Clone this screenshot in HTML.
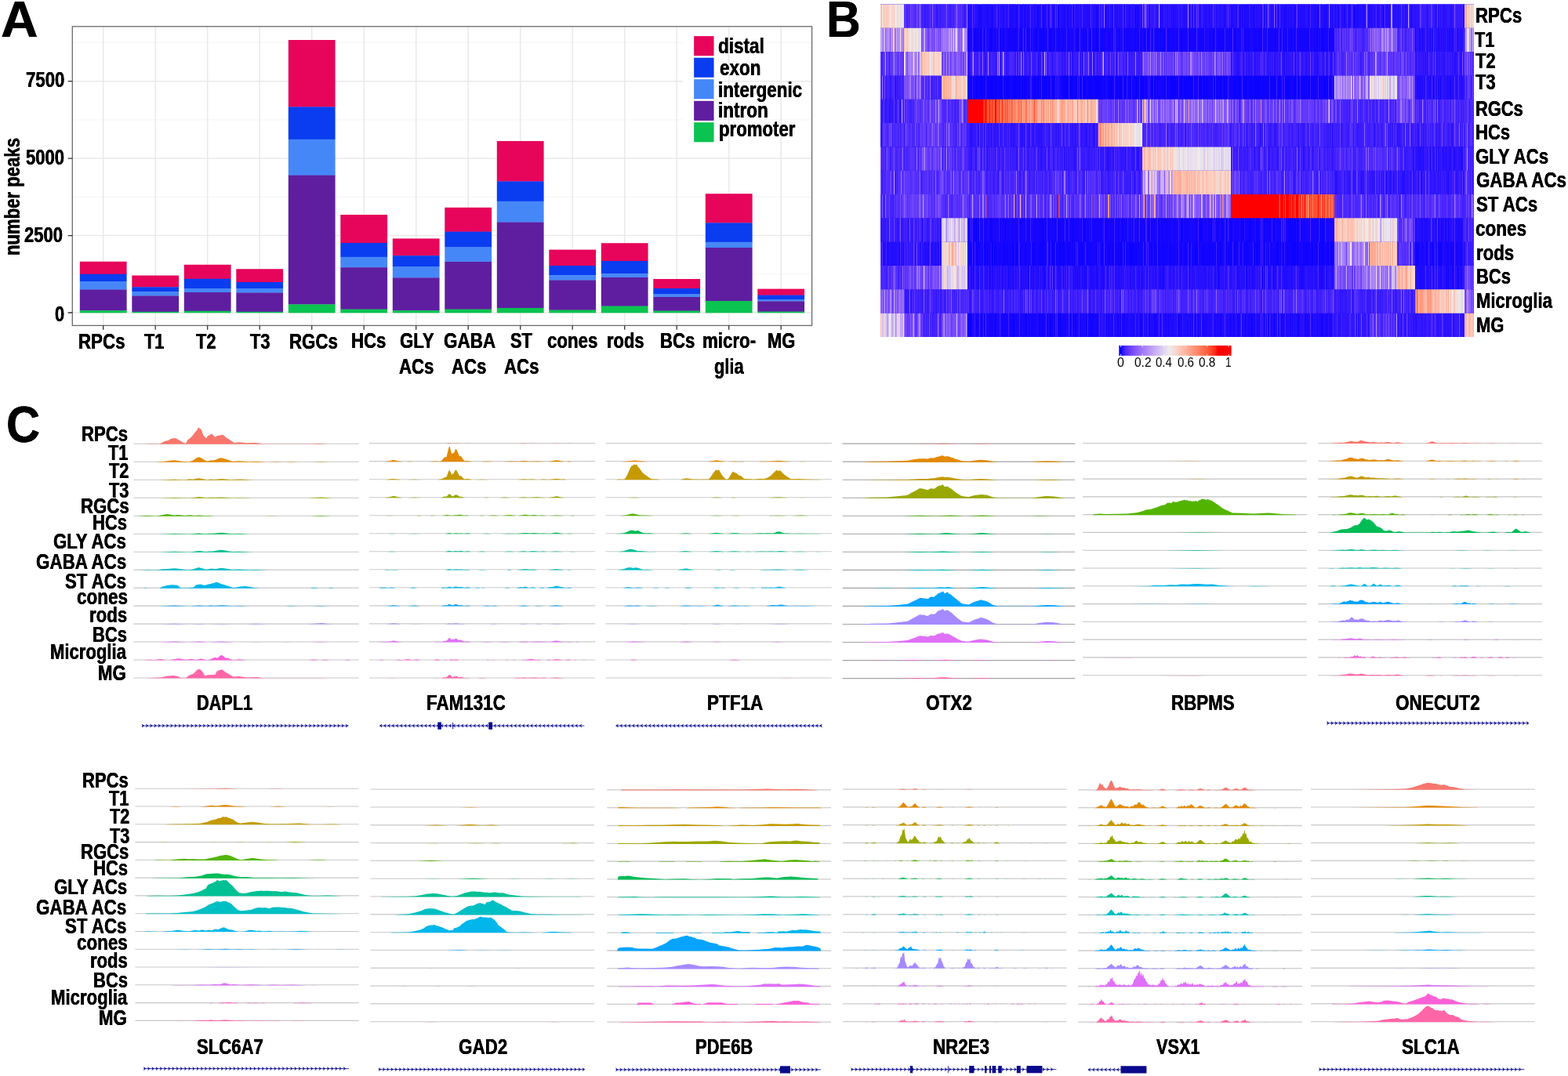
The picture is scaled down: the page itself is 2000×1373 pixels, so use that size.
<!DOCTYPE html>
<html lang="en"><head><meta charset="utf-8"><title>Figure</title>
<style>html,body{margin:0;padding:0;background:#fff}body{width:2000px;height:1373px;overflow:hidden;position:relative;font-family:'Liberation Sans',Arial,Helvetica,sans-serif}svg{display:block;position:absolute;left:0;top:0}.t{position:absolute;white-space:nowrap;line-height:1;font-weight:bold;color:#000;text-shadow:.25px 0 #000,-.25px 0 #000;transform-origin:0 50%}.n{font-weight:normal;text-shadow:none}.s{text-shadow:none}</style></head><body>
<svg width="2000" height="1373" viewBox="0 0 2000 1373">
<rect width="2000" height="1373" fill="#fff"/>
<path d="M92.3 349.77H1035.6M92.3 251.33H1035.6M92.3 152.88H1035.6M92.3 54.43H1035.6" stroke="#f4f4f4" stroke-width="1" fill="none"/>
<path d="M92.3 399.00H1035.6M92.3 300.55H1035.6M92.3 202.10H1035.6M92.3 103.65H1035.6M131.70 33.8V415.4M198.20 33.8V415.4M264.70 33.8V415.4M331.20 33.8V415.4M397.70 33.8V415.4M464.20 33.8V415.4M530.70 33.8V415.4M597.20 33.8V415.4M663.70 33.8V415.4M730.20 33.8V415.4M796.70 33.8V415.4M863.20 33.8V415.4M929.70 33.8V415.4M996.20 33.8V415.4" stroke="#e9e9e9" stroke-width="1.5" fill="none"/>
<rect x="101.80" y="333.75" width="59.8" height="16.30" fill="#E6055A"/>
<rect x="101.80" y="349.75" width="59.8" height="9.55" fill="#0A3CF0"/>
<rect x="101.80" y="359.00" width="59.8" height="10.80" fill="#4687F8"/>
<rect x="101.80" y="369.50" width="59.8" height="27.05" fill="#5F1EA0"/>
<rect x="101.80" y="396.25" width="59.8" height="3.05" fill="#0AC350"/>
<rect x="168.30" y="351.50" width="59.8" height="15.05" fill="#E6055A"/>
<rect x="168.30" y="366.25" width="59.8" height="6.30" fill="#0A3CF0"/>
<rect x="168.30" y="372.25" width="59.8" height="5.55" fill="#4687F8"/>
<rect x="168.30" y="377.50" width="59.8" height="20.55" fill="#5F1EA0"/>
<rect x="168.30" y="397.75" width="59.8" height="1.55" fill="#0AC350"/>
<rect x="234.80" y="337.75" width="59.8" height="18.30" fill="#E6055A"/>
<rect x="234.80" y="355.75" width="59.8" height="12.55" fill="#0A3CF0"/>
<rect x="234.80" y="368.00" width="59.8" height="5.30" fill="#4687F8"/>
<rect x="234.80" y="373.00" width="59.8" height="24.05" fill="#5F1EA0"/>
<rect x="234.80" y="396.75" width="59.8" height="2.55" fill="#0AC350"/>
<rect x="301.30" y="343.25" width="59.8" height="17.05" fill="#E6055A"/>
<rect x="301.30" y="360.00" width="59.8" height="8.55" fill="#0A3CF0"/>
<rect x="301.30" y="368.25" width="59.8" height="5.55" fill="#4687F8"/>
<rect x="301.30" y="373.50" width="59.8" height="24.55" fill="#5F1EA0"/>
<rect x="301.30" y="397.75" width="59.8" height="1.55" fill="#0AC350"/>
<rect x="367.80" y="51.00" width="59.8" height="85.70" fill="#E6055A"/>
<rect x="367.80" y="136.40" width="59.8" height="41.70" fill="#0A3CF0"/>
<rect x="367.80" y="177.80" width="59.8" height="46.10" fill="#4687F8"/>
<rect x="367.80" y="223.60" width="59.8" height="165.10" fill="#5F1EA0"/>
<rect x="367.80" y="388.40" width="59.8" height="10.90" fill="#0AC350"/>
<rect x="434.30" y="274.00" width="59.8" height="36.30" fill="#E6055A"/>
<rect x="434.30" y="310.00" width="59.8" height="18.10" fill="#0A3CF0"/>
<rect x="434.30" y="327.80" width="59.8" height="13.70" fill="#4687F8"/>
<rect x="434.30" y="341.20" width="59.8" height="53.70" fill="#5F1EA0"/>
<rect x="434.30" y="394.60" width="59.8" height="4.70" fill="#0AC350"/>
<rect x="500.80" y="304.40" width="59.8" height="22.10" fill="#E6055A"/>
<rect x="500.80" y="326.20" width="59.8" height="14.10" fill="#0A3CF0"/>
<rect x="500.80" y="340.00" width="59.8" height="14.70" fill="#4687F8"/>
<rect x="500.80" y="354.40" width="59.8" height="42.10" fill="#5F1EA0"/>
<rect x="500.80" y="396.20" width="59.8" height="3.10" fill="#0AC350"/>
<rect x="567.30" y="264.80" width="59.8" height="31.10" fill="#E6055A"/>
<rect x="567.30" y="295.60" width="59.8" height="20.10" fill="#0A3CF0"/>
<rect x="567.30" y="315.40" width="59.8" height="18.90" fill="#4687F8"/>
<rect x="567.30" y="334.00" width="59.8" height="60.90" fill="#5F1EA0"/>
<rect x="567.30" y="394.60" width="59.8" height="4.70" fill="#0AC350"/>
<rect x="633.80" y="180.00" width="59.8" height="51.70" fill="#E6055A"/>
<rect x="633.80" y="231.40" width="59.8" height="25.70" fill="#0A3CF0"/>
<rect x="633.80" y="256.80" width="59.8" height="27.10" fill="#4687F8"/>
<rect x="633.80" y="283.60" width="59.8" height="109.70" fill="#5F1EA0"/>
<rect x="633.80" y="393.00" width="59.8" height="6.30" fill="#0AC350"/>
<rect x="700.30" y="318.60" width="59.8" height="20.70" fill="#E6055A"/>
<rect x="700.30" y="339.00" width="59.8" height="12.50" fill="#0A3CF0"/>
<rect x="700.30" y="351.20" width="59.8" height="6.70" fill="#4687F8"/>
<rect x="700.30" y="357.60" width="59.8" height="38.30" fill="#5F1EA0"/>
<rect x="700.30" y="395.60" width="59.8" height="3.70" fill="#0AC350"/>
<rect x="766.80" y="310.20" width="59.8" height="23.10" fill="#E6055A"/>
<rect x="766.80" y="333.00" width="59.8" height="16.50" fill="#0A3CF0"/>
<rect x="766.80" y="349.20" width="59.8" height="5.10" fill="#4687F8"/>
<rect x="766.80" y="354.00" width="59.8" height="36.90" fill="#5F1EA0"/>
<rect x="766.80" y="390.60" width="59.8" height="8.70" fill="#0AC350"/>
<rect x="833.30" y="356.00" width="59.8" height="12.30" fill="#E6055A"/>
<rect x="833.30" y="368.00" width="59.8" height="7.70" fill="#0A3CF0"/>
<rect x="833.30" y="375.40" width="59.8" height="3.90" fill="#4687F8"/>
<rect x="833.30" y="379.00" width="59.8" height="17.90" fill="#5F1EA0"/>
<rect x="833.30" y="396.60" width="59.8" height="2.70" fill="#0AC350"/>
<rect x="899.80" y="247.20" width="59.8" height="37.50" fill="#E6055A"/>
<rect x="899.80" y="284.40" width="59.8" height="24.70" fill="#0A3CF0"/>
<rect x="899.80" y="308.80" width="59.8" height="7.50" fill="#4687F8"/>
<rect x="899.80" y="316.00" width="59.8" height="68.30" fill="#5F1EA0"/>
<rect x="899.80" y="384.00" width="59.8" height="15.30" fill="#0AC350"/>
<rect x="966.30" y="368.60" width="59.8" height="8.30" fill="#E6055A"/>
<rect x="966.30" y="376.60" width="59.8" height="5.70" fill="#0A3CF0"/>
<rect x="966.30" y="382.00" width="59.8" height="2.70" fill="#4687F8"/>
<rect x="966.30" y="384.40" width="59.8" height="13.50" fill="#5F1EA0"/>
<rect x="966.30" y="397.60" width="59.8" height="1.70" fill="#0AC350"/>
<rect x="871.3" y="41" width="45" height="145.5" fill="#fff"/>
<rect x="885.15" y="46.1" width="25.4" height="25.1" fill="#E6055A"/>
<rect x="885.15" y="73.7" width="25.4" height="25.1" fill="#0A3CF0"/>
<rect x="885.15" y="101.2" width="25.4" height="25.1" fill="#4687F8"/>
<rect x="885.15" y="128.8" width="25.4" height="25.1" fill="#5F1EA0"/>
<rect x="885.15" y="156.2" width="25.4" height="25.1" fill="#0AC350"/>
<rect x="92.3" y="33.8" width="943.3" height="381.6" fill="none" stroke="#6a6a6a" stroke-width="1.3"/>
<path d="M86.7 399.00H92.3M86.7 300.55H92.3M86.7 202.10H92.3M86.7 103.65H92.3M131.70 415.4v5.4M198.20 415.4v5.4M264.70 415.4v5.4M331.20 415.4v5.4M397.70 415.4v5.4M464.20 415.4v5.4M530.70 415.4v5.4M597.20 415.4v5.4M663.70 415.4v5.4M730.20 415.4v5.4M796.70 415.4v5.4M863.20 415.4v5.4M929.70 415.4v5.4M996.20 415.4v5.4" stroke="#333" stroke-width="1.3" fill="none"/>
<defs><filter id="hb" filterUnits="userSpaceOnUse" x="1115" y="0" width="775" height="440" color-interpolation-filters="sRGB"><feGaussianBlur stdDeviation="0.7"/></filter></defs>
<g filter="url(#hb)">
<rect x="1123" y="5.4" width="757" height="424.6" fill="#1606ff"/>
<g stroke-width="30.329" fill="none">
<path stroke="#0301ff" d="M1277 111.55h1m100 0h1m242 0h1m41 0h1"/>
<path stroke="#0b03ff" d="M1242 50.89h1m1 0h1m5 0h1m1 0h1m10 0h2m10 0h1m3 0h1m5 0h1m1 0h1m5 0h1m1 0h1m4 0h1m1 0h1m8 0h1m3 0h1m5 0h2m4 0h1m2 0h1m1 0h1m6 0h1m1 0h1m9 0h1m5 0h1m16 0h1m6 0h1m8 0h1m7 0h2m3 0h1m1 0h1m13 0h1m27 0h1m7 0h1m3 0h1m3 0h2m12 0h1m1 0h1m3 0h1m1 0h1m4 0h1m15 0h2m9 0h1m11 0h1m1 0h1m3 0h1m1 0h1m9 0h1m7 0h1m3 0h1m3 0h1m1 0h1m4 0h1m2 0h1m1 0h1m12 0h1m4 0h1m6 0h1m6 0h1m18 0h1m16 0h1m3 0h1m3 0h1m11 0h1m3 0h1m12 0h1m5 0h2m7 0h1M1235 111.55h1m2 0h2m1 0h2m1 0h3m1 0h1m1 0h4m2 0h1m2 0h1m1 0h7m1 0h3m1 0h1m1 0h2m1 0h1m2 0h1m1 0h5m3 0h7m1 0h3m1 0h2m1 0h3m2 0h1m6 0h4m1 0h2m4 0h1m1 0h4m2 0h3m1 0h1m1 0h2m2 0h1m1 0h1m4 0h1m1 0h7m2 0h4m1 0h1m1 0h2m3 0h1m1 0h1m1 0h4m1 0h1m1 0h5m1 0h1m1 0h8m1 0h1m2 0h1m4 0h8m2 0h3m1 0h4m3 0h3m3 0h1m1 0h1m1 0h1m1 0h1m1 0h3m1 0h1m1 0h5m2 0h1m1 0h1m4 0h3m1 0h2m2 0h1m8 0h2m1 0h3m1 0h8m1 0h2m1 0h4m2 0h4m1 0h6m2 0h2m2 0h1m1 0h4m2 0h2m1 0h3m1 0h1m2 0h2m1 0h2m1 0h3m1 0h4m1 0h3m1 0h2m3 0h1m1 0h1m1 0h4m1 0h5m3 0h5m1 0h1m1 0h4m1 0h10m1 0h2m1 0h1m1 0h2m1 0h1m1 0h1m2 0h4m3 0h4m5 0h7m2 0h1m1 0h3m2 0h3m1 0h1m1 0h1m3 0h2m1 0h3m1 0h2m1 0h1m1 0h1m2 0h1m1 0h2m1 0h1m2 0h3m1 0h2m1 0h1m1 0h1m3 0h1M1241 293.52h2m1 0h2m2 0h1m13 0h1m1 0h1m17 0h1m29 0h1m15 0h1m1 0h1m11 0h1m6 0h1m1 0h1m7 0h1m8 0h1m10 0h1m2 0h3m8 0h1m11 0h1m5 0h1m8 0h1m5 0h1m4 0h1m12 0h1m5 0h1m3 0h1m10 0h1m2 0h1m8 0h1m3 0h1m6 0h1m8 0h1m9 0h2m5 0h1m10 0h1m4 0h3m1 0h1m10 0h1m2 0h1m10 0h1m1 0h1m2 0h1m4 0h2m12 0h1m1 0h2m6 0h3m6 0h1m1 0h1m7 0h1m6 0h1m5 0h1m17 0h1m1 0h2m1 0h1m2 0h2m1 0h2m3 0h1m21 0h1m2 0h1m2 0h1m1 0h1M1234 323.85h1m2 0h1m3 0h2m3 0h1m8 0h2m2 0h1m2 0h1m2 0h2m1 0h2m1 0h1m8 0h2m2 0h1m3 0h1m2 0h2m2 0h3m3 0h1m6 0h1m7 0h1m1 0h2m6 0h2m1 0h3m1 0h1m4 0h2m1 0h3m3 0h2m2 0h3m1 0h3m3 0h1m1 0h2m3 0h1m2 0h1m4 0h1m1 0h2m1 0h1m5 0h1m2 0h1m10 0h1m4 0h1m2 0h1m3 0h1m1 0h1m3 0h2m2 0h1m2 0h1m1 0h3m3 0h1m2 0h1m2 0h6m1 0h1m1 0h1m1 0h1m3 0h1m3 0h1m8 0h2m2 0h1m1 0h1m2 0h2m2 0h1m1 0h2m1 0h1m1 0h1m3 0h1m5 0h1m7 0h1m4 0h2m1 0h1m2 0h2m5 0h4m5 0h1m1 0h1m1 0h1m2 0h1m1 0h2m2 0h1m3 0h1m2 0h1m2 0h2m9 0h1m1 0h1m4 0h3m9 0h2m1 0h1m1 0h1m7 0h2m1 0h3m7 0h1m2 0h1m5 0h1m6 0h3m2 0h1m3 0h1m2 0h1m1 0h1m1 0h1m2 0h6m1 0h2m6 0h1m1 0h1m1 0h2m1 0h1m3 0h2m4 0h1m3 0h1m1 0h3m5 0h2m3 0h2m107 0h1m19 0h1m8 0h1m1 0h1M1235 414.84h4m16 0h1m13 0h2m3 0h1m4 0h1m1 0h1m10 0h2m14 0h2m15 0h2m3 0h1m5 0h1m2 0h2m8 0h1m1 0h2m13 0h1m1 0h1m2 0h2m4 0h1m10 0h1m2 0h1m1 0h1m71 0h1m122 0h1m29 0h1m6 0h1"/>
<path stroke="#1f0cff" d="M1234 20.56h1m1 0h4m4 0h1m2 0h1m1 0h1m1 0h3m1 0h1m1 0h5m1 0h2m1 0h1m6 0h1m2 0h1m2 0h2m2 0h1m3 0h7m1 0h1m1 0h2m2 0h1m1 0h2m1 0h1m1 0h1m1 0h1m7 0h3m1 0h1m2 0h2m5 0h3m1 0h3m5 0h1m2 0h1m4 0h1m1 0h4m4 0h2m1 0h1m2 0h1m3 0h1m1 0h2m1 0h1m1 0h1m2 0h3m1 0h4m2 0h1m1 0h1m1 0h1m2 0h1m6 0h1m3 0h1m2 0h1m2 0h1m1 0h2m2 0h1m1 0h2m1 0h1m1 0h1m1 0h1m1 0h2m9 0h1m2 0h1m1 0h1m2 0h1m12 0h2m14 0h2m3 0h1m2 0h1m4 0h1m1 0h2m1 0h1m5 0h1m4 0h1m5 0h2m2 0h1m9 0h2m5 0h2m3 0h1m2 0h1m5 0h1m4 0h1m4 0h3m6 0h1m2 0h1m2 0h2m4 0h1m1 0h2m2 0h5m2 0h2m2 0h2m1 0h1m4 0h1m4 0h2m1 0h2m1 0h1m1 0h2m1 0h2m2 0h1m2 0h2m1 0h2m1 0h1m2 0h3m1 0h2m1 0h2m2 0h2m3 0h2m1 0h3m1 0h3m3 0h3m1 0h1m1 0h1m1 0h3m2 0h1m2 0h2m4 0h3m1 0h1m4 0h1m2 0h2m2 0h1m5 0h1m1 0h2m4 0h2m4 0h1m4 0h3m1 0h1m2 0h3m5 0h2m1 0h1m3 0h1m2 0h2m1 0h1m3 0h1m3 0h1m1 0h1m2 0h1m3 0h1m1 0h1m1 0h1m2 0h1m8 0h1m6 0h2m33 0h1m16 0h1m15 0h1M1238 50.89h1m2 0h1m7 0h1m9 0h2m6 0h1m2 0h2m1 0h1m4 0h1m3 0h1m1 0h1m13 0h1m17 0h2m5 0h2m17 0h1m9 0h1m5 0h1m6 0h1m5 0h1m4 0h1m3 0h1m10 0h1m12 0h1m6 0h1m6 0h1m2 0h1m2 0h1m4 0h2m4 0h1m9 0h1m11 0h1m10 0h1m3 0h1m5 0h1m9 0h1m39 0h1m1 0h1m7 0h1m1 0h2m3 0h1m18 0h1m1 0h1m4 0h1m6 0h1m8 0h1m6 0h1m1 0h1m16 0h1m16 0h1m18 0h1m24 0h1m6 0h1m2 0h1m129 0h2m1 0h1m2 0h1m5 0h2m6 0h2m2 0h1m2 0h1m1 0h1m2 0h1m1 0h2m1 0h3m4 0h2m5 0h1M1313 81.22h1m10 0h1m253 0h1m22 0h1m23 0h1m11 0h2m13 0h1m8 0h1m18 0h1m6 0h1m9 0h1m117 0h1m13 0h1m33 0h1M1302 111.55h1m108 0h1m147 0h1m77 0h1m167 0h1m4 0h3m1 0h1m2 0h1m3 0h1m1 0h3m1 0h1m1 0h1m1 0h1m2 0h2m7 0h1m1 0h2m1 0h2m2 0h1m3 0h1m1 0h1m2 0h1m2 0h1M1276 172.21h1m35 0h1m82 0h1m115 0h1m187 0h1m53 0h1m98 0h1M1413 202.54h1m38 0h1m120 0h1m55 0h1m173 0h1m5 0h1m1 0h1m3 0h1m5 0h1m2 0h1m2 0h1m1 0h1m2 0h1m1 0h1m6 0h1m3 0h1m3 0h1m4 0h2m7 0h3M1704 232.86h1m54 0h1m8 0h1m20 0h1m1 0h1m7 0h1m46 0h1m19 0h1M1252 293.52h1m7 0h2m6 0h1m2 0h1m5 0h1m10 0h1m9 0h1m17 0h1m23 0h1m2 0h1m33 0h1m7 0h1m3 0h2m15 0h2m17 0h1m3 0h1m10 0h1m4 0h1m3 0h1m2 0h1m21 0h1m5 0h1m13 0h1m1 0h1m4 0h1m3 0h1m3 0h1m9 0h1m1 0h1m2 0h1m10 0h1m3 0h1m6 0h1m9 0h1m3 0h1m2 0h1m3 0h1m5 0h1m7 0h1m18 0h2m7 0h1m17 0h1m8 0h1m1 0h1m14 0h1m3 0h1m7 0h1m2 0h1m14 0h1m8 0h1m2 0h1m1 0h1m2 0h1m105 0h1m3 0h1m1 0h3m1 0h6m1 0h1m10 0h1m4 0h3m6 0h1m1 0h1m3 0h1m1 0h1m3 0h5M1126 323.85h3m2 0h3m2 0h1m1 0h2m1 0h1m1 0h1m2 0h1m2 0h1m1 0h2m20 0h1m4 0h1m1 0h2m1 0h2m3 0h2m2 0h2m2 0h2m1 0h2m34 0h1m15 0h1m11 0h2m5 0h1m1 0h1m21 0h1m65 0h1m8 0h1m91 0h1m8 0h1m37 0h1m51 0h1m55 0h1m58 0h1m19 0h1m115 0h2m2 0h1m5 0h1m1 0h1m1 0h1m2 0h1m3 0h1m6 0h4m1 0h1m3 0h2m4 0h1m1 0h1m3 0h2m2 0h1M1234 354.18h1m3 0h2m1 0h2m3 0h3m1 0h1m1 0h1m5 0h2m3 0h1m1 0h2m5 0h1m1 0h1m3 0h2m2 0h1m4 0h1m1 0h1m1 0h2m2 0h1m6 0h2m1 0h1m1 0h2m5 0h2m1 0h2m2 0h1m1 0h1m6 0h2m4 0h1m1 0h1m5 0h1m4 0h3m1 0h1m2 0h1m2 0h1m1 0h1m11 0h2m7 0h3m5 0h4m1 0h1m2 0h1m5 0h3m5 0h1m3 0h1m5 0h2m2 0h2m2 0h1m7 0h1m7 0h1m3 0h1m1 0h2m2 0h2m4 0h1m10 0h2m3 0h3m1 0h1m1 0h1m1 0h1m1 0h1m4 0h1m10 0h1m8 0h1m2 0h2m2 0h1m7 0h1m7 0h2m3 0h1m3 0h1m2 0h1m6 0h1m7 0h1m1 0h1m3 0h2m6 0h4m3 0h1m1 0h1m6 0h2m1 0h4m9 0h1m3 0h1m3 0h3m3 0h1m1 0h3m4 0h1m4 0h3m3 0h1m2 0h2m3 0h1m5 0h1m2 0h1m1 0h2m5 0h1m3 0h1m3 0h1m1 0h1m2 0h3m1 0h1m2 0h1m1 0h2m112 0h1m1 0h4m1 0h5m2 0h1m1 0h1m5 0h2m2 0h1m2 0h1m1 0h3m3 0h1m1 0h1m1 0h1m1 0h1m1 0h1m5 0h1m1 0h1m4 0h2M1161 384.51h1m266 0h1M1234 414.84h1m5 0h3m5 0h1m4 0h1m2 0h1m3 0h1m6 0h1m3 0h1m1 0h1m2 0h1m3 0h1m14 0h1m2 0h1m5 0h1m5 0h1m3 0h1m7 0h1m1 0h1m8 0h1m3 0h1m5 0h1m3 0h1m12 0h1m1 0h1m1 0h1m9 0h1m3 0h1m1 0h1m1 0h1m1 0h1m21 0h1m3 0h1m1 0h2m1 0h3m1 0h1m1 0h4m2 0h2m2 0h1m3 0h2m1 0h3m2 0h2m1 0h2m1 0h1m3 0h1m3 0h1m1 0h1m1 0h2m4 0h5m3 0h3m2 0h2m1 0h3m1 0h3m1 0h5m2 0h1m6 0h1m1 0h1m1 0h6m2 0h1m3 0h1m1 0h1m5 0h3m1 0h1m2 0h2m1 0h4m2 0h1m3 0h1m1 0h2m1 0h2m4 0h1m2 0h3m4 0h3m2 0h1m1 0h1m3 0h1m2 0h1m2 0h1m1 0h3m2 0h1m4 0h1m2 0h2m1 0h3m3 0h3m7 0h1m2 0h1m1 0h3m4 0h1m1 0h1m1 0h2m1 0h4m2 0h4m3 0h2m4 0h1m6 0h1m1 0h1m1 0h1m1 0h2m2 0h2m2 0h5m3 0h1m2 0h1m1 0h1m1 0h1m1 0h3m1 0h1m30 0h1m54 0h1m18 0h1m47 0h1m8 0h1"/>
<path stroke="#2911ff" d="M1195 20.56h1m34 0h1m4 0h1m5 0h2m2 0h2m7 0h1m1 0h1m5 0h1m4 0h4m1 0h1m4 0h2m2 0h1m2 0h2m8 0h1m5 0h1m4 0h1m3 0h1m2 0h2m1 0h1m5 0h1m5 0h1m1 0h1m12 0h1m2 0h1m5 0h1m1 0h1m5 0h2m12 0h1m4 0h1m2 0h1m3 0h1m4 0h1m4 0h1m1 0h1m6 0h1m2 0h1m1 0h1m2 0h1m1 0h1m2 0h1m3 0h1m1 0h1m4 0h1m7 0h4m1 0h2m2 0h1m7 0h3m3 0h1m15 0h1m1 0h1m2 0h1m2 0h1m4 0h1m2 0h1m1 0h1m1 0h1m2 0h1m1 0h3m5 0h2m1 0h4m6 0h1m1 0h2m4 0h1m4 0h3m2 0h3m1 0h2m7 0h2m1 0h1m1 0h1m1 0h2m11 0h1m1 0h2m4 0h1m2 0h1m2 0h1m10 0h1m5 0h4m1 0h1m13 0h1m3 0h1m2 0h1m5 0h1m1 0h1m4 0h1m2 0h1m2 0h2m7 0h1m3 0h1m4 0h2m5 0h1m1 0h1m3 0h1m2 0h1m5 0h1m4 0h1m2 0h3m1 0h1m3 0h1m3 0h1m1 0h2m1 0h1m2 0h2m1 0h1m2 0h1m11 0h1m1 0h2m3 0h1m2 0h2m2 0h1m1 0h2m6 0h1m2 0h1m3 0h1m2 0h1m1 0h2m1 0h1m5 0h1m2 0h1m1 0h1m1 0h1m2 0h1m3 0h3m5 0h2m1 0h2m1 0h1m1 0h1m10 0h2m8 0h3m4 0h1m2 0h3m1 0h1m4 0h1m16 0h1M1304 50.89h1m64 0h2m422 0h1m12 0h1m1 0h1m2 0h3m5 0h1m1 0h1m1 0h1m5 0h1m1 0h3m2 0h2m1 0h2m1 0h1m2 0h1m1 0h1m2 0h1m5 0h1m3 0h1m1 0h3m2 0h1M1235 81.22h3m8 0h1m10 0h1m8 0h1m9 0h1m7 0h1m9 0h1m2 0h1m27 0h1m1 0h1m14 0h1m11 0h1m3 0h1m8 0h2m8 0h1m2 0h1m2 0h1m7 0h1m2 0h2m3 0h1m8 0h1m14 0h1m146 0h1m5 0h1m2 0h2m4 0h2m3 0h1m1 0h2m2 0h1m2 0h1m3 0h1m9 0h1m3 0h1m2 0h1m6 0h1m1 0h1m2 0h1m3 0h1m3 0h2m1 0h1m4 0h1m2 0h1m4 0h1m2 0h1m5 0h2m2 0h2m2 0h1m2 0h4m1 0h1m10 0h2m4 0h2m1 0h1m103 0h2m6 0h1m3 0h2m1 0h2m3 0h1m6 0h2m1 0h1m3 0h1m1 0h2m3 0h1m5 0h1m2 0h3m6 0h1M1141 111.55h2m663 0h2m1 0h1m3 0h1m1 0h2m3 0h1m1 0h1m9 0h1m3 0h1m1 0h1m2 0h2m4 0h1m3 0h1m1 0h2m2 0h1m4 0h2m1 0h2M1128 141.88h1m1 0h1m3 0h2m1 0h1M1124 172.21h1m112 0h4m6 0h2m6 0h1m2 0h1m2 0h1m2 0h1m2 0h1m1 0h1m2 0h1m5 0h1m4 0h1m5 0h2m1 0h2m7 0h4m1 0h1m6 0h1m3 0h2m2 0h1m2 0h2m1 0h3m13 0h1m3 0h1m2 0h1m6 0h1m10 0h1m2 0h2m6 0h1m4 0h3m3 0h1m178 0h1m20 0h1m17 0h1m17 0h1m17 0h1m11 0h1m17 0h1m87 0h1m19 0h1m1 0h1m15 0h1m7 0h1m6 0h1m11 0h1m8 0h1m11 0h1m16 0h1m1 0h1M1238 202.54h1m19 0h2m9 0h1m4 0h1m21 0h1m13 0h1m1 0h1m11 0h1m2 0h2m4 0h1m3 0h1m6 0h1m12 0h1m12 0h2m17 0h1m17 0h1m3 0h2m2 0h1m3 0h2m1 0h1m8 0h1m1 0h1m1 0h2m1 0h1m4 0h1m1 0h1m4 0h2m147 0h1m5 0h1m13 0h1m3 0h1m32 0h1m5 0h2m14 0h1m126 0h4m1 0h1m1 0h3m8 0h1m11 0h1m1 0h1m1 0h2m2 0h2m2 0h2m1 0h1m6 0h1m2 0h2M1142 232.86h1m239 0h1m22 0h1m41 0h1m242 0h1m12 0h1m2 0h1m14 0h1m5 0h1m8 0h2m1 0h1m10 0h1m1 0h1m8 0h1m5 0h1m4 0h3m2 0h2m4 0h1m4 0h1m1 0h1m4 0h1m6 0h2m4 0h2m2 0h1m11 0h1m4 0h2m3 0h1m2 0h1m4 0h1m1 0h1m2 0h2m1 0h1m6 0h1m1 0h1M1126 293.52h1m2 0h1m14 0h1m5 0h1m7 0h1m5 0h1m11 0h2m1 0h1m2 0h1m260 0h1m143 0h1m219 0h3m1 0h1m3 0h1m6 0h1m1 0h1m3 0h3m1 0h1m3 0h2m7 0h2m2 0h1m1 0h1m1 0h1m4 0h1m8 0h1M1129 323.85h1m4 0h2m1 0h1m2 0h1m1 0h1m1 0h1m14 0h1m1 0h1m5 0h1m2 0h1m3 0h1m1 0h1m2 0h1m2 0h1m7 0h1m3 0h2m71 0h1m536 0h1m12 0h1M1235 354.18h1m4 0h1m3 0h2m7 0h1m2 0h2m3 0h1m5 0h3m1 0h1m3 0h1m1 0h1m3 0h1m2 0h2m2 0h1m1 0h1m2 0h1m2 0h1m1 0h2m1 0h1m2 0h1m1 0h1m2 0h2m5 0h1m2 0h2m1 0h1m3 0h4m3 0h2m2 0h1m2 0h2m3 0h1m2 0h1m3 0h1m2 0h1m2 0h1m3 0h1m3 0h1m2 0h2m1 0h1m2 0h1m1 0h2m2 0h1m6 0h1m5 0h1m1 0h2m2 0h2m1 0h1m4 0h2m1 0h1m1 0h2m5 0h1m3 0h2m2 0h2m1 0h3m2 0h1m5 0h4m1 0h1m3 0h1m3 0h1m2 0h1m1 0h1m4 0h3m1 0h3m9 0h1m3 0h1m4 0h3m2 0h4m1 0h1m1 0h1m2 0h2m1 0h5m1 0h1m3 0h1m2 0h3m2 0h1m2 0h7m2 0h1m3 0h2m2 0h1m4 0h1m4 0h5m11 0h1m2 0h1m5 0h3m3 0h1m4 0h1m7 0h2m1 0h2m1 0h2m4 0h1m2 0h1m4 0h2m9 0h1m1 0h1m2 0h1m3 0h1m1 0h1m1 0h2m2 0h2m4 0h1m1 0h1m1 0h1m5 0h2m1 0h2m1 0h3m1 0h1m1 0h1m1 0h1m9 0h1m4 0h3m1 0h2m2 0h1m104 0h1m10 0h1m2 0h1m1 0h4m3 0h1m2 0h1m2 0h1m3 0h1m1 0h1m1 0h1m5 0h1m1 0h1m2 0h1m2 0h1m3 0h2m2 0h1M1155 384.51h1m6 0h1m102 0h1m36 0h1m19 0h1m8 0h1m10 0h1m1 0h1m29 0h1m14 0h1m14 0h1m3 0h1m43 0h1m226 0h1m29 0h1m5 0h1m1 0h1m6 0h1m18 0h1m16 0h1m19 0h1M1401 414.84h1m1 0h1m37 0h1m9 0h2m7 0h1m2 0h1m33 0h1m1 0h1m16 0h1m2 0h1m24 0h1m1 0h1m12 0h1m1 0h1m5 0h1m18 0h1m33 0h1m2 0h1m20 0h1m5 0h1m1 0h1m7 0h4m11 0h1m2 0h1m10 0h1m4 0h1m8 0h1m3 0h3m3 0h1m1 0h1m2 0h2m7 0h1m2 0h1m6 0h1m1 0h1m6 0h1m36 0h1m7 0h2m4 0h1m1 0h1m2 0h2m1 0h1m7 0h1m3 0h1m5 0h1m9 0h2m3 0h1m3 0h3m1 0h2m1 0h2m2 0h1m11 0h1m1 0h1"/>
<path stroke="#3217ff" d="M1176 20.56h1m2 0h2m13 0h1m79 0h2m6 0h1m34 0h1m23 0h1m22 0h1m5 0h2m4 0h1m16 0h1m7 0h1m1 0h1m22 0h1m3 0h1m12 0h1m2 0h1m11 0h1m9 0h4m2 0h1m1 0h1m2 0h1m4 0h2m1 0h1m2 0h1m1 0h1m11 0h1m1 0h2m10 0h1m6 0h1m1 0h1m18 0h1m1 0h3m3 0h1m3 0h1m6 0h1m1 0h3m23 0h2m6 0h1m63 0h1m20 0h1m18 0h1m17 0h1m1 0h1m3 0h1m22 0h1m1 0h1m7 0h1m14 0h1m3 0h1m3 0h1m2 0h1m1 0h1m7 0h1m4 0h1m2 0h1m1 0h1m1 0h1m3 0h1m1 0h1m1 0h2m4 0h1m2 0h1m1 0h1m5 0h2m2 0h1m3 0h1m1 0h3m2 0h1m1 0h2m4 0h1m2 0h1m1 0h1M1710 50.89h1m96 0h1m1 0h1m6 0h1m5 0h1m7 0h1m13 0h1m9 0h1m6 0h1M1234 81.22h1m4 0h1m4 0h1m5 0h2m2 0h3m6 0h1m5 0h1m13 0h1m2 0h1m8 0h1m2 0h1m1 0h2m5 0h3m1 0h1m6 0h3m5 0h1m8 0h1m1 0h1m17 0h1m1 0h1m3 0h1m2 0h2m3 0h1m1 0h1m1 0h2m6 0h1m8 0h1m1 0h1m9 0h1m10 0h2m2 0h1m6 0h1m7 0h1m3 0h1m6 0h1m8 0h2m2 0h1m114 0h1m1 0h3m1 0h1m3 0h1m7 0h1m4 0h2m1 0h1m2 0h1m3 0h4m1 0h1m1 0h1m3 0h2m1 0h2m2 0h2m2 0h1m4 0h1m3 0h1m6 0h1m1 0h4m1 0h1m5 0h1m8 0h1m2 0h2m3 0h1m10 0h1m4 0h1m2 0h1m4 0h1m38 0h1m73 0h3m7 0h1m3 0h1m12 0h2m2 0h1m8 0h2m2 0h2m3 0h2m2 0h1m3 0h2M1130 111.55h1m4 0h2m7 0h1m49 0h1m624 0h1m19 0h2m3 0h1m14 0h1m7 0h1M1125 141.88h2m5 0h1m6 0h1m1 0h3m3 0h1m1 0h1m568 0h1m2 0h1m29 0h1m3 0h1m24 0h1m32 0h1m3 0h1M1123 172.21h1m95 0h1m21 0h4m5 0h2m1 0h1m6 0h1m2 0h1m1 0h1m2 0h1m1 0h2m1 0h1m8 0h1m3 0h1m4 0h1m2 0h2m9 0h1m1 0h1m2 0h2m4 0h1m5 0h2m2 0h1m4 0h1m4 0h4m5 0h2m2 0h1m5 0h2m5 0h1m2 0h3m2 0h1m3 0h1m3 0h1m1 0h4m5 0h1m3 0h2m1 0h1m1 0h1m62 0h1m17 0h1m9 0h1m3 0h1m9 0h1m3 0h1m36 0h1m34 0h1m1 0h1m2 0h1m12 0h1m2 0h1m5 0h2m2 0h1m7 0h1m1 0h2m3 0h1m1 0h1m20 0h1m12 0h3m20 0h1m8 0h2m1 0h1m7 0h1m3 0h1m1 0h2m7 0h1m5 0h1m4 0h3m24 0h1m10 0h1m1 0h1m1 0h2m2 0h1m6 0h1m1 0h2m3 0h2m2 0h1m10 0h1m3 0h2m1 0h1m5 0h1m12 0h2m8 0h1m9 0h1m10 0h1M1174 202.54h1m61 0h1m2 0h1m3 0h2m6 0h2m3 0h1m4 0h1m5 0h1m4 0h1m6 0h1m9 0h1m1 0h1m5 0h1m2 0h1m2 0h1m2 0h1m11 0h2m3 0h1m5 0h2m1 0h1m5 0h1m4 0h1m5 0h1m2 0h1m1 0h1m3 0h1m1 0h1m1 0h2m2 0h1m1 0h2m2 0h1m7 0h1m2 0h1m3 0h2m2 0h1m4 0h1m1 0h1m1 0h2m1 0h4m7 0h1m1 0h1m7 0h1m3 0h3m9 0h1m3 0h1m1 0h2m1 0h1m6 0h1m113 0h1m7 0h1m2 0h1m1 0h1m2 0h1m4 0h1m8 0h1m5 0h1m6 0h1m3 0h2m2 0h1m11 0h1m1 0h1m1 0h1m2 0h1m11 0h1m4 0h1m1 0h1m8 0h2m3 0h3m4 0h1m2 0h1m6 0h1m1 0h1m2 0h1m3 0h2m16 0h1m16 0h1m53 0h1m2 0h2m1 0h1m6 0h2m13 0h4m5 0h1m2 0h1m2 0h1m4 0h1m5 0h1m8 0h1m1 0h1m2 0h1m1 0h2m2 0h1m4 0h1M1238 232.86h1m3 0h1m5 0h1m18 0h1m4 0h1m5 0h2m20 0h1m4 0h1m7 0h1m5 0h1m9 0h1m4 0h1m3 0h1m23 0h1m50 0h2m13 0h1m8 0h1m4 0h1m1 0h1m1 0h1m6 0h2m131 0h1m8 0h1m12 0h1m17 0h1m9 0h1m13 0h3m3 0h1m2 0h1m19 0h1m4 0h1m9 0h1m7 0h1m2 0h1m2 0h1m5 0h2m2 0h3m4 0h2m1 0h2m2 0h1m2 0h1m2 0h1m8 0h3m1 0h1m1 0h1m2 0h1m6 0h3m3 0h1m1 0h1m8 0h2m2 0h1m1 0h2m4 0h3m2 0h1m6 0h3m8 0h3m1 0h3m3 0h4m4 0h1m1 0h1m4 0h1m4 0h1m5 0h1m4 0h1m1 0h1m4 0h2m2 0h1m10 0h1M1128 263.19h1m82 0h1m137 0h1m407 0h1m1 0h1M1124 293.52h1m3 0h1m3 0h2m4 0h2m5 0h2m2 0h1m2 0h1m8 0h2m4 0h1m3 0h1m11 0h3m3 0h1m5 0h2m2 0h1m642 0h1m9 0h1m21 0h1M1124 323.85h1m20 0h1m4 0h1m3 0h1m1 0h1m6 0h2m3 0h1m2 0h1m5 0h1m7 0h1m1 0h1m3 0h1m677 0h1m2 0h1m2 0h1m1 0h1M1146 354.18h1m89 0h2m13 0h1m3 0h1m8 0h1m5 0h1m2 0h1m2 0h1m3 0h1m2 0h1m10 0h1m2 0h1m49 0h1m9 0h1m7 0h1m13 0h1m6 0h1m2 0h1m12 0h1m15 0h2m15 0h1m1 0h1m1 0h2m8 0h1m4 0h1m4 0h1m8 0h1m3 0h1m2 0h3m23 0h1m17 0h1m4 0h2m1 0h1m11 0h2m3 0h1m4 0h1m2 0h1m8 0h2m1 0h1m2 0h1m3 0h1m1 0h2m10 0h1m5 0h1m3 0h1m6 0h1m8 0h1m16 0h1m1 0h1m4 0h1m14 0h1m4 0h1m10 0h1m8 0h1m4 0h1m15 0h1m143 0h1m25 0h2M1157 384.51h1m13 0h1m4 0h1m6 0h1m9 0h2m2 0h1m1 0h2m3 0h1m3 0h1m11 0h1m15 0h3m12 0h3m3 0h1m3 0h2m3 0h2m5 0h1m4 0h1m2 0h1m1 0h1m1 0h1m2 0h1m10 0h1m1 0h1m2 0h1m9 0h1m1 0h1m1 0h1m18 0h1m11 0h2m1 0h1m4 0h1m1 0h1m2 0h1m5 0h1m9 0h1m11 0h2m2 0h2m4 0h1m19 0h1m1 0h1m6 0h1m9 0h1m2 0h1m4 0h1m3 0h1m4 0h1m8 0h1m2 0h1m17 0h1m43 0h1m4 0h1m24 0h1m12 0h2m15 0h1m17 0h2m25 0h1m37 0h1m7 0h1m21 0h1m7 0h3m5 0h1m1 0h2m3 0h1m6 0h1m1 0h1m9 0h3m3 0h2m5 0h1m3 0h1m11 0h1m1 0h1m8 0h1m7 0h1m6 0h2M1181 414.84h1m225 0h1m100 0h1m67 0h1m5 0h1m18 0h1m56 0h1m45 0h1m1 0h1m5 0h1m3 0h2m5 0h4m2 0h1m3 0h2m5 0h3m1 0h2m36 0h1m10 0h1m2 0h1m3 0h1m3 0h1m2 0h6m1 0h2m2 0h2m1 0h1m5 0h2m2 0h1m3 0h3m3 0h1m3 0h1m2 0h1m7 0h2m1 0h2m5 0h1"/>
<path stroke="#3b1cfe" d="M1168 20.56h1m13 0h2m1 0h1m1 0h1m4 0h1m5 0h3m1 0h1m8 0h2m3 0h1m15 0h1m10 0h1m171 0h1m51 0h1m5 0h1m29 0h1m28 0h2m30 0h1m136 0h1m89 0h1m23 0h1m7 0h1m4 0h1m9 0h1m9 0h1m8 0h1m1 0h2m1 0h1m1 0h1M1346 50.89h1m13 0h1m92 0h1m82 0h1m105 0h1m27 0h1m23 0h1m9 0h1m15 0h1m8 0h1m8 0h1m49 0h1m36 0h1M1134 81.22h1m107 0h1m16 0h1m1 0h2m5 0h1m1 0h2m3 0h1m2 0h1m6 0h1m17 0h2m1 0h1m7 0h1m1 0h2m11 0h3m1 0h1m2 0h1m3 0h2m1 0h1m1 0h1m3 0h1m1 0h2m3 0h1m2 0h1m2 0h1m7 0h1m1 0h1m2 0h1m2 0h2m5 0h1m3 0h1m6 0h1m3 0h1m2 0h2m10 0h1m4 0h1m4 0h1m11 0h1m1 0h4m1 0h3m2 0h3m3 0h1m126 0h1m4 0h1m3 0h1m10 0h1m9 0h1m8 0h1m6 0h1m1 0h1m8 0h1m13 0h2m5 0h1m1 0h2m11 0h1m6 0h1m2 0h2m2 0h1m12 0h1m1 0h1m31 0h1m9 0h1m60 0h2m3 0h1m1 0h1m1 0h1m7 0h1m1 0h2m6 0h1m3 0h1m4 0h2m2 0h2m2 0h1m9 0h1M1124 111.55h1m2 0h1m4 0h1m1 0h1m4 0h1m3 0h1m1 0h1m1 0h2m1 0h1m34 0h1m3 0h1m2 0h1m4 0h2m1 0h1m39 0h1m16 0h1m21 0h1m34 0h2m12 0h1m11 0h1m5 0h1m3 0h1m23 0h1m1 0h1m55 0h1m4 0h1m5 0h1m9 0h1m10 0h1m1 0h1m4 0h1m15 0h1m15 0h1m18 0h1m5 0h1m18 0h1m2 0h1m33 0h1m43 0h1m6 0h1m2 0h1m15 0h1m3 0h1m12 0h1m28 0h1m132 0h1m36 0h1M1123 141.88h2m4 0h1m8 0h1m9 0h1m2 0h1m9 0h1m3 0h1m8 0h1m43 0h1m2 0h1m412 0h1m70 0h1m4 0h1m9 0h1m14 0h1m7 0h1m17 0h1m1 0h1m5 0h1m3 0h1m3 0h1m27 0h1m4 0h2m14 0h1m5 0h1m2 0h2m5 0h2m6 0h1m6 0h1m2 0h1m3 0h1m1 0h1M1126 172.21h1m8 0h1m12 0h1m52 0h1m1 0h1m29 0h4m15 0h1m3 0h1m2 0h1m2 0h1m17 0h2m3 0h1m2 0h1m7 0h3m10 0h1m5 0h1m3 0h1m10 0h1m1 0h1m1 0h2m5 0h1m6 0h1m2 0h3m5 0h3m2 0h1m4 0h1m5 0h1m11 0h2m3 0h1m6 0h1m59 0h1m5 0h1m4 0h1m24 0h1m1 0h1m11 0h1m2 0h1m2 0h1m10 0h1m2 0h1m10 0h1m9 0h2m5 0h1m2 0h1m9 0h1m2 0h1m3 0h1m9 0h1m5 0h1m1 0h2m8 0h1m6 0h2m5 0h1m8 0h2m7 0h1m9 0h1m1 0h1m1 0h1m2 0h2m3 0h2m3 0h1m2 0h3m1 0h2m6 0h1m2 0h1m6 0h1m1 0h2m4 0h1m2 0h1m1 0h1m3 0h1m5 0h2m1 0h1m1 0h2m1 0h1m2 0h1m2 0h1m6 0h6m5 0h4m1 0h1m1 0h2m10 0h1m11 0h1m2 0h1m9 0h1m7 0h2m3 0h2m4 0h1m5 0h1m2 0h2m1 0h1m4 0h2m7 0h3m6 0h1m2 0h3m2 0h1m2 0h1m5 0h1m3 0h1m9 0h1M1124 202.54h1m1 0h1m8 0h2m6 0h1m8 0h1m82 0h1m1 0h1m3 0h1m3 0h2m1 0h1m1 0h1m11 0h1m1 0h2m11 0h2m1 0h1m2 0h1m1 0h2m1 0h1m3 0h4m5 0h2m4 0h1m3 0h1m2 0h3m3 0h1m4 0h2m4 0h1m4 0h1m11 0h1m4 0h1m1 0h1m3 0h1m4 0h2m1 0h1m7 0h1m3 0h1m1 0h2m2 0h2m5 0h4m13 0h2m6 0h2m6 0h2m5 0h1m1 0h1m4 0h1m1 0h1m12 0h1m119 0h1m1 0h2m4 0h1m4 0h4m5 0h2m3 0h1m1 0h1m3 0h1m1 0h1m2 0h1m12 0h1m1 0h2m2 0h1m4 0h1m2 0h1m1 0h1m1 0h3m3 0h2m2 0h1m7 0h1m2 0h2m4 0h1m11 0h1m6 0h1m3 0h1m3 0h2m3 0h1m3 0h1m20 0h1m1 0h1m6 0h1m34 0h1m4 0h1m2 0h1m3 0h1m2 0h2m5 0h1m1 0h2m1 0h1m1 0h1m19 0h1m25 0h1m5 0h1m19 0h1m3 0h1m1 0h1M1125 232.86h1m11 0h1m7 0h1m28 0h1m16 0h1m65 0h3m2 0h2m4 0h1m4 0h2m7 0h1m6 0h1m1 0h1m1 0h1m1 0h1m1 0h1m3 0h2m9 0h1m3 0h1m1 0h1m13 0h1m6 0h1m12 0h1m2 0h1m4 0h1m2 0h2m4 0h1m1 0h3m6 0h1m2 0h1m14 0h1m5 0h1m1 0h2m1 0h1m6 0h1m2 0h1m1 0h1m1 0h3m3 0h1m1 0h1m2 0h3m1 0h4m6 0h1m3 0h1m126 0h1m1 0h1m15 0h1m7 0h1m6 0h1m1 0h2m2 0h1m2 0h1m12 0h2m3 0h2m1 0h1m6 0h1m10 0h1m1 0h1m2 0h2m1 0h1m4 0h1m7 0h1m17 0h1m9 0h2m6 0h1m4 0h1m10 0h2m6 0h1m2 0h3m8 0h1m2 0h1m3 0h1m7 0h1m5 0h1m2 0h1m5 0h1m10 0h1m1 0h1m1 0h1m13 0h1m8 0h1m7 0h2m3 0h1m1 0h2m1 0h1m10 0h1m1 0h1m5 0h1m1 0h1m12 0h1M1126 263.19h1m9 0h1m1 0h1m97 0h1m96 0h1m3 0h1m17 0h1m25 0h1m35 0h1m297 0h1m5 0h1m42 0h1m7 0h1m11 0h2m6 0h1m19 0h1M1123 293.52h1m1 0h1m1 0h1m3 0h1m4 0h1m4 0h3m7 0h1m2 0h2m1 0h1m1 0h1m3 0h1m4 0h2m4 0h2m14 0h1m2 0h1m3 0h1m2 0h1m73 0h1m24 0h1m8 0h1m54 0h1m16 0h1m11 0h1m45 0h1m28 0h1m142 0h1m11 0h1m12 0h1m151 0h1m83 0h1M1155 323.85h1m2 0h1m3 0h1m9 0h1m81 0h1m45 0h1m39 0h1m59 0h1m31 0h1m70 0h1m15 0h1m8 0h1m56 0h1m28 0h1m4 0h1m14 0h1m3 0h1m160 0h1m2 0h1m65 0h1m5 0h1M1130 354.18h2m128 0h1m64 0h1m38 0h1m69 0h1m59 0h1m73 0h1m36 0h1m46 0h1m47 0h1M1154 384.51h1m1 0h1m1 0h2m4 0h1m2 0h1m6 0h2m4 0h1m1 0h1m1 0h1m5 0h2m3 0h1m9 0h2m8 0h1m1 0h2m3 0h1m2 0h1m2 0h1m15 0h1m1 0h2m2 0h1m8 0h1m4 0h1m5 0h3m1 0h1m1 0h1m2 0h1m2 0h1m1 0h1m4 0h1m1 0h3m1 0h1m7 0h1m2 0h1m4 0h1m5 0h1m3 0h1m4 0h2m1 0h2m3 0h2m2 0h1m8 0h1m3 0h1m9 0h1m2 0h2m3 0h1m1 0h1m4 0h1m7 0h1m8 0h1m4 0h2m2 0h2m1 0h1m1 0h1m7 0h1m3 0h1m4 0h2m14 0h1m2 0h1m4 0h1m5 0h2m6 0h1m7 0h1m5 0h2m18 0h2m1 0h1m2 0h1m4 0h1m11 0h1m13 0h1m3 0h1m4 0h1m1 0h1m1 0h1m15 0h1m2 0h1m5 0h1m4 0h2m4 0h2m5 0h1m1 0h1m3 0h1m6 0h1m3 0h1m4 0h1m5 0h1m1 0h1m1 0h1m3 0h1m4 0h1m13 0h1m2 0h1m3 0h1m6 0h1m5 0h3m1 0h1m15 0h1m9 0h2m1 0h1m4 0h1m1 0h1m1 0h3m1 0h1m5 0h1m8 0h1m3 0h1m6 0h3m1 0h1m3 0h1m3 0h1m7 0h2m5 0h1m1 0h1m1 0h2m8 0h1m1 0h1m1 0h1m6 0h1m2 0h1m4 0h1m7 0h1M1178 414.84h1m5 0h1m1 0h1m2 0h1m9 0h1m43 0h1m10 0h1m175 0h1m271 0h1m7 0h2m2 0h1m5 0h1m14 0h1m2 0h1m23 0h1m21 0h3m1 0h1m12 0h1m14 0h1m5 0h1m1 0h2m3 0h1m2 0h1m22 0h1m2 0h1m3 0h1m1 0h1"/>
<path stroke="#4322fe" d="M1157 20.56h1m16 0h1m2 0h2m2 0h1m2 0h1m3 0h1m1 0h1m5 0h2m5 0h3m2 0h3m2 0h2m6 0h1m5 0h3m242 0h1m340 0h1m3 0h1m4 0h1m31 0h1m1 0h1m8 0h1M1253 50.89h1m3 0h1m41 0h1m5 0h1m8 0h1m21 0h1m40 0h1m9 0h1m4 0h1m69 0h1m4 0h1m35 0h1m11 0h1m34 0h1m11 0h1m20 0h1m1 0h1m30 0h1m14 0h1m3 0h1m17 0h1m53 0h1m20 0h1m3 0h1m4 0h1m1 0h2m5 0h1m35 0h3m7 0h1m11 0h1M1124 81.22h1m1 0h1m111 0h1m4 0h1m1 0h1m1 0h1m4 0h1m5 0h1m5 0h1m2 0h1m13 0h2m4 0h2m1 0h3m19 0h1m8 0h3m15 0h1m4 0h1m1 0h2m2 0h1m2 0h1m32 0h1m11 0h1m2 0h1m7 0h3m6 0h2m1 0h1m5 0h2m4 0h3m11 0h1m6 0h1m30 0h1m21 0h1m76 0h1m3 0h1m35 0h1m8 0h1m23 0h1m16 0h1m9 0h1m18 0h1m4 0h1m2 0h3m4 0h1m4 0h1m14 0h1m5 0h1m25 0h1m6 0h1m8 0h1m44 0h1m13 0h1M1126 111.55h1m2 0h1m7 0h1m8 0h1m4 0h2m27 0h2m5 0h2m1 0h1m157 0h1m14 0h1m16 0h1m40 0h1m144 0h1m52 0h1m61 0h1m12 0h1m173 0h1m7 0h2m1 0h1M1131 141.88h1m1 0h1m2 0h1m7 0h1m1 0h1m5 0h1m1 0h1m2 0h1m1 0h2m1 0h1m7 0h1m34 0h1m4 0h1m3 0h1m2 0h1m1 0h1m10 0h1m349 0h1m55 0h1m71 0h1m4 0h5m9 0h1m2 0h1m1 0h1m1 0h1m1 0h2m3 0h2m1 0h1m1 0h3m1 0h1m1 0h2m2 0h2m2 0h1m3 0h1m2 0h2m10 0h1m38 0h1m1 0h1m13 0h1m3 0h1m6 0h1m1 0h1m1 0h1m9 0h1m3 0h1m5 0h1m3 0h3m3 0h1M1128 172.21h1m2 0h1m5 0h1m2 0h1m5 0h1m6 0h2m9 0h1m1 0h1m4 0h1m9 0h1m10 0h1m13 0h1m9 0h1m8 0h1m19 0h2m28 0h1m1 0h1m6 0h1m2 0h1m12 0h1m19 0h1m21 0h1m1 0h1m28 0h1m17 0h1m72 0h1m3 0h1m3 0h2m6 0h3m1 0h1m1 0h1m7 0h1m1 0h1m3 0h1m4 0h2m11 0h1m4 0h1m3 0h1m4 0h1m2 0h2m2 0h1m2 0h1m4 0h3m2 0h2m28 0h2m2 0h1m2 0h1m1 0h1m6 0h2m3 0h2m4 0h1m5 0h1m1 0h1m4 0h3m5 0h1m5 0h1m1 0h1m1 0h1m1 0h2m2 0h1m6 0h1m4 0h1m16 0h1m1 0h1m2 0h2m3 0h1m1 0h2m1 0h1m4 0h1m5 0h1m1 0h1m1 0h1m1 0h1m8 0h1m4 0h1m6 0h1m10 0h1m1 0h3m10 0h1m1 0h1m1 0h4m2 0h1m6 0h1m2 0h1m4 0h1m1 0h1m5 0h1m7 0h1m3 0h1m3 0h2m1 0h1m7 0h1m6 0h2m14 0h2m15 0h1m2 0h2m20 0h1M1129 202.54h1m2 0h1m8 0h1m3 0h1m2 0h1m4 0h1m2 0h1m1 0h1m43 0h1m2 0h1m2 0h2m5 0h1m1 0h2m2 0h1m3 0h1m5 0h1m2 0h1m5 0h1m13 0h2m4 0h1m5 0h1m1 0h1m4 0h1m1 0h1m6 0h1m1 0h1m13 0h1m5 0h1m4 0h1m7 0h1m16 0h1m4 0h1m1 0h1m4 0h1m3 0h2m9 0h1m11 0h1m4 0h1m5 0h1m5 0h1m36 0h1m14 0h1m10 0h1m1 0h1m115 0h1m8 0h1m3 0h2m6 0h2m8 0h1m1 0h1m6 0h1m2 0h2m6 0h1m1 0h1m1 0h1m3 0h1m15 0h2m3 0h1m3 0h1m4 0h1m5 0h2m8 0h1m8 0h1m1 0h2m5 0h1m6 0h1m1 0h1m9 0h1m9 0h1m1 0h2m1 0h1m3 0h1m4 0h1m3 0h1m4 0h1m6 0h1m20 0h1m3 0h1m1 0h1m4 0h1m11 0h1m1 0h1m38 0h1m35 0h1M1124 232.86h1m1 0h1m1 0h1m3 0h1m17 0h1m17 0h1m6 0h2m8 0h1m10 0h1m11 0h1m15 0h1m12 0h1m7 0h1m3 0h1m10 0h1m5 0h1m2 0h1m1 0h1m8 0h1m5 0h1m17 0h1m6 0h1m2 0h1m6 0h2m1 0h4m5 0h1m1 0h1m4 0h2m2 0h1m9 0h1m12 0h1m8 0h1m4 0h1m3 0h1m2 0h1m2 0h1m10 0h1m7 0h3m2 0h1m1 0h2m11 0h1m19 0h2m121 0h1m3 0h1m13 0h3m2 0h1m1 0h1m7 0h1m2 0h1m3 0h1m3 0h1m7 0h1m4 0h1m12 0h1m20 0h1m2 0h1m3 0h1m4 0h3m1 0h1m2 0h1m2 0h3m3 0h1m4 0h1m2 0h1m6 0h1m3 0h2m3 0h1m26 0h1m31 0h1m34 0h1m32 0h1m5 0h1m3 0h1m7 0h1m11 0h1m5 0h1M1127 263.19h1m3 0h1m7 0h1m2 0h1m2 0h1m1 0h1m44 0h1m12 0h1m7 0h2m45 0h1m3 0h1m3 0h1m18 0h1m7 0h1m2 0h1m11 0h1m9 0h1m2 0h1m8 0h1m9 0h1m11 0h1m4 0h1m8 0h2m20 0h1m30 0h1m18 0h1m265 0h1m1 0h4m13 0h1m3 0h1m2 0h1m7 0h2m2 0h1m2 0h1m1 0h1m1 0h1m6 0h1m7 0h1m15 0h1m3 0h1m4 0h1m1 0h1m2 0h1m2 0h1m2 0h1m6 0h1m5 0h3m6 0h1m7 0h1m7 0h1m2 0h1m3 0h2m1 0h1m13 0h4m1 0h1m1 0h1M1130 293.52h1m6 0h1m9 0h1m5 0h1m2 0h1m15 0h1m8 0h1m6 0h1m2 0h2m1 0h1m3 0h1m39 0h1m1 0h1m13 0h1m59 0h1m20 0h1m72 0h1m12 0h1m24 0h1m14 0h2m13 0h1m26 0h1m24 0h1m18 0h1m1 0h1m12 0h1m3 0h1m41 0h1m25 0h1m4 0h1m18 0h1m23 0h1m186 0h2m1 0h1m5 0h1M1130 323.85h1m22 0h1m3 0h1m2 0h1m5 0h1m8 0h1m64 0h1m2 0h1m55 0h1m15 0h1m19 0h2m9 0h1m25 0h1m1 0h1m9 0h1m17 0h1m18 0h1m13 0h1m22 0h1m3 0h1m1 0h1m11 0h1m38 0h1m35 0h1m10 0h1m9 0h1m7 0h1m17 0h1m9 0h1m1 0h1m70 0h1m101 0h1m5 0h1m13 0h1m18 0h1m7 0h1m2 0h1m32 0h1m3 0h1m2 0h1m2 0h1m1 0h1M1125 354.18h1m1 0h1m1 0h1m5 0h1m7 0h1m5 0h1M1165 384.51h1m2 0h3m1 0h2m3 0h1m1 0h1m1 0h1m7 0h1m2 0h1m3 0h1m4 0h1m7 0h1m13 0h1m7 0h1m7 0h1m2 0h1m2 0h1m2 0h1m5 0h2m2 0h1m4 0h1m5 0h1m16 0h2m8 0h2m2 0h1m11 0h1m10 0h3m6 0h1m6 0h2m4 0h1m7 0h2m5 0h1m5 0h2m2 0h1m1 0h1m2 0h1m5 0h3m4 0h1m7 0h1m4 0h1m4 0h1m3 0h3m1 0h1m8 0h1m2 0h1m4 0h1m1 0h1m3 0h1m7 0h2m3 0h1m2 0h1m3 0h1m2 0h1m2 0h1m2 0h1m5 0h1m9 0h1m1 0h1m3 0h4m1 0h1m12 0h1m1 0h6m6 0h1m2 0h1m1 0h1m1 0h1m6 0h1m6 0h1m3 0h1m1 0h1m1 0h1m3 0h1m1 0h1m1 0h1m3 0h1m6 0h2m2 0h1m6 0h1m1 0h1m12 0h1m2 0h1m1 0h1m4 0h1m2 0h1m4 0h1m2 0h1m2 0h1m1 0h1m3 0h1m2 0h1m1 0h1m9 0h3m1 0h1m1 0h2m7 0h1m1 0h1m6 0h1m7 0h2m1 0h1m5 0h1m1 0h2m1 0h2m2 0h1m2 0h1m6 0h1m5 0h1m8 0h1m5 0h1m6 0h1m3 0h1m7 0h1m1 0h1m12 0h1m4 0h1m1 0h1m8 0h1m1 0h1m5 0h1m3 0h2m5 0h1m5 0h1m1 0h1m1 0h1m2 0h1M1179 414.84h1m3 0h1m4 0h1m1 0h4m1 0h1m90 0h1m13 0h1m33 0h1m11 0h1m1 0h1m14 0h1m3 0h1m8 0h1m10 0h1m17 0h1m3 0h1m38 0h1m15 0h1m61 0h1m83 0h1m3 0h1m24 0h1m81 0h1m41 0h1m2 0h1m3 0h1m2 0h1m6 0h1m9 0h1m4 0h1m24 0h1m19 0h1m10 0h1"/>
<path stroke="#4c28fe" d="M1156 20.56h1m2 0h1m10 0h1m1 0h1m18 0h1m1 0h1m7 0h1m13 0h1m1 0h1m1 0h1m4 0h2m5 0h1m54 0h1m12 0h1m14 0h1m13 0h1m6 0h1m3 0h2m26 0h1m12 0h1m21 0h1m32 0h1m142 0h2m31 0h1m2 0h1m4 0h1m33 0h1m17 0h1m37 0h1m8 0h1m36 0h1m4 0h1m51 0h1M1240 50.89h1m33 0h1m33 0h1m93 0h1m17 0h1m1 0h1m9 0h1m38 0h1m15 0h1m38 0h1m45 0h1m37 0h1m92 0h1m2 0h1m1 0h1m2 0h1m5 0h2m4 0h1m1 0h1m4 0h1m3 0h1m1 0h1m6 0h2m50 0h2m3 0h1m1 0h1m52 0h1m1 0h1m8 0h1M1125 81.22h1m4 0h2m1 0h1m7 0h1m10 0h1m95 0h1m28 0h1m15 0h1m16 0h1m27 0h1m21 0h1m23 0h1m2 0h1m17 0h1m6 0h1m16 0h2m152 0h1m110 0h2m10 0h1m7 0h2m4 0h1m6 0h1m5 0h1m3 0h1m1 0h1m2 0h1m17 0h1m11 0h1m1 0h1m17 0h1m2 0h1m2 0h2m2 0h1m72 0h1m3 0h1M1131 111.55h1m1 0h1m4 0h1m36 0h2m1 0h1m4 0h2m6 0h1m7 0h1m630 0h1m40 0h1m1 0h1m1 0h1M1155 141.88h1m7 0h2m7 0h1m6 0h1m4 0h1m16 0h4m1 0h1m2 0h1m3 0h1m1 0h1m6 0h1m2 0h1m5 0h1m1 0h1m191 0h1m8 0h1m14 0h1m131 0h1m35 0h1m7 0h1m3 0h1m9 0h1m10 0h1m16 0h1m8 0h1m4 0h1m19 0h2m4 0h1m4 0h1m10 0h1m1 0h2m1 0h1m4 0h1m4 0h1m1 0h1m24 0h1m6 0h1m1 0h2m32 0h1m3 0h1m3 0h1m4 0h1m1 0h1m3 0h1m1 0h1m1 0h1m5 0h1m8 0h1m6 0h2m3 0h1m3 0h1m2 0h1m1 0h2m2 0h1m5 0h1M1132 172.21h2m4 0h1m2 0h2m1 0h2m3 0h1m2 0h1m6 0h2m2 0h1m5 0h1m2 0h2m16 0h1m4 0h1m15 0h1m3 0h1m1 0h2m7 0h2m1 0h1m36 0h1m66 0h1m63 0h1m59 0h2m7 0h1m7 0h1m1 0h3m4 0h1m1 0h1m2 0h1m1 0h2m6 0h1m3 0h1m1 0h1m3 0h1m4 0h1m2 0h1m3 0h1m3 0h2m4 0h1m2 0h2m3 0h1m2 0h1m3 0h1m8 0h3m7 0h2m5 0h2m2 0h1m2 0h1m15 0h1m7 0h1m13 0h1m15 0h3m4 0h1m1 0h1m3 0h1m6 0h1m4 0h1m15 0h1m4 0h1m7 0h1m11 0h1m15 0h1m12 0h1m1 0h1m18 0h1m6 0h1m9 0h1m14 0h1m12 0h1m29 0h1m2 0h1m1 0h1m11 0h1m2 0h2m4 0h1m6 0h1m3 0h1m8 0h1m4 0h1m2 0h2M1128 202.54h1m1 0h1m3 0h1m9 0h1m2 0h1m1 0h1m4 0h1m2 0h1m2 0h1m2 0h1m1 0h1m1 0h2m1 0h3m16 0h1m11 0h1m20 0h1m1 0h1m7 0h2m29 0h1m6 0h1m5 0h1m10 0h1m2 0h1m22 0h1m7 0h1m18 0h1m1 0h1m2 0h1m1 0h1m8 0h1m40 0h1m25 0h1m151 0h1m18 0h1m3 0h1m21 0h1m21 0h1m5 0h1m35 0h1m11 0h1m7 0h2m2 0h1m2 0h2m1 0h1m3 0h1m3 0h1m8 0h1m1 0h1m1 0h1m2 0h3m3 0h1m2 0h1m1 0h2m4 0h1m1 0h1m2 0h1m1 0h4m2 0h1m1 0h1m2 0h1m30 0h1m63 0h2m3 0h1m1 0h1m3 0h1M1129 232.86h1m4 0h1m3 0h2m3 0h2m2 0h2m3 0h1m8 0h1m1 0h1m6 0h1m8 0h1m2 0h1m1 0h1m2 0h2m5 0h2m8 0h1m5 0h1m6 0h1m5 0h1m4 0h2m4 0h1m1 0h1m3 0h2m2 0h1m1 0h1m3 0h1m13 0h2m4 0h1m5 0h1m7 0h2m4 0h1m7 0h2m6 0h2m2 0h1m4 0h1m1 0h1m10 0h1m1 0h1m5 0h1m5 0h1m4 0h1m1 0h1m1 0h1m13 0h2m3 0h1m6 0h1m8 0h1m10 0h1m1 0h2m7 0h1m11 0h1m6 0h1m5 0h1m11 0h1m10 0h1m114 0h1m10 0h4m1 0h1m2 0h1m3 0h1m4 0h1m1 0h1m5 0h1m2 0h2m8 0h1m1 0h3m7 0h1m11 0h1m2 0h1m13 0h1m1 0h1m5 0h1m26 0h1m1 0h1m2 0h1m21 0h1m16 0h1m16 0h1m49 0h1m60 0h1m3 0h1m1 0h1m1 0h1M1123 263.19h2m8 0h1m1 0h1m1 0h1m2 0h1m16 0h1m1 0h1m43 0h1m2 0h3m12 0h1m2 0h1m1 0h1m7 0h1m2 0h1m5 0h1m2 0h1m14 0h2m13 0h1m2 0h1m4 0h1m3 0h1m14 0h2m1 0h1m4 0h1m15 0h2m16 0h1m18 0h1m1 0h2m4 0h1m1 0h1m13 0h1m8 0h1m1 0h1m7 0h1m4 0h1m10 0h1m2 0h1m4 0h2m18 0h1m27 0h1m1 0h1m223 0h1m7 0h1m3 0h2m1 0h1m1 0h2m4 0h1m1 0h2m2 0h1m2 0h1m5 0h1m4 0h1m3 0h3m10 0h1m2 0h1m1 0h2m3 0h1m18 0h1m3 0h1m5 0h2m8 0h1m8 0h1m9 0h2m3 0h2m1 0h2m1 0h1m4 0h1m2 0h1m1 0h1m3 0h1m9 0h1m5 0h2M1135 293.52h1m30 0h1m13 0h1m68 0h1m98 0h1m9 0h1m94 0h1m183 0h1m33 0h1m18 0h1m93 0h1m17 0h1m23 0h1m28 0h1m19 0h3m1 0h1M1198 323.85h1m209 0h1m373 0h1m8 0h2m5 0h1m56 0h1M1124 354.18h1m3 0h1m5 0h1m6 0h1m3 0h1m4 0h1m1 0h1m4 0h1m8 0h1m76 0h1m110 0h1m5 0h1m6 0h1m19 0h1m29 0h1m30 0h1m12 0h1m25 0h1m11 0h1m3 0h1m3 0h1m39 0h1m40 0h1m33 0h1m11 0h1m46 0h1m8 0h1m127 0h1m36 0h1M1163 384.51h1m21 0h1m1 0h2m13 0h2m7 0h1m2 0h1m1 0h1m9 0h2m2 0h1m2 0h2m8 0h1m24 0h1m6 0h1m1 0h1m20 0h1m8 0h1m1 0h1m9 0h2m12 0h1m7 0h1m1 0h1m12 0h1m1 0h1m14 0h1m3 0h1m1 0h1m5 0h2m5 0h1m20 0h1m3 0h1m9 0h1m6 0h2m2 0h1m5 0h1m4 0h1m8 0h1m8 0h1m12 0h1m2 0h1m3 0h1m4 0h1m1 0h1m5 0h1m13 0h1m1 0h1m4 0h1m6 0h1m2 0h2m6 0h1m3 0h1m4 0h1m1 0h1m1 0h1m3 0h1m1 0h2m3 0h1m2 0h2m12 0h1m5 0h1m1 0h1m3 0h2m2 0h1m1 0h1m1 0h1m12 0h1m2 0h1m5 0h1m5 0h1m7 0h1m11 0h1m3 0h1m7 0h1m1 0h1m6 0h1m18 0h1m2 0h1m9 0h1m16 0h1m15 0h1m14 0h2m2 0h1m10 0h1m1 0h1m4 0h1m1 0h1m10 0h1m9 0h1m8 0h1M1168 414.84h1m6 0h1m1 0h1m4 0h1m11 0h1m5 0h1m48 0h1m7 0h1m17 0h1m126 0h1m17 0h1m37 0h1m42 0h1m45 0h1m14 0h1m53 0h1m2 0h1m85 0h1m16 0h1m29 0h3m3 0h1m1 0h2m10 0h1m3 0h1m2 0h1m18 0h1"/>
<path stroke="#542efe" d="M1153 20.56h1m1 0h1m2 0h1m1 0h1m4 0h3m38 0h1m15 0h2m47 0h1m74 0h1m1 0h1m42 0h1m13 0h1m58 0h1m54 0h1m27 0h1m18 0h1m199 0h1m30 0h1M1702 50.89h1m9 0h1m1 0h2m10 0h2m5 0h1m1 0h1m5 0h2m42 0h1m3 0h3m5 0h3m18 0h1m9 0h1M1137 81.22h1m90 0h1m36 0h1m7 0h1m15 0h1m107 0h1m33 0h1m44 0h1m17 0h1m3 0h1m31 0h1m13 0h1m6 0h1m8 0h1m2 0h1m146 0h1m5 0h1m8 0h1m4 0h1m1 0h1m1 0h1m10 0h1m1 0h1m1 0h2m32 0h1m6 0h2m2 0h1m2 0h1m2 0h1m71 0h1m5 0h1M1123 111.55h1m25 0h1m27 0h1m15 0h1m2 0h1m621 0h1m7 0h1m28 0h1m4 0h1M1158 141.88h1m33 0h1m18 0h1m4 0h1m3 0h1m2 0h1m5 0h1m171 0h1m2 0h1m12 0h1m4 0h2m4 0h1m3 0h1m12 0h1m1 0h1m7 0h1m117 0h1m3 0h1m4 0h1m9 0h1m2 0h3m14 0h1m8 0h1m19 0h1m9 0h1m9 0h1m15 0h1m6 0h1m1 0h1m6 0h1m12 0h1m4 0h1m7 0h1m9 0h1m29 0h1m2 0h1m7 0h1m5 0h1m7 0h1m12 0h2m7 0h2m1 0h1m5 0h1m8 0h2m13 0h1m1 0h1m2 0h1m11 0h1m4 0h1m8 0h1m5 0h1m1 0h1M1125 172.21h1m4 0h1m8 0h1m3 0h1m6 0h1m5 0h1m1 0h1m2 0h1m3 0h1m9 0h1m1 0h1m1 0h1m2 0h1m3 0h1m12 0h1m4 0h1m3 0h1m4 0h1m6 0h1m1 0h1m9 0h1m41 0h1m194 0h1m5 0h1m16 0h1m24 0h1m3 0h2m8 0h1m5 0h1m23 0h2m4 0h2m23 0h1m57 0h1m14 0h2m9 0h1m73 0h1m26 0h1m11 0h1m30 0h1m9 0h1m33 0h1m3 0h1m3 0h1m2 0h1M1125 202.54h1m11 0h3m2 0h1m7 0h1m4 0h1m3 0h1m6 0h1m16 0h1m1 0h1m9 0h1m10 0h1m4 0h1m2 0h1m4 0h1m3 0h1m2 0h1m3 0h1m11 0h1m156 0h1m195 0h1m75 0h2m4 0h1m13 0h1m15 0h1m2 0h1m5 0h1m2 0h3m26 0h1m2 0h1m4 0h1m2 0h1m6 0h2m9 0h1m48 0h1m3 0h1m2 0h1m32 0h1m10 0h1M1127 232.86h1m2 0h1m10 0h1m12 0h1m16 0h1m5 0h2m2 0h1m15 0h1m11 0h1m1 0h1m2 0h2m2 0h1m1 0h1m10 0h2m6 0h1m7 0h1m3 0h2m8 0h1m21 0h1m3 0h1m4 0h1m30 0h1m7 0h1m5 0h1m7 0h1m10 0h1m2 0h1m15 0h1m2 0h2m9 0h1m3 0h3m53 0h1m5 0h1m114 0h1m17 0h2m12 0h2m24 0h1m2 0h1m1 0h1m12 0h1m7 0h1m2 0h1m12 0h1m1 0h1m2 0h1m13 0h1m5 0h1m17 0h1m157 0h1m5 0h1M1132 263.19h1m16 0h2m11 0h1m1 0h1m9 0h1m4 0h1m4 0h1m2 0h2m1 0h1m11 0h1m12 0h1m3 0h2m2 0h1m18 0h1m4 0h2m1 0h3m3 0h1m1 0h2m3 0h1m2 0h1m3 0h2m2 0h1m3 0h1m1 0h1m2 0h1m7 0h2m3 0h1m2 0h1m7 0h1m4 0h2m3 0h2m5 0h1m4 0h1m5 0h1m11 0h2m3 0h2m3 0h1m5 0h1m12 0h1m3 0h1m1 0h1m2 0h1m1 0h1m12 0h1m2 0h1m5 0h1m10 0h1m3 0h1m16 0h2m1 0h1m9 0h1m248 0h2m2 0h1m6 0h1m1 0h1m2 0h1m6 0h1m6 0h1m5 0h1m5 0h2m8 0h1m7 0h1m12 0h3m1 0h2m7 0h1m5 0h1m7 0h1m3 0h2m1 0h1m2 0h1m5 0h3m3 0h1m2 0h1m2 0h1m4 0h2m8 0h1m6 0h1m5 0h2m1 0h2m12 0h1M1170 293.52h1m614 0h2m3 0h1m12 0h1m21 0h1m40 0h1M1125 323.85h1m22 0h1m635 0h1m2 0h1m7 0h2m82 0h1M1126 354.18h1m10 0h1m6 0h1m2 0h2m6 0h1m3 0h1m16 0h1m7 0h1m64 0h1m4 0h1m80 0h1m27 0h1m46 0h1m4 0h1m5 0h1m42 0h1m24 0h1m86 0h1m52 0h1m23 0h1m172 0h1m3 0h1m2 0h1M1198 384.51h1m13 0h1m6 0h1m9 0h1m2 0h1m2 0h1m20 0h1m3 0h1m29 0h1m3 0h1m10 0h1m112 0h1m17 0h1m4 0h1m17 0h1m14 0h1m6 0h1m3 0h1m9 0h1m2 0h1m5 0h2m11 0h2m5 0h1m29 0h1m15 0h1m13 0h2m17 0h1m19 0h1m2 0h1m4 0h1m1 0h1m8 0h1m6 0h1m5 0h1m1 0h1m1 0h1m16 0h3m8 0h1m5 0h1m2 0h1m35 0h1m53 0h1m5 0h1M1157 414.84h1m1 0h1m20 0h1m6 0h1m10 0h1m24 0h1m254 0h1m3 0h1m39 0h1m9 0h1m50 0h1m24 0h1m20 0h1m2 0h1m38 0h1m28 0h1m47 0h1m8 0h1m17 0h1m1 0h2"/>
<path stroke="#5d35fe" d="M1162 20.56h3m10 0h1m50 0h1m13 0h1m179 0h1m11 0h1m28 0h1m60 0h1m5 0h1m81 0h1m17 0h1m3 0h1m21 0h1m69 0h1m17 0h1m44 0h1m37 0h2M1705 50.89h1m7 0h1m72 0h1m7 0h1m8 0h1M1123 81.22h1m11 0h1m8 0h3m1 0h1m2 0h1m196 0h1m17 0h1m101 0h1m8 0h1m1 0h1m2 0h1m4 0h2m1 0h1m1 0h1m4 0h1m15 0h1m3 0h1m17 0h1m6 0h1m14 0h1m14 0h1m25 0h1m9 0h1m1 0h1m79 0h1m18 0h1m11 0h1m2 0h1m3 0h1m2 0h1m20 0h2m4 0h1m2 0h1m3 0h2m9 0h1m1 0h1m1 0h3m2 0h1m2 0h1m7 0h1m4 0h1m2 0h1m17 0h1m5 0h1m31 0h1m9 0h1m6 0h1M1167 111.55h1m27 0h1M1156 141.88h1m9 0h1m1 0h1m7 0h1m3 0h1m1 0h2m3 0h1m1 0h1m22 0h1m192 0h1m5 0h1m4 0h1m3 0h1m3 0h1m2 0h1m2 0h2m8 0h2m1 0h1m2 0h1m9 0h1m133 0h1m11 0h1m6 0h1m20 0h1m2 0h1m8 0h2m1 0h1m6 0h1m4 0h1m6 0h2m7 0h1m6 0h1m4 0h1m3 0h1m6 0h2m24 0h1m16 0h1m9 0h1m4 0h1m11 0h1m26 0h1m6 0h1m18 0h1m2 0h1m17 0h1m7 0h1m2 0h2M1129 172.21h1m17 0h1m3 0h1m5 0h1m4 0h1m5 0h1m1 0h1m27 0h1m3 0h1m2 0h1m3 0h1m2 0h1m1 0h1m8 0h1m6 0h1m23 0h1m24 0h1m34 0h1m43 0h1m18 0h1m22 0h1m59 0h1m2 0h1m50 0h1m28 0h1m2 0h1m11 0h2m3 0h1m10 0h1m254 0h1m40 0h1m5 0h1M1127 202.54h1m18 0h1m14 0h2m35 0h1m4 0h1m9 0h1m13 0h1m1 0h1m146 0h1m25 0h1m5 0h1m12 0h1m257 0h1m6 0h1m28 0h1m27 0h1m28 0h1m8 0h1m2 0h1m4 0h1m32 0h1m47 0h1M1133 232.86h1m1 0h1m20 0h5m1 0h1m2 0h3m12 0h1m5 0h1m2 0h1m2 0h1m5 0h2m1 0h1m1 0h1m1 0h1m1 0h1m14 0h1m2 0h1m1 0h1m28 0h1m20 0h1m10 0h1m14 0h1m39 0h1m17 0h1m6 0h1m21 0h1m1 0h1m207 0h1m3 0h1m22 0h1m9 0h1m3 0h1m3 0h1m2 0h1m6 0h1m29 0h1m7 0h1m37 0h1m28 0h1m40 0h1m9 0h1m53 0h1M1130 263.19h1m10 0h1m1 0h1m2 0h1m19 0h2m2 0h1m14 0h1m3 0h1m1 0h1m8 0h2m2 0h1m7 0h1m3 0h3m3 0h1m8 0h1m1 0h1m1 0h1m2 0h1m5 0h2m19 0h1m1 0h1m1 0h1m2 0h1m4 0h1m11 0h1m4 0h1m14 0h1m6 0h1m2 0h1m6 0h1m7 0h1m1 0h1m24 0h1m8 0h1m2 0h1m1 0h1m3 0h1m13 0h3m9 0h1m4 0h2m6 0h2m8 0h1m5 0h3m8 0h1m1 0h1m4 0h1m2 0h1m5 0h1m3 0h1m16 0h1m5 0h1m2 0h1m2 0h1m232 0h1m10 0h1m11 0h1m11 0h1m27 0h1m9 0h1m5 0h1m19 0h2m17 0h1m11 0h1m14 0h1M1173 293.52h1m13 0h1m601 0h1m5 0h2m36 0h1M1123 323.85h1m662 0h1m6 0h2M1132 354.18h1m3 0h1m1 0h2m14 0h1m9 0h1m3 0h1m18 0h1m112 0h1m38 0h1m6 0h1m168 0h1m100 0h1m107 0h2m151 0h1M1166 384.51h1m43 0h1m30 0h1m155 0h1m80 0h1m50 0h1m34 0h1m22 0h1m50 0h1m28 0h1m2 0h1m4 0h1m22 0h1m99 0h1m80 0h1M1197 414.84h1m15 0h1m517 0h1m11 0h1m5 0h1m6 0h1m12 0h1m19 0h1m40 0h1m21 0h1"/>
<path stroke="#653cfd" d="M1154 20.56h1m16 0h1m14 0h1m31 0h1m307 0h1m306 0h1M1184 50.89h1m7 0h1m523 0h1m2 0h1m1 0h1m9 0h1M1127 81.22h2m7 0h1m6 0h1m5 0h2m6 0h1m44 0h1m2 0h1m2 0h1m3 0h1m13 0h1m22 0h1m46 0h1m2 0h1m159 0h1m1 0h1m11 0h1m7 0h1m13 0h1m4 0h1m4 0h1m2 0h1m18 0h1m8 0h1m2 0h1m1 0h1m1 0h1m1 0h1m1 0h2m12 0h1m4 0h1m47 0h1m35 0h1m71 0h1m6 0h1m11 0h1m6 0h1m7 0h2m1 0h1m4 0h1m8 0h1m1 0h1m8 0h1m18 0h1m26 0h1m38 0h1m6 0h1M1140 111.55h1m14 0h1m1 0h1m24 0h1m610 0h1m75 0h1M1140 141.88h1m26 0h1m5 0h1m1 0h1m9 0h1m2 0h1m1 0h1m4 0h1m2 0h1m8 0h1m24 0h1m169 0h1m3 0h1m2 0h1m3 0h3m3 0h1m13 0h1m4 0h1m13 0h1m1 0h1m22 0h1m29 0h1m62 0h1m3 0h2m11 0h1m3 0h1m7 0h2m3 0h1m2 0h1m2 0h2m4 0h1m3 0h1m2 0h1m16 0h1m5 0h1m13 0h1m1 0h2m5 0h1m1 0h2m1 0h2m6 0h1m62 0h1m32 0h1m4 0h1m8 0h1m2 0h2M1176 172.21h1m3 0h1m3 0h2m1 0h1m6 0h1m26 0h1m9 0h1m17 0h1m7 0h1m50 0h1m267 0h1m11 0h1m177 0h1M1133 202.54h1m30 0h1m19 0h1m3 0h1m10 0h1m4 0h1m66 0h1m9 0h1m23 0h1m2 0h1m26 0h1m101 0h1m243 0h1m48 0h1m27 0h1m2 0h1m28 0h1M1131 232.86h1m14 0h1m4 0h1m3 0h1m13 0h1m2 0h1m17 0h1m15 0h1m23 0h1m24 0h1m25 0h1m12 0h1m14 0h1m10 0h1m75 0h1m4 0h1m1 0h1m22 0h1m148 0h1m53 0h1m23 0h1m100 0h1m27 0h1m39 0h1m32 0h1m13 0h1M1134 263.19h1m9 0h1m6 0h1m3 0h1m5 0h1m7 0h1m11 0h1m12 0h2m29 0h1m13 0h1m1 0h1m13 0h1m29 0h1m4 0h1m9 0h1m4 0h1m35 0h1m2 0h1m26 0h1m11 0h1m2 0h1m4 0h1m6 0h1m7 0h1m8 0h1m13 0h1m3 0h1m3 0h2m7 0h1m3 0h1m9 0h1m3 0h1m10 0h1m9 0h1m12 0h1m5 0h1m35 0h1m161 0h1m70 0h2m4 0h1m3 0h1m4 0h1m8 0h1m24 0h1m28 0h1M1186 293.52h1m617 0h1m63 0h1M1186 323.85h1m601 0h1m1 0h1M1123 354.18h1m9 0h1m28 0h1m4 0h1m6 0h1m138 0h1m28 0h1m223 0h1m41 0h1m5 0h1m100 0h1m2 0h1m8 0h2m6 0h1m10 0h1m121 0h1m1 0h1m1 0h1m2 0h2m1 0h1M1137 384.51h1m15 0h1m156 0h1m25 0h1m142 0h1m56 0h1m1 0h1m1 0h1m34 0h1m29 0h1m55 0h1m68 0h1m11 0h1m26 0h1m99 0h1m7 0h1M1167 414.84h1m1 0h1m36 0h1m11 0h1m528 0h1m2 0h1m8 0h1m4 0h2m2 0h1m5 0h1m19 0h1m31 0h1m12 0h1"/>
<path stroke="#6d43fd" d="M1161 20.56h1m300 0h1m348 0h1M1183 50.89h1m4 0h1m1 0h1m6 0h1m551 0h1m10 0h1m4 0h1M1138 81.22h1m62 0h1m7 0h1m7 0h1m198 0h1m46 0h1m2 0h1m3 0h1m20 0h1m1 0h1m10 0h1m1 0h1m4 0h1m4 0h1m5 0h2m1 0h2m1 0h1m2 0h1m1 0h1m4 0h1m7 0h1m21 0h2m64 0h1m23 0h1m12 0h1m33 0h1m13 0h1m31 0h1m11 0h1m4 0h1m10 0h1M1128 111.55h1m39 0h1m568 0h1m46 0h1m19 0h1m69 0h1m3 0h1M1127 141.88h1m17 0h1m25 0h1m5 0h1m3 0h1m9 0h1m2 0h1m208 0h1m3 0h2m1 0h1m7 0h1m10 0h1m6 0h2m6 0h1m20 0h1m6 0h1m6 0h1m18 0h1m5 0h1m35 0h1m1 0h1m1 0h1m1 0h1m8 0h1m15 0h1m6 0h1m4 0h1m4 0h2m15 0h1m12 0h1m7 0h2m25 0h1m1 0h1m3 0h1m6 0h1m3 0h1m7 0h2m8 0h1m2 0h1m8 0h1m81 0h1m21 0h1M1188 172.21h1m4 0h1m6 0h1m27 0h1m70 0h1m40 0h1m13 0h1m8 0h1m250 0h1m16 0h1m77 0h1m12 0h1m1 0h1m86 0h1m27 0h1M1175 202.54h1m1 0h1m2 0h2m5 0h1m2 0h2m2 0h1m2 0h1m14 0h1m3 0h1m3 0h1m32 0h1m3 0h1m64 0h1m125 0h1m130 0h1m30 0h1m5 0h1m15 0h1m5 0h1m19 0h1m93 0h1M1164 232.86h1m18 0h1m28 0h1m6 0h1m13 0h1m114 0h1m4 0h1m89 0h1m247 0h1m38 0h1m11 0h1m23 0h1M1152 263.19h1m3 0h1m1 0h1m1 0h1m7 0h1m2 0h1m3 0h2m3 0h1m2 0h1m2 0h1m9 0h1m1 0h1m30 0h2m1 0h1m40 0h1m7 0h1m20 0h1m18 0h1m3 0h1m4 0h1m7 0h1m7 0h1m4 0h1m4 0h1m5 0h1m26 0h1m37 0h1m29 0h1m8 0h1m13 0h1m5 0h1m2 0h1m2 0h1m18 0h1m5 0h1m12 0h1m4 0h2m21 0h1m176 0h1m20 0h1m4 0h1m67 0h1m26 0h1m4 0h1m11 0h1m4 0h2M1140 293.52h1m24 0h1m12 0h1m613 0h1m1 0h1m2 0h1M1165 323.85h1m551 0h1m28 0h1m38 0h1m85 0h1M1153 354.18h1m2 0h1m6 0h1m16 0h1m2 0h1m4 0h1m3 0h1m7 0h1m509 0h1m2 0h1m25 0h1m134 0h1M1130 384.51h1m8 0h1m5 0h1m40 0h1m53 0h1m74 0h1m12 0h1m19 0h1m6 0h1m24 0h1m35 0h1m4 0h1m53 0h1M1154 414.84h3m1 0h1m3 0h1m3 0h1m9 0h1m24 0h1m7 0h1m5 0h1m9 0h1m2 0h1m538 0h1"/>
<path stroke="#764afd" d="M1207 20.56h1m647 0h1M1175 50.89h1m23 0h1m551 0h1m28 0h1M1132 81.22h1m6 0h1m66 0h1m6 0h1m4 0h2m5 0h1m5 0h1m96 0h1m93 0h1m34 0h1m7 0h1m12 0h1m4 0h1m2 0h1m2 0h1m12 0h2m5 0h2m1 0h1m1 0h2m8 0h1m9 0h1m5 0h1m11 0h2m4 0h1m3 0h1m1 0h1m2 0h1m132 0h1m6 0h1m54 0h1m8 0h1m96 0h1m4 0h2M1153 111.55h1m8 0h3m6 0h1m553 0h1m2 0h1m11 0h1m41 0h2M1199 141.88h2m7 0h1m233 0h1m15 0h1m5 0h1m13 0h1m13 0h1m9 0h1m5 0h1m8 0h1m7 0h1m4 0h1m1 0h1m14 0h1m1 0h1m3 0h1m4 0h1m8 0h1m25 0h1m12 0h1m7 0h2m6 0h1m14 0h1m11 0h1m4 0h1m13 0h1m14 0h1m3 0h1m10 0h1m4 0h1m54 0h1m22 0h1m6 0h2m38 0h1m43 0h1M1174 172.21h1m8 0h1m13 0h1m178 0h1m90 0h1m3 0h1m29 0h1m8 0h1m17 0h1m37 0h1m18 0h1m49 0h1m34 0h1m98 0h1m85 0h1m10 0h1M1182 202.54h1m9 0h2m2 0h1m177 0h1m334 0h1m14 0h1M1123 232.86h1m89 0h1m7 0h1m21 0h1m10 0h1m95 0h1m71 0h1m9 0h1m139 0h1m85 0h1m65 0h1M1172 263.19h1m9 0h1m16 0h1m27 0h1m130 0h1m6 0h1m12 0h1m17 0h1m4 0h1m47 0h1m6 0h1m6 0h1m4 0h1m5 0h1m1 0h2m5 0h1m6 0h1m9 0h1m19 0h1m4 0h1m2 0h1m8 0h1m15 0h2m7 0h1m307 0h1M1160 293.52h1m621 0h2m7 0h1m7 0h3m71 0h1M1169 323.85h1m539 0h1M1158 354.18h1m2 0h1m9 0h1m3 0h1m5 0h1m4 0h1m2 0h1m5 0h3m508 0h1m2 0h1m10 0h1m1 0h1m8 0h1m5 0h1m131 0h1m9 0h1M1129 384.51h1m2 0h2m4 0h1m3 0h1m7 0h1m56 0h1m13 0h1m27 0h1m58 0h1m155 0h1m36 0h1m20 0h1m55 0h1m31 0h1m3 0h1m17 0h1m57 0h1m37 0h1m139 0h1M1160 414.84h1m2 0h1m6 0h1m31 0h1m11 0h1m7 0h1m505 0h1m7 0h1m124 0h1"/>
<path stroke="#7e52fc" d="M1683 20.56h1M1129 50.89h1m47 0h1m2 0h1m1 0h1m2 0h1m3 0h1m4 0h1m5 0h1m25 0h1m482 0h1m12 0h1m22 0h1m2 0h1m9 0h1m19 0h1m8 0h1M1222 81.22h1m1 0h1m4 0h1m10 0h1m39 0h1m34 0h1m110 0h1m33 0h1m1 0h1m6 0h1m1 0h1m24 0h1m23 0h1m16 0h1m16 0h1m1 0h1m210 0h1m25 0h1m71 0h1M1159 111.55h1m5 0h1m580 0h1m42 0h1m12 0h2m68 0h1M1153 141.88h1m15 0h1m26 0h1m215 0h1m35 0h1m2 0h1m30 0h1m2 0h2m6 0h1m3 0h1m5 0h1m8 0h1m23 0h1m2 0h1m21 0h1m1 0h1m4 0h1m10 0h1m23 0h1m27 0h1m12 0h1m2 0h2m7 0h1m33 0h1m1 0h1m6 0h1m4 0h1m80 0h1m4 0h2m7 0h1m3 0h1m51 0h1M1127 172.21h1m6 0h1m32 0h1m10 0h1m320 0h1m19 0h1m60 0h1M1123 202.54h1m16 0h1m45 0h1m23 0h1m166 0h1m194 0h1m202 0h1M1136 232.86h1m237 0h1m12 0h1m186 0h1m3 0h1m239 0h1M1125 263.19h1m22 0h1m5 0h1m10 0h1m44 0h1m64 0h1m21 0h1m16 0h1m16 0h1m11 0h1m95 0h1m38 0h1m5 0h1m8 0h1m1 0h1m9 0h1m6 0h1m14 0h1m6 0h1m6 0h2m8 0h1m3 0h1m168 0h1m42 0h1m33 0h1m16 0h1m16 0h1M1134 293.52h1m13 0h1m639 0h1M1800 323.85h1M1142 354.18h1m39 0h1m7 0h1m2 0h2m4 0h1m514 0h1m4 0h1m13 0h1m2 0h1m136 0h1M1126 384.51h1m17 0h1m33 0h1m34 0h1m10 0h1m88 0h1m147 0h1m53 0h1m85 0h1m48 0h1m49 0h1m22 0h1M1161 414.84h1m9 0h1m2 0h1m10 0h1m19 0h1m2 0h1m2 0h1m4 0h2m15 0h1"/>
<path stroke="#865afc" d="M1189 20.56h1m267 0h1M1186 50.89h1m4 0h1m4 0h1m1 0h1m3 0h1m14 0h1m5 0h1m500 0h1m29 0h1m1 0h1m15 0h1m1 0h1m1 0h1m2 0h1m21 0h1m66 0h1M1142 81.22h1m4 0h1m56 0h1m10 0h1m37 0h1m51 0h1m28 0h1m28 0h1m12 0h1m29 0h1m31 0h1m45 0h1m36 0h1m33 0h1m9 0h1m160 0h1m13 0h1m46 0h1M1158 111.55h1m13 0h1m560 0h1m2 0h1m51 0h1m2 0h1m8 0h1M1228 141.88h1m210 0h1m28 0h1m20 0h1m1 0h1m22 0h2m21 0h1m13 0h1m10 0h1m50 0h1m5 0h1m104 0h1m77 0h1m27 0h1M1155 172.21h1m527 0h1m108 0h1m78 0h1M1131 202.54h1m41 0h1m2 0h1m51 0h1m18 0h1m1 0h1m49 0h1m334 0h1m119 0h1M1153 232.86h1m39 0h1m6 0h1m25 0h1m119 0h1m138 0h1m90 0h1m39 0h1M1153 263.19h1m9 0h1m33 0h1m11 0h1m105 0h1m23 0h1m64 0h1m3 0h1m7 0h1m5 0h1m47 0h1m26 0h1m1 0h1m19 0h1m11 0h1m14 0h1m1 0h2m2 0h1m10 0h1m5 0h1m241 0h1M1725 323.85h1m9 0h1m7 0h2M1173 354.18h1m11 0h1m516 0h1m5 0h1m3 0h1m3 0h1m4 0h1m1 0h1m43 0h1m4 0h1m1 0h1M1123 384.51h2m2 0h1m6 0h1m211 0h1m124 0h1m283 0h1m31 0h1m2 0h1m84 0h2M1212 414.84h1m8 0h1m5 0h1m2 0h2m539 0h1"/>
<path stroke="#8e62fb" d="M1169 20.56h1m455 0h1M1141 50.89h1m10 0h1m23 0h1m4 0h1m13 0h1m26 0h1m1 0h1m530 0h1m3 0h1m1 0h1m9 0h1m1 0h1m3 0h1m99 0h1M1155 81.22h1m3 0h1m8 0h1m3 0h1m38 0h1m2 0h1m6 0h1m1 0h1m158 0h1m81 0h1m7 0h1m1 0h2m313 0h1M1154 111.55h1m19 0h1m537 0h1m2 0h1m14 0h1m14 0h1m39 0h1m10 0h1m2 0h1M1178 141.88h1m47 0h1m194 0h1m65 0h1m6 0h2m9 0h1m3 0h1m8 0h1m3 0h1m12 0h1m28 0h1m4 0h1m24 0h1m33 0h1m80 0h1m123 0h1M1191 172.21h1m32 0h1m386 0h1m128 0h1m26 0h1m30 0h1m62 0h1M1608 202.54h1m45 0h1m87 0h1m2 0h1m36 0h1M1173 232.86h1m28 0h1m32 0h1m17 0h1m21 0h1m189 0h1m13 0h1m139 0h1m250 0h1M1129 263.19h1m48 0h1m14 0h1m92 0h1m156 0h1m25 0h1m1 0h1m30 0h1m20 0h1m2 0h1m11 0h2m21 0h1m180 0h1M1798 293.52h1M1706 323.85h1m19 0h1m4 0h1m9 0h1M1151 354.18h1m8 0h1m30 0h1m519 0h1m18 0h1m13 0h1m6 0h1m1 0h1m15 0h1M1125 384.51h1m22 0h1m3 0h1m7 0h1m202 0h1m23 0h1m21 0h1m20 0h1m1 0h1m40 0h1m77 0h1m82 0h1m2 0h1m137 0h1m98 0h1m3 0h1M1173 414.84h1m50 0h1m4 0h1m521 0h1"/>
<path stroke="#966bfa" d="M1408 20.56h1M1125 50.89h1m9 0h1m9 0h1m41 0h1m19 0h1m17 0h1m521 0h1m2 0h1m1 0h2m14 0h1m12 0h1M1156 81.22h1m14 0h1m31 0h1m12 0h1m3 0h1m6 0h1m2 0h1m157 0h1m140 0h1m20 0h1m8 0h1m183 0h1m127 0h1M1125 111.55h1m30 0h1m9 0h1m12 0h1m6 0h1m535 0h1m4 0h1m3 0h1m3 0h1m3 0h1m47 0h1m2 0h1m1 0h1m2 0h1M1224 141.88h1m210 0h1m26 0h1m6 0h1m4 0h2m4 0h1m2 0h1m4 0h1m1 0h1m9 0h1m26 0h1m1 0h1m8 0h1m4 0h1m1 0h1m38 0h1m13 0h1m187 0h1m7 0h1M1136 172.21h1m52 0h1m17 0h1m254 0h1m24 0h1m113 0h1M1151 202.54h1m17 0h1m8 0h1m590 0h1M1384 232.86h1m72 0h1m6 0h1m13 0h1M1228 263.19h1m25 0h1m122 0h1m70 0h1m47 0h1m6 0h1m2 0h1m1 0h1m1 0h1m5 0h1m28 0h1m22 0h1m143 0h1m117 0h1M1702 323.85h1m12 0h1m4 0h1m7 0h1m1 0h1m11 0h1m54 0h1M1165 354.18h1m4 0h1m6 0h1m527 0h1m1 0h1m24 0h1m8 0h1m3 0h1m12 0h1m2 0h1M1135 384.51h1m5 0h1m1 0h1m136 0h1m188 0h1m33 0h1m366 0h1m2 0h1M1164 414.84h1m45 0h1"/>
<path stroke="#9e75fa" d="M1220 20.56h1m396 0h1m77 0h1M1127 50.89h1m8 0h1m1 0h1m3 0h1m4 0h1m2 0h1m53 0h2m2 0h2m5 0h1m5 0h1m10 0h1m524 0h1m118 0h1m2 0h1M1272 81.22h1m120 0h1m54 0h1m83 0h1m184 0h1M1160 111.55h1m8 0h2m532 0h1m14 0h1m1 0h1m8 0h1m2 0h1m9 0h1m43 0h1m7 0h1M1186 141.88h1m266 0h1m12 0h1m3 0h1m2 0h1m10 0h1m21 0h1m6 0h1m6 0h1m3 0h1m1 0h1m7 0h1m6 0h1m14 0h1m15 0h1m12 0h1m38 0h1m10 0h1m95 0h1m39 0h1M1196 172.21h1M1296 232.86h1m60 0h2m117 0h2m102 0h1m93 0h1m7 0h1M1249 263.19h1m274 0h1m4 0h1m14 0h1m11 0h1m3 0h1m6 0h1m201 0h1m17 0h1m67 0h1M1703 323.85h1m1 0h1m5 0h1m1 0h1m2 0h1m1 0h1m17 0h1m64 0h1M1172 354.18h1m6 0h1m523 0h1m25 0h1m4 0h1m7 0h1m13 0h2m4 0h3m8 0h1m97 0h1M1146 384.51h2m1 0h1m376 0h1m126 0h1M1142 414.84h1m10 0h1m53 0h1m11 0h1m6 0h1"/>
<path stroke="#a67ef9" d="M1233 20.56h1m226 0h1M1130 50.89h1m3 0h1m71 0h1m5 0h1m17 0h1m2 0h1m528 0h1m6 0h1M1161 81.22h3m46 0h1m21 0h1m225 0h1m42 0h1M1161 111.55h1m543 0h1m3 0h1m3 0h1m2 0h1M1426 141.88h1m44 0h1m9 0h1m29 0h1m7 0h1m1 0h1m1 0h1m7 0h1m16 0h1m3 0h1m23 0h1m24 0h1m30 0h1m5 0h1m19 0h1m155 0h1M1179 202.54h1M1216 232.86h1m91 0h1m150 0h1m31 0h1m2 0h1m143 0h1M1173 263.19h1m3 0h1m206 0h1m77 0h1m46 0h1m3 0h1m7 0h1m35 0h1m178 0h1M1207 293.52h1m585 0h1M1704 323.85h1m19 0h1m2 0h1m5 0h1m3 0h1M1140 354.18h1m28 0h1m556 0h1m22 0h1m9 0h1m5 0h1m2 0h1m1 0h1m8 0h1M1131 384.51h1m740 0h1M1196 414.84h1m6 0h2"/>
<path stroke="#ae89f8" d="M1173 20.56h1m341 0h1m227 0h1M1131 50.89h2m60 0h1m7 0h1m1 0h1m7 0h1m2 0h1m12 0h1m536 0h1m2 0h1m106 0h1M1158 81.22h1m7 0h2m39 0h1m33 0h1m18 0h1m41 0h1m177 0h1m18 0h1m18 0h2m29 0h1m205 0h1M1173 111.55h1m530 0h1m14 0h1m1 0h1m2 0h1m13 0h1m5 0h1m53 0h1M1193 141.88h1m33 0h1m268 0h1m60 0h1m136 0h1m92 0h1M1210 172.21h1M1207 202.54h1M1149 232.86h1m340 0h1M1253 263.19h1m204 0h1m59 0h1m46 0h2m310 0h1M1761 293.52h1M1708 323.85h1m5 0h1m23 0h1M1198 354.18h1m541 0h1m13 0h1m11 0h1m13 0h1M1151 384.51h1m719 0h1M1132 414.84h1"/>
<path stroke="#b694f7" d="M1774 20.56h1M1123 50.89h1m9 0h1m17 0h1m26 0h1m52 0h1m531 0h1m2 0h1m102 0h2M1129 81.22h1m10 0h1m19 0h1m3 0h1m302 0h1M1707 111.55h1m2 0h1m30 0h1m55 0h1m3 0h1M1554 141.88h1m4 0h1m241 0h1M1200 202.54h1m670 0h1M1140 232.86h1m327 0h1M1340 263.19h1m146 0h1m272 0h1M1734 323.85h1M1704 354.18h1m33 0h1m9 0h1m1 0h1M1128 384.51h1M1148 414.84h1m1 0h1m604 0h1"/>
<path stroke="#be9ff6" d="M1478 20.56h1m296 0h1M1126 50.89h1m16 0h2m4 0h1m60 0h1M1274 81.22h1M1706 111.55h1m1 0h1m2 0h1m5 0h1m55 0h1M1476 141.88h1m89 0h1M1460 232.86h1m9 0h1m1 0h1m2 0h1m8 0h1m1 0h1m1 0h1M1240 263.19h1m81 0h1m144 0h1m65 0h1m30 0h1M1217 293.52h1m5 0h1m5 0h1M1712 323.85h1m8 0h1m10 0h1m6 0h1M1178 354.18h1m29 0h1m534 0h1M1140 384.51h1M1137 414.84h1m34 0h1m47 0h1m560 0h1"/>
<path stroke="#c6abf5" d="M1796 20.56h1M1137 50.89h1m8 0h1m66 0h1m556 0h1m104 0h1M1169 81.22h1m4 0h1m104 0h1m474 0h1m14 0h1M1714 111.55h1m57 0h1M1197 141.88h1m330 0h1M1480 232.86h1m1 0h1m12 0h1M1308 263.19h1m51 0h1m41 0h1m98 0h1m5 0h1M1226 293.52h1M1719 323.85h1m9 0h1M1221 354.18h1m495 0h1m29 0h1m28 0h1M1136 384.51h1M1138 414.84h1m4 0h1m21 0h1m66 0h1"/>
<path stroke="#ceb7f3" d="M1124 50.89h1m54 0h1m38 0h1m659 0h1M1170 81.22h1m62 0h1m98 0h1m74 0h1M1150 141.88h1m359 0h1m54 0h1M1558 202.54h1M1461 232.86h1m11 0h1m7 0h1m1 0h1M1515 263.19h1M1202 293.52h1m3 0h1m8 0h1m2 0h1m3 0h1m7 0h1m529 0h1M1707 323.85h1M1210 354.18h1m11 0h1m7 0h1m521 0h1M1125 414.84h1m4 0h2m17 0h1m1 0h1"/>
<path stroke="#d6c4f2" d="M1219 50.89h1M1753 111.55h1m4 0h1m10 0h1m8 0h1M1463 141.88h1M1515 202.54h1m20 0h1m11 0h1M1547 263.19h1M1208 293.52h3m1 0h1m11 0h1m2 0h2m522 0h1m21 0h1M1202 323.85h1m13 0h1m5 0h1M1201 354.18h2m9 0h1m7 0h1m6 0h2m548 0h2m2 0h1M1127 414.84h1m11 0h2m4 0h1"/>
<path stroke="#ded2f0" d="M1172 50.89h1m1 0h1m53 0h1m546 0h1M1749 111.55h1m5 0h1m5 0h1m4 0h2m2 0h1m5 0h1M1457 141.88h1m41 0h1m33 0h1M1450 172.21h1M1503 202.54h2m29 0h1m5 0h1m10 0h1m1 0h1m1 0h1m3 0h2m2 0h1m2 0h1m1 0h1M1463 232.86h1m10 0h1M1205 293.52h1m14 0h2m10 0h2m522 0h1m18 0h1M1206 323.85h1M1203 354.18h1m2 0h1m2 0h1m1 0h1m3 0h1m7 0h2m1 0h1m6 0h1M1126 414.84h1m2 0h1m3 0h1m13 0h1"/>
<path stroke="#e6e0ee" d="M1147 20.56h2m2 0h1m719 0h1M1164 50.89h1m2 0h1m3 0h1m44 0h1m3 0h1m652 0h1M1154 81.22h1m10 0h1m21 0h1m10 0h1M1232 111.55h1m490 0h1m19 0h1m7 0h1m4 0h1m14 0h1m3 0h1m4 0h1M1461 141.88h1m5 0h1m33 0h1M1452 172.21h1M1488 202.54h1m10 0h1m6 0h1m1 0h1m1 0h1m6 0h5m1 0h1m2 0h1m4 0h2m2 0h1m5 0h4m1 0h2m1 0h2m3 0h1m1 0h2m3 0h1m2 0h2m1 0h1M1493 232.86h1M1522 263.19h1M1201 293.52h1m1 0h2m6 0h1m19 0h1m527 0h1m3 0h1m1 0h1m1 0h2m2 0h1m9 0h1M1203 323.85h1m16 0h1m2 0h1m499 0h1M1205 354.18h1m1 0h1m5 0h1m17 0h2m538 0h1M1863 384.51h1m1 0h1M1135 414.84h2m4 0h1m10 0h1"/>
<path stroke="#edeae9" d="M1125 20.56h1m10 0h1m4 0h3m2 0h1m3 0h1m1 0h1m722 0h1M1155 50.89h1m5 0h1m4 0h1m2 0h1m3 0h1M1186 81.22h1m6 0h1M1214 111.55h1m2 0h1m529 0h1m11 0h2m1 0h1m5 0h1m10 0h1m1 0h1M1398 141.88h1m151 0h1M1440 172.21h1m6 0h3m1 0h1m2 0h3M1475 202.54h1m15 0h1m6 0h1m1 0h1m1 0h1m2 0h1m1 0h1m5 0h2m1 0h1m5 0h1m4 0h4m2 0h1m4 0h1m6 0h1m6 0h1m9 0h1m6 0h1M1554 232.86h1M1214 293.52h1m10 0h1m506 0h1m1 0h1m3 0h1m2 0h4m3 0h1m3 0h2m3 0h2m11 0h1m1 0h1m5 0h1m1 0h1M1209 323.85h1m14 0h1m5 0h1m1 0h1m477 0h1m66 0h1M1216 354.18h1m1 0h1m578 0h1M1852 384.51h1m7 0h1m1 0h1m4 0h1M1134 414.84h1"/>
<path stroke="#f4ded9" d="M1134 20.56h2m3 0h1m4 0h1m4 0h1M1128 50.89h1m10 0h1m8 0h1m10 0h2m1 0h1m2 0h1m4 0h1m58 0h1m641 0h2M1153 81.22h1m19 0h1m15 0h1m6 0h1m3 0h1M1216 111.55h1m4 0h1m5 0h1m474 0h1m23 0h1m7 0h1m13 0h1m1 0h1m6 0h1m7 0h1M1349 141.88h1m9 0h1M1422 172.21h1m3 0h1m4 0h2m1 0h1m1 0h1m1 0h1m2 0h1m1 0h2m1 0h1M1469 202.54h1m12 0h2m2 0h1m3 0h1m3 0h1m1 0h2m13 0h2m11 0h2m11 0h1m1 0h1M1462 232.86h1m3 0h2m3 0h1m80 0h1m6 0h1m7 0h2M1213 293.52h1m2 0h1m2 0h1m490 0h1m17 0h2m7 0h1m8 0h1m2 0h2m11 0h1m3 0h1m2 0h1m4 0h1M1201 323.85h1m5 0h1m13 0h1m5 0h1m5 0h1m488 0h1m17 0h1m4 0h1m26 0h1m1 0h1M1214 354.18h1m2 0h1m7 0h1m529 0h1m4 0h1m14 0h1m26 0h2M1848 384.51h1m2 0h1m1 0h1m2 0h4m1 0h1m4 0h1M1124 414.84h1m3 0h1m15 0h1m1 0h1"/>
<path stroke="#fad2c7" d="M1126 20.56h1m1 0h2m1 0h1m1 0h1m3 0h2m6 0h1m726 0h1m4 0h3M1158 50.89h1m4 0h1m4 0h1M1178 81.22h1m1 0h1m1 0h2m1 0h1m2 0h1m3 0h1m1 0h2m3 0h1M1226 111.55h1m4 0h1m1 0h1m518 0h1m1 0h1m8 0h1m10 0h1M1338 141.88h1m11 0h1m18 0h1m1 0h1m1 0h1m3 0h1m4 0h1m1 0h2M1429 172.21h1m9 0h1m5 0h1m7 0h1M1461 202.54h2m5 0h1m3 0h1m6 0h1m1 0h1m5 0h1m5 0h1m7 0h1m7 0h1M1492 232.86h1m33 0h1m4 0h2m2 0h3m2 0h1m1 0h2m1 0h3m2 0h2m6 0h1m1 0h2m2 0h2m3 0h1M1714 293.52h1m1 0h2m12 0h1m4 0h2m2 0h2m4 0h1m8 0h2m20 0h1m2 0h1M1204 323.85h2m2 0h1m2 0h2m4 0h1m7 0h2m2 0h1m528 0h1m20 0h2M1204 354.18h1m14 0h1m9 0h1m571 0h1m2 0h1M1837 384.51h1m4 0h1m3 0h1m2 0h1m14 0h1M1872 414.84h1m3 0h1"/>
<path stroke="#fec5b6" d="M1123 20.56h1m3 0h1m2 0h1m1 0h1m7 0h1m727 0h1m4 0h2m1 0h1M1140 50.89h1m12 0h2m1 0h2M1177 81.22h1m3 0h1m2 0h1m5 0h2m5 0h1M1202 111.55h1m5 0h1m1 0h1m2 0h1m1 0h1m3 0h1m2 0h4m2 0h3m533 0h1M1348 141.88h1m21 0h1m1 0h1m2 0h1m12 0h3m8 0h1m50 0h1m8 0h1m235 0h1M1408 172.21h1m6 0h2m2 0h2m2 0h3m1 0h1m2 0h1m2 0h1m1 0h1m1 0h1m4 0h1M1457 202.54h2m4 0h2m2 0h1m2 0h2m1 0h2m1 0h3m1 0h1m3 0h2m6 0h1m2 0h1M1469 232.86h1m17 0h1m1 0h1m17 0h3m1 0h1m3 0h1m2 0h1m2 0h1m3 0h1m2 0h1m1 0h1m2 0h1m4 0h1m2 0h1m2 0h1m3 0h2m3 0h1m1 0h3m4 0h2M1543 263.19h1m6 0h1M1706 293.52h4m3 0h1m1 0h1m2 0h1m1 0h4m1 0h3m3 0h1m1 0h1m30 0h1m12 0h1M1213 323.85h1m14 0h1m2 0h1m523 0h1m5 0h2m1 0h2m1 0h1m2 0h1m4 0h1m2 0h1m2 0h1M1786 354.18h1m2 0h3m3 0h2m2 0h2M1809 384.51h1m18 0h1m3 0h1m3 0h1m1 0h4m1 0h2m5 0h1m3 0h2M1868 414.84h1m1 0h2m5 0h2"/>
<path stroke="#ffb7a4" d="M1124 20.56h1M1176 81.22h1m2 0h1M1201 111.55h1m3 0h2m4 0h2m5 0h1m558 0h1M1314 141.88h1m9 0h1m1 0h1m5 0h2m2 0h1m4 0h1m3 0h3m3 0h2m4 0h1m2 0h2m1 0h5m8 0h1m3 0h2m4 0h1m6 0h5m2 0h1M1411 172.21h2m15 0h1M1459 202.54h2m4 0h2m22 0h1M1458 232.86h1m37 0h2m1 0h3m1 0h1m2 0h1m3 0h1m1 0h2m2 0h2m1 0h2m1 0h3m2 0h1m1 0h1m4 0h1m4 0h1m26 0h1M1301 263.19h1m170 0h1m59 0h1M1702 293.52h3m6 0h2m6 0h1m4 0h1m22 0h1M1218 323.85h2m539 0h1m3 0h1m2 0h1m1 0h2M1782 354.18h1m4 0h1m4 0h1m5 0h1M1817 384.51h3m6 0h2m1 0h2m2 0h3m9 0h1M1123 414.84h1m749 0h3m3 0h1"/>
<path stroke="#ffa991" d="M1869 20.56h2M1175 81.22h1M1203 111.55h2m2 0h1m1 0h1m10 0h1M1304 141.88h1m1 0h1m3 0h2m13 0h1m1 0h1m2 0h1m3 0h2m3 0h1m3 0h2m9 0h1m1 0h1m5 0h1m15 0h2m3 0h1m7 0h2m123 0h1M1401 172.21h1m3 0h2m2 0h1m3 0h2m2 0h2m2 0h1M1498 232.86h1m3 0h1m1 0h2m8 0h1M1293 263.19h1m119 0h1M1705 293.52h1M1214 323.85h2m531 0h8m1 0h2m2 0h1m10 0h1m1 0h1m2 0h1M1783 354.18h3m2 0h1m5 0h1M1815 384.51h2m3 0h1m1 0h1m8 0h1m15 0h1M1869 414.84h1"/>
<path stroke="#ff9a7f" d="M1286 141.88h1m9 0h1m15 0h1m2 0h2m3 0h1m1 0h2m5 0h1m7 0h1m2 0h1m12 0h1m1 0h1m2 0h1m9 0h1m91 0h1m99 0h1m25 0h1M1402 172.21h1m1 0h1m2 0h1m2 0h1M1453 263.19h1m5 0h1m13 0h1m40 0h1m44 0h1m108 0h1M1210 323.85h1M1793 354.18h1M1810 384.51h5m8 0h3"/>
<path stroke="#ff8a6c" d="M1280 141.88h1m3 0h1m4 0h1m2 0h2m1 0h1m1 0h2m1 0h2m1 0h1m1 0h1m2 0h1m4 0h1m3 0h2m2 0h1m6 0h1m13 0h1m44 0h1m220 0h1M1685 263.19h1m9 0h1M1806 384.51h2m13 0h1"/>
<path stroke="#ff7959" d="M1267 141.88h1m8 0h1m11 0h1m2 0h1m2 0h1m12 0h1m23 0h1m42 0h1M1403 172.21h1M1414 263.19h1m244 0h1m6 0h1m24 0h1m6 0h1M1805 384.51h1"/>
<path stroke="#ff6645" d="M1260 141.88h1m10 0h1m1 0h1m1 0h1m1 0h1m1 0h1m1 0h2m4 0h1m11 0h1m2 0h1m6 0h1M1282 263.19h1m374 0h1m2 0h1m8 0h1m1 0h1m1 0h2m7 0h1m1 0h1m3 0h1m1 0h1m5 0h1m2 0h2M1808 384.51h1"/>
<path stroke="#ff5031" d="M1259 141.88h1m3 0h3m2 0h1m3 0h1m10 0h1m6 0h1m28 0h1M1257 263.19h1m92 0h1m79 0h1m201 0h1m6 0h1m11 0h1m10 0h2m1 0h1m1 0h1m7 0h6m5 0h1m5 0h3m2 0h1"/>
<path stroke="#ff331a" d="M1254 141.88h3m1 0h1m2 0h2m3 0h1m7 0h1m3 0h1m6 0h1M1392 263.19h1m32 0h1m205 0h1m5 0h1m6 0h1m1 0h2m1 0h1m2 0h1m3 0h1m4 0h1m8 0h1m1 0h1m10 0h1m3 0h1m1 0h1m11 0h1"/>
<path stroke="#ff0000" d="M1248 141.88h3m2 0h1m3 0h1M1624 263.19h1m1 0h1m3 0h1m2 0h1m1 0h2m1 0h1m2 0h3m1 0h1m4 0h1m2 0h1m1 0h1m2 0h1m22 0h1"/>
<path stroke="#ff0000" d="M1238 141.88h10m3 0h2m16 0h2M1608 263.19h16m1 0h1m1 0h3m4 0h1m13 0h1m15 0h1"/>
<path stroke="#ff0000" d="M1234 141.88h4M1570 263.19h38m32 0h1m13 0h1"/>
</g></g>
<defs><linearGradient id="cb" gradientUnits="userSpaceOnUse" x1="1429.6" x2="1567.2" y1="0" y2="0"><stop offset="0.000" stop-color="#0000ff"/><stop offset="0.025" stop-color="#391bff"/><stop offset="0.050" stop-color="#512cfe"/><stop offset="0.075" stop-color="#633afd"/><stop offset="0.100" stop-color="#7247fd"/><stop offset="0.125" stop-color="#7f53fc"/><stop offset="0.150" stop-color="#8b5ffb"/><stop offset="0.175" stop-color="#966bfa"/><stop offset="0.200" stop-color="#a077fa"/><stop offset="0.225" stop-color="#a983f9"/><stop offset="0.250" stop-color="#b28ef8"/><stop offset="0.275" stop-color="#bb9af6"/><stop offset="0.300" stop-color="#c3a5f5"/><stop offset="0.325" stop-color="#cab1f4"/><stop offset="0.350" stop-color="#d2bdf3"/><stop offset="0.375" stop-color="#d9c8f1"/><stop offset="0.400" stop-color="#dfd4f0"/><stop offset="0.425" stop-color="#e6e0ee"/><stop offset="0.450" stop-color="#ececec"/><stop offset="0.475" stop-color="#f2e3df"/><stop offset="0.500" stop-color="#f6d9d2"/><stop offset="0.525" stop-color="#fbd0c5"/><stop offset="0.550" stop-color="#fec6b8"/><stop offset="0.575" stop-color="#ffbdab"/><stop offset="0.600" stop-color="#ffb39e"/><stop offset="0.625" stop-color="#ffa992"/><stop offset="0.650" stop-color="#ff9f85"/><stop offset="0.675" stop-color="#ff9579"/><stop offset="0.700" stop-color="#ff8b6d"/><stop offset="0.725" stop-color="#ff8060"/><stop offset="0.750" stop-color="#ff7554"/><stop offset="0.775" stop-color="#ff6948"/><stop offset="0.800" stop-color="#ff5d3c"/><stop offset="0.825" stop-color="#ff4f30"/><stop offset="0.850" stop-color="#ff3f23"/><stop offset="0.875" stop-color="#ff2a14"/><stop offset="0.900" stop-color="#ff0000"/><stop offset="0.925" stop-color="#ff0000"/><stop offset="0.950" stop-color="#ff0000"/><stop offset="0.975" stop-color="#ff0000"/><stop offset="1.000" stop-color="#ff0000"/></linearGradient></defs>
<rect x="1427.3" y="440.9" width="143.3" height="13" fill="url(#cb)"/>
<path d="M1429.6 440.9v2.2M1429.6 453.9v-2.2M1457.1 440.9v2.2M1457.1 453.9v-2.2M1484.6 440.9v2.2M1484.6 453.9v-2.2M1512.2 440.9v2.2M1512.2 453.9v-2.2M1539.7 440.9v2.2M1539.7 453.9v-2.2M1567.2 440.9v2.2M1567.2 453.9v-2.2" stroke="#fff" stroke-opacity=".75" stroke-width="1.1" fill="none"/>
<path d="M170.4 566.3h287.3M170.4 589.3h287.3M170.4 612.3h287.3M170.4 635.2h287.3M170.4 658.2h287.3M170.4 681.2h287.3M170.4 704.2h287.3M170.4 727.1h287.3M170.4 750.1h287.3M170.4 773.1h287.3M170.4 796.1h287.3M170.4 819.0h287.3M170.4 842.0h287.3M170.4 865.0h287.3" stroke="#c6c6c6" stroke-width="1.1" fill="none"/>
<path fill="#F8766D" d="M184.6 566.8l6.3-.5l11.5 .1l2-.5l5-2.6l2.5-.8l2.5-.4l3.5-2l2-.6l2.5-.5l2.5 .5l1.5 1.1l1.5 .7l5.5 3.1l3.5 1.5l.5-.7l1.5-3.3l.5-.6l2-1.5l1-.6l1.5-1.4l1.5-1.9l1.5-1.6l1.5-2.2l1.5-1.6l2-2.8l1-2l.5-.1l3.5 2.7l2.5 7.4l2 1.8l1.5 1.7l.5-.2l1-1.7l1-1.2l1.5-.6l2-1.5l1-.5l.5 0l1 1.4l1 .8l1.5 1.7l.5 0l2-1.2l1 .1l1.5-.8l2-.1l1.5-.7l1 .2l.5-.2l.5 .1l4 3.5l2 1.1l2.5 1.9l6 3.7l5.5-.8l10.5 1l11.5-.2l9 1.6l60 0l11-.6l12.2 .8z"/>
<path fill="#E38900" d="M198.6 589.8l9.8-.7l9-1.4l4.5-.4l2.5 .1l8.5 1.3l7 .6l3-.5l1.5-.6l3-1.5l3-2.1l3-1.4l1 .2l2 .9l4 2.5l2 1l2 .7l1.5-.2l3.5-1l1 .2l2-.1l3.5-1.1l3-1.4l2.5-.6l3 .4l2 .7l1 0l2.5 1.1l2 .7l4 1.2l2 .4l7-.5l4.5 .2l8.5 .8l9-.5l14 .9l10.5-.5l10 .5l10-.5l10.5 .5l.3 .1zM397.2 589.8l11.7-.5l11.7 .5z"/>
<path fill="#C49A00" d="M203.2 612.8l18.7-1l13.5 .6l6.5-1.2l4 .6l7-1.6l2.5 .2l6 1.4l2.5 .4l5.5-.7l3.5 .4l10-1l12 1.3l7-.5l4.5-.1l16.8 1.2z"/>
<path fill="#99A800" d="M204.2 635.8l17.7-.8l18.5 .6l4.5-.3l5.5-.9l4-.4l9 1.3l5.5-.5l5 .3l8.5-.5l14 .9l10-.2l12 .3l.2 .2zM393.2 635.8l15.7-1.3l15.7 1.3z"/>
<path fill="#53B400" d="M174.6 658.8l12.8-1l11 .6l4.5-.4l8.5-1.7l2.5-.2l8.5 1.5l3.5-.5l2.5 0l7 .9l7-.7l6 .6l5.5-.4l7.5 .7l4.5-.2l7.3 .8zM336.6 658.8l9.3-.4l8.7 .4zM395.2 658.8l13.7-.8l13.7 .8z"/>
<path fill="#00BC56" d="M204.2 681.7l17.7-.8l19 .7l4.5-.3l8-.8l8 .7l5.5-.5l5 .1l10-1l3.5 .1l5.5 .8l6.5 .6l9-.2l13.2 .6z"/>
<path fill="#00C094" d="M203.2 704.7l18.7-1l18.5 .9l4.5-.4l6-1l2.5-.3l2.5 .2l6 .9l6-.6l3 .2l4.5-.9l1.5-.1l2-.5l3.5-.4l2.5 .2l7.5 1.5l5 .7l8.5-.4l16.7 1z"/>
<path fill="#00BFC4" d="M177.6 727.7l9.8-.5l11 .2l4.5-.4l5.5-.9l2.5-.2l2.5 .2l8-.9l3 0l10 1.6l6.5 .5l4-.6l8.5-2.6l4 .9l3.5 1.2l2.5 .6l6-1.3l4 .6l2.5-.2l3-.7l3.5-.4l2.5 .3l8.5 1.5l3.5 .5l8.5-.5l12 .7l10-.4l13.8 .8z"/>
<path fill="#00B6EB" d="M183.6 750.7l1.8-.8l1.5 .5l.3 .3zM203.6 750.7l3.3-2.2l3-.6l2.5-.8l6.5-.8l7.5 .5l.5 .2l3 2.9l3.5 .4l5.5-.1l7.5-.7l.5-.1l3-3l5.5-.9l5.5 1.5l5-1.5l2.5-.4l4-1.2l1-.1l1-.5l2.5-.5l6 2.7l3 .6l2 .8l4 1l5.5 2.2l3-.3l5.5-1.2l7-.7l7 1.1l3.5 1.1l6.5 .3l.7 .3zM395.2 750.7l4.2-.8l5 .3l1.2 .5zM418.2 750.7l3.7-.8l3.7 .8z"/>
<path fill="#06A4FF" d="M202.2 773.6l20.2-1.2l19 1.1l13-1.1l8.5 .9l6-.7l4.5 .3l9.5-.7l13.5 1.1l10-.3l13.2 .6zM361.6 773.6l.3-.1l9.5-.4l10.2 .5zM395.6 773.6l13.3-.7l13.3 .7z"/>
<path fill="#A58AFF" d="M204.2 796.6l17.7-.8l18.3 .8zM243.2 796.6l10.7-.6l10.3 .6zM268.6 796.6l13.8-.5l13.8 .5zM313.2 796.6l13.7-.8l14.3 .8zM392.2 796.6l15.2-1.4l3-.1l7.5 .9l7.3 .6z"/>
<path fill="#DF70F8" d="M203.2 819.6l18.7-1l19.5 .9l12.5-1.1l12 1l16.5-.8l17.2 1zM316.2 819.6l10.7-.4l10.7 .4zM356.6 819.6l9.3-.4l8.5 .3l.2 .1zM396.2 819.6l12.7-.6l12.7 .6z"/>
<path fill="#FB61D7" d="M182.6 842.6l7.8-.8l6.5 .5l6-1l2-.2l1.5 .1l5 1l2.5 .2l4.5-.5l7.5-1.5l2-.1l3.5 .4l3 .7l3.5 .5l6-1.2l6 1.3l3.5-.8l1.5-.5l2-.1l5.5 1.3l2.5 .3l3-.7l5.5-2.5l1 0l2.5 .8l1-.6l3-2.7l1.5-.6l2 .8l3 2.8l.5 .2l1-.3l1.5 .1l4.5 1.9l2 .6l2 .2l6.5-.9l9.2 1.3zM393.6 842.6l6.3-1.2l7.3 1.2zM408.6 842.6l5.8-.8l6.2 .8zM439.2 842.6l4.2-.8l3.8 .8z"/>
<path fill="#FF66A8" d="M186.6 865.5l18.3-1l7.5-1.7l9-.8l5.5 1.1l3.5 1.9l6 .3l.5-.1l4-3.3l6-2.4l2.5-2.6l1.5-2l.5-.4l1-.1l1.5-1l3 2.2l.5 .5l4 6.1l.5 .1l3.5-1.1l9-.4l.5-.4l1.5-4l1-.1l2-1l3.5-1l.5 0l1.5 1.5l3.5 2.5l3.5 1.8l2 1.5l3.5 1.9l7.5-.5l10 1.6l12-.7l8.5 1.4l75.5-.1l7 .2l.3 .1z"/>
<path d="M181 926.1H444.6" stroke="#3434ac" stroke-width="1" fill="none"/>
<path fill="#12128f" d="M180.8 923.4l3.3 2.7l-3.3 2.7l1-2.7zM186.0 923.4l3.3 2.7l-3.3 2.7l1-2.7zM191.2 923.4l3.3 2.7l-3.3 2.7l1-2.7zM196.4 923.4l3.3 2.7l-3.3 2.7l1-2.7zM201.6 923.4l3.3 2.7l-3.3 2.7l1-2.7zM206.8 923.4l3.3 2.7l-3.3 2.7l1-2.7zM212.0 923.4l3.3 2.7l-3.3 2.7l1-2.7zM217.2 923.4l3.3 2.7l-3.3 2.7l1-2.7zM222.4 923.4l3.3 2.7l-3.3 2.7l1-2.7zM227.6 923.4l3.3 2.7l-3.3 2.7l1-2.7zM232.8 923.4l3.3 2.7l-3.3 2.7l1-2.7zM238.0 923.4l3.3 2.7l-3.3 2.7l1-2.7zM243.2 923.4l3.3 2.7l-3.3 2.7l1-2.7zM248.4 923.4l3.3 2.7l-3.3 2.7l1-2.7zM253.6 923.4l3.3 2.7l-3.3 2.7l1-2.7zM258.8 923.4l3.3 2.7l-3.3 2.7l1-2.7zM264.0 923.4l3.3 2.7l-3.3 2.7l1-2.7zM269.2 923.4l3.3 2.7l-3.3 2.7l1-2.7zM274.4 923.4l3.3 2.7l-3.3 2.7l1-2.7zM279.6 923.4l3.3 2.7l-3.3 2.7l1-2.7zM284.8 923.4l3.3 2.7l-3.3 2.7l1-2.7zM290.0 923.4l3.3 2.7l-3.3 2.7l1-2.7zM295.2 923.4l3.3 2.7l-3.3 2.7l1-2.7zM300.4 923.4l3.3 2.7l-3.3 2.7l1-2.7zM305.6 923.4l3.3 2.7l-3.3 2.7l1-2.7zM310.8 923.4l3.3 2.7l-3.3 2.7l1-2.7zM316.0 923.4l3.3 2.7l-3.3 2.7l1-2.7zM321.2 923.4l3.3 2.7l-3.3 2.7l1-2.7zM326.4 923.4l3.3 2.7l-3.3 2.7l1-2.7zM331.6 923.4l3.3 2.7l-3.3 2.7l1-2.7zM336.8 923.4l3.3 2.7l-3.3 2.7l1-2.7zM342.0 923.4l3.3 2.7l-3.3 2.7l1-2.7zM347.2 923.4l3.3 2.7l-3.3 2.7l1-2.7zM352.4 923.4l3.3 2.7l-3.3 2.7l1-2.7zM357.6 923.4l3.3 2.7l-3.3 2.7l1-2.7zM362.8 923.4l3.3 2.7l-3.3 2.7l1-2.7zM368.0 923.4l3.3 2.7l-3.3 2.7l1-2.7zM373.2 923.4l3.3 2.7l-3.3 2.7l1-2.7zM378.4 923.4l3.3 2.7l-3.3 2.7l1-2.7zM383.6 923.4l3.3 2.7l-3.3 2.7l1-2.7zM388.8 923.4l3.3 2.7l-3.3 2.7l1-2.7zM394.0 923.4l3.3 2.7l-3.3 2.7l1-2.7zM399.2 923.4l3.3 2.7l-3.3 2.7l1-2.7zM404.4 923.4l3.3 2.7l-3.3 2.7l1-2.7zM409.6 923.4l3.3 2.7l-3.3 2.7l1-2.7zM414.8 923.4l3.3 2.7l-3.3 2.7l1-2.7zM420.0 923.4l3.3 2.7l-3.3 2.7l1-2.7zM425.2 923.4l3.3 2.7l-3.3 2.7l1-2.7zM430.4 923.4l3.3 2.7l-3.3 2.7l1-2.7zM435.6 923.4l3.3 2.7l-3.3 2.7l1-2.7zM440.8 923.4l3.3 2.7l-3.3 2.7l1-2.7z"/>
<path d="M470.9 565.6h288.3M470.9 588.6h288.3M470.9 611.7h288.3M470.9 634.7h288.3M470.9 657.7h288.3M470.9 680.8h288.3M470.9 703.8h288.3M470.9 726.8h288.3M470.9 749.8h288.3M470.9 772.9h288.3M470.9 795.9h288.3M470.9 818.9h288.3M470.9 842.0h288.3M470.9 865.0h288.3" stroke="#cacaca" stroke-width="1.1" fill="none"/>
<path fill="#F8766D" d="M568.2 566.1l5.2-.9l4 .7l4.5-.3l5.7 .5zM594.6 566.1l3.3-.3l2.7 .3zM661.6 566.1l6.3-.5l5.5 .4l6-.2l5.2 .3zM702.2 566.1l7.2-.4l7.8 .4zM723.2 566.1l2.7-.3l3.3 .3z"/>
<path fill="#E38900" d="M490.6 589.2l4.3-.6l3-.7l3-.9l1.5-.1l6.5 1.6l4.7 .7zM519.6 589.2l.3-.2l3-.3l3.3 .5zM548.6 589.2l5.8-.8l5.5 .6l1.5-.2l1-.4l1-.6l1.5-1.7l1.5-2.2l1-1l.5 .1l1 .8l.5-.6l.5-1.6l2.5-10.5l.5-1.2l.5-.3l.5 1l1.5 6.1l1 3l1-1.9l1 .8l1-1.3l1.5-3.9l.5-.5l.5 .1l.5 .7l3.5 8.4l.5 .4l1-.7l.5 .2l.5 .4l2.5 4l1.5 1.6l1 .6l2.5-.6l1 0l4.7 1.2zM613.6 589.2l7.3-.6l7.3 .6zM641.2 589.2l11.2-.7l9 .4l6-.9l2 .1l5.5 .9l9.5-.5l11.2 .7zM698.2 589.2l4.2-.5l5-1.2l2.5-.3l1 0l5.5 1.4l4.2 .6zM722.2 589.2l3.7-.6l3.7 .6z"/>
<path fill="#C49A00" d="M492.2 612.2l7.7-1.1l2-.2l10.3 1.3zM519.2 612.2l9.2-.4l9.2 .4zM558.2 612.2l4.2-1l1.5-.1l3.5-2.1l1.5 .3l1.5-3l1.5-4.4l.5-1l1-.8l.5 .3l2.5 5.6l1-1.7l.5 .2l.5-.1l2.5-4.8l.5-.2l1.5 1.7l2.5 5.1l1 1.4l1-.6l.5 0l3 3.3l1 .8l1 .5l3.5-.9l5.8 1.5zM605.6 612.2l9.3-.4l9.3 .4zM660.2 612.2l7.7-1l5.5 .6l5.5-.4l7.7 .8zM687.2 612.2l5.7-.7l5.5 .6l2-.1l9.5-1.3l6.5 1l2-.3l1 0l3.2 .8z"/>
<path fill="#99A800" d="M490.6 635.2l4.8-.6l5-1.4l1.5-.2l1 .1l6 1.5l4.3 .6zM519.2 635.2l9.2-.4l9.2 .4zM561.6 635.2l2.3-.5l3-1.2l1-.1l1.5 .3l1.5-1.4l1-1.2l1-.7l.5-.1l1 .7l2.5 2.6l1-.3l2.5-1.8l1.5-.2l1 .3l3.5 2.2l1-.1l1 .1l4.8 1.4zM617.6 635.2l.3-.1l3-.4l3.3 .5zM636.2 635.2l7.7-.7l7.7 .7zM660.2 635.2l7.7-1l6 .8l10.5-.7l12.8 .9zM698.2 635.2l4.2-.5l7.5-1.5l1 .1l5.5 1.4l4.2 .5z"/>
<path fill="#53B400" d="M490.6 658.3l6.3-.4l6.3 .4zM530.6 658.3l3.8-.6l3.8 .6zM548.2 658.3l3.2-.5l3.8 .5zM563.6 658.3l6.3-1.2l1.5 .1l4.5 .8l5-.8l2 0l3-.5l1.5 .1l4.5 1.1l3-.5l4.3 .9zM611.6 658.3l.3-.2l3-.4l3.7 .6zM621.6 658.3l7.8-.8l8.2 .8zM640.6 658.3l9.3-1.2l8.7 1.2zM660.2 658.3l3.7-.5l5-1l2 0l5.5 1l4-.7l1.5-.1l4.5 .9l5-.5l6.2 .9zM700.6 658.3l8.8-.8l8.5 .6l.3 .2zM727.2 658.3l3.2-.5l3.2 .5z"/>
<path fill="#00BC56" d="M494.6 681.3l5.3-.3l5.3 .3zM518.2 681.3l10.2-.3l10.8 .3zM567.6 681.3l5.8-1.2l3.5 .8l5-.7l3.5 .5l2.5-.3l4 .7l4.5-.8l5.2 1zM614.2 681.3l6.7-.5l6.7 .5zM638.6 681.3l10.8-.6l10 .4l10-1l1.5 0l4.5 .5l5.5-.6l7.5 .8l4.5-.3l7 .6l3-.3l5-1.1l2-.2l6 1.2l3 .4l2 .1l5.5-.5l5.2 .6z"/>
<path fill="#00C094" d="M493.2 704.3l.2-.1l6.5-.4l6.7 .5zM567.6 704.3l5.3-1.5l1.5 .3l2.5 .7l4.5-.8l3.5 .5l2.5-.7l5 1.2l4-.7l5.2 1zM609.2 704.3l5.7-.7l5.7 .7zM642.2 704.3l7.2-.7l7.8 .7zM660.2 704.3l7.2-1l6 .7l6.5-.9l8 1l5-.5l5.7 .7zM700.6 704.3l8.8-.8l9.2 .8zM725.2 704.3l5.2-.3l5.2 .3z"/>
<path fill="#00BFC4" d="M489.2 727.4l4.2-.4l5.5 .2l5-.3l5.3 .5zM567.6 727.4l5.8-1.3l3.5 .8l5-.6l3 .5l3-.3l4.5 .6l4-.3l4.2 .6zM608.2 727.4l6.7-.5l6.7 .5zM646.2 727.4l3.2-.6l3.8 .6zM658.6 727.4l11.3-1.3l5.5 .6l4-.2l7.2 .9zM699.2 727.4l10.2-1.5l10.8 1.5zM722.6 727.4l3.3-.5l3.7 .5z"/>
<path fill="#00B6EB" d="M482.6 750.4l3.8-.8l2.5 .2l2.5-.4l3.5 .8l5-.8l4.7 1zM522.2 750.4l4.7-.9l5.3 .9zM561.6 750.4l4.3-1.2l3 .7l4.5-1.5l3.5 1.3l3.5-1.1l1.5-.2l3.5 .9l2-.6l.5 0l3 1.1l1.5 .2l4-.8l5.2 1.2zM605.6 750.4l3.8-.7l3.8 .7zM613.6 750.4l2.8-.5l2.8 .5zM643.2 750.4l3.7-.6l3 .4l.3 .2zM658.2 750.4l2.2-.5l3.5-1l3 .6l2-.8l1-.1l1 .2l2 .9l2 .5l1.5-.1l3.5-.9l4.3 1.2zM687.6 750.4l3.8-.8l4.2 .8zM696.2 750.4l4.7-1.2l1-.1l1.5 .2l3-.9l3.5-.9l5 1.5l1.5-.1l4.5 1.3l1.5 0l3.5-.7l4.3 .9z"/>
<path fill="#06A4FF" d="M492.2 773.4l9.7-1.2l9.7 1.2zM520.6 773.4l7.8-.8l8.2 .8zM562.2 773.4l5.2-1.1l2 .2l.5-.1l2.5-1.4l1-.1l3.5 1.6l3.5-1.3l1.5-.3l4 1.5l2.5-.2l4 1l4-.6l4.8 .8zM615.2 773.4l5.7-.6l5.5 .5l4.5-.6l4.7 .7zM660.2 773.4l7.7-1l7.7 1zM680.2 773.4l6.7-.5l7.3 .5zM699.6 773.4l9.8-1.2l10.2 1.2z"/>
<path fill="#A58AFF" d="M492.2 796.5l7.7-1.1l2.5-.1l9.8 1.2zM520.6 796.5l7.8-.3l7.5 .1l.3 .2zM568.2 796.5l4.7-1l4 .5l4.5-.8l5 .8l3-.1l5.2 .6zM623.2 796.5l6.2-.4l6.2 .4zM661.6 796.5l5.3-.6l5 .4l.3 .2zM682.2 796.5l4.7-.5l5.3 .5zM699.2 796.5l11.2-.6l10.8 .6z"/>
<path fill="#DF70F8" d="M480.2 819.5l9.2-.6l5.5 0l7-1.4l2 .2l5 1.2l4.3 .6zM552.2 819.5l5.2-.5l4.5 .3l2-.4l3.5-1.2l2 .1l1.5-1.5l1.5-2l.5-.3l.5 .1l1 .7l1.5 1.4l.5 0l1-.6l1.5 .5l2-1.2l.5-.2l.5 0l3.5 2.4l1.5-.6l1-.1l3.5 2l2.5 .4l2-.3l1 0l4.7 1zM610.6 819.5l10.3-.5l10.3 .5zM633.6 819.5l.3-.1l10-.4l10.3 .5zM660.2 819.5l7.7-1l7 .8l12-.7l12 .7l3.5-.3l6-1.4l1.5-.1l1.5 .2l5 1.2l3.5 .4l6.5-.3l6.5 .4l3.5-.3l2.8 .4z"/>
<path fill="#FB61D7" d="M483.6 842.5l3.3-.8l3.3 .8zM504.2 842.5l4.2-.8l3.5 .6l1.5 0l2.5-.4l2.5-.7l2-.2l4 1l2 .3l4.5-.7l1 0l4.7 .9zM552.2 842.5l5.2-1.3l5.2 1.3zM566.2 842.5l2.7-.5l3 .4l4-1.1l3 .7l3-.7l4.3 1.2zM619.6 842.5l2.8-.4l2.2 .4zM627.2 842.5l2.2-.4l2.8 .4zM644.2 842.5l2.7-.4l2.3 .4zM653.2 842.5l.2-.1l2-.3l2 .2l.2 .2zM664.2 842.5l2.7-.5l2 .2l1.5-.1l6.5-1.4l7 1.4l1 0l2.5-.3l3.8 .7zM696.2 842.5l3.7-.8l3 .5l1 0l6.5-1.2l8.2 1.5zM720.2 842.5l4.2-1l1 .1l3.2 .9zM731.6 842.5l.3-.2l1.5-.2l1.8 .4zM743.6 842.5l1.3-.4l1.3 .4z"/>
<path fill="#FF66A8" d="M494.6 865.5l5.3-.2l5.3 .2zM551.2 865.5l5.7-.3l5.5 .2l1.5-.3l3-.8l2 .1l1-.6l2.5-2.3l.5-.4l.5-.1l1 .6l2.5 2.3l.5 0l1.5-.6l1 0l1.5-.5l1.5 .3l2.5 1.2l2.5-.5l3.5 1l2 .4l3-.3l4.2 .6zM608.2 865.5l6.7-.4l6.7 .4zM653.2 865.5l7.2-.7l3.5 .1l4.5-.5l4.5 .7l8.5-.6l7.5 .6l4.5-.3l7 .6l9.5-.8l9.3 .9z"/>
<path d="M484 926.1H745.3" stroke="#3434ac" stroke-width="1" fill="none"/>
<path fill="#12128f" d="M487.4 923.4l-3.3 2.7l3.3 2.7l-1-2.7zM492.6 923.4l-3.3 2.7l3.3 2.7l-1-2.7zM497.8 923.4l-3.3 2.7l3.3 2.7l-1-2.7zM503.0 923.4l-3.3 2.7l3.3 2.7l-1-2.7zM508.2 923.4l-3.3 2.7l3.3 2.7l-1-2.7zM513.4 923.4l-3.3 2.7l3.3 2.7l-1-2.7zM518.6 923.4l-3.3 2.7l3.3 2.7l-1-2.7zM523.8 923.4l-3.3 2.7l3.3 2.7l-1-2.7zM529.0 923.4l-3.3 2.7l3.3 2.7l-1-2.7zM534.2 923.4l-3.3 2.7l3.3 2.7l-1-2.7zM539.4 923.4l-3.3 2.7l3.3 2.7l-1-2.7zM544.6 923.4l-3.3 2.7l3.3 2.7l-1-2.7zM549.8 923.4l-3.3 2.7l3.3 2.7l-1-2.7zM555.0 923.4l-3.3 2.7l3.3 2.7l-1-2.7zM560.2 923.4l-3.3 2.7l3.3 2.7l-1-2.7zM565.4 923.4l-3.3 2.7l3.3 2.7l-1-2.7zM570.6 923.4l-3.3 2.7l3.3 2.7l-1-2.7zM575.8 923.4l-3.3 2.7l3.3 2.7l-1-2.7zM581.0 923.4l-3.3 2.7l3.3 2.7l-1-2.7zM586.2 923.4l-3.3 2.7l3.3 2.7l-1-2.7zM591.4 923.4l-3.3 2.7l3.3 2.7l-1-2.7zM596.6 923.4l-3.3 2.7l3.3 2.7l-1-2.7zM601.8 923.4l-3.3 2.7l3.3 2.7l-1-2.7zM607.0 923.4l-3.3 2.7l3.3 2.7l-1-2.7zM612.2 923.4l-3.3 2.7l3.3 2.7l-1-2.7zM617.4 923.4l-3.3 2.7l3.3 2.7l-1-2.7zM622.6 923.4l-3.3 2.7l3.3 2.7l-1-2.7zM627.8 923.4l-3.3 2.7l3.3 2.7l-1-2.7zM633.0 923.4l-3.3 2.7l3.3 2.7l-1-2.7zM638.2 923.4l-3.3 2.7l3.3 2.7l-1-2.7zM643.4 923.4l-3.3 2.7l3.3 2.7l-1-2.7zM648.6 923.4l-3.3 2.7l3.3 2.7l-1-2.7zM653.8 923.4l-3.3 2.7l3.3 2.7l-1-2.7zM659.0 923.4l-3.3 2.7l3.3 2.7l-1-2.7zM664.2 923.4l-3.3 2.7l3.3 2.7l-1-2.7zM669.4 923.4l-3.3 2.7l3.3 2.7l-1-2.7zM674.6 923.4l-3.3 2.7l3.3 2.7l-1-2.7zM679.8 923.4l-3.3 2.7l3.3 2.7l-1-2.7zM685.0 923.4l-3.3 2.7l3.3 2.7l-1-2.7zM690.2 923.4l-3.3 2.7l3.3 2.7l-1-2.7zM695.4 923.4l-3.3 2.7l3.3 2.7l-1-2.7zM700.6 923.4l-3.3 2.7l3.3 2.7l-1-2.7zM705.8 923.4l-3.3 2.7l3.3 2.7l-1-2.7zM711.0 923.4l-3.3 2.7l3.3 2.7l-1-2.7zM716.2 923.4l-3.3 2.7l3.3 2.7l-1-2.7zM721.4 923.4l-3.3 2.7l3.3 2.7l-1-2.7zM726.6 923.4l-3.3 2.7l3.3 2.7l-1-2.7zM731.8 923.4l-3.3 2.7l3.3 2.7l-1-2.7zM737.0 923.4l-3.3 2.7l3.3 2.7l-1-2.7zM742.2 923.4l-3.3 2.7l3.3 2.7l-1-2.7z"/>
<path fill="#0a0a8c" d="M558.3 921.5h4.6v9.2h-4.6zM577.2 921.9h1.0v8.4h-1.0zM623.3 921.5h4.8v9.2h-4.8z"/>
<path d="M772.7 565.6h288.1M772.7 588.6h288.1M772.7 611.7h288.1M772.7 634.7h288.1M772.7 657.7h288.1M772.7 680.8h288.1M772.7 703.8h288.1M772.7 726.8h288.1M772.7 749.8h288.1M772.7 772.9h288.1M772.7 795.9h288.1M772.7 818.9h288.1M772.7 842.0h288.1M772.7 865.0h288.1" stroke="#cccccc" stroke-width="1.1" fill="none"/>
<path fill="#F8766D" d="M802 566.1l2.2-.2l2.8 .2zM992.4 566.1l.3-.1l4.5-.1l5 .1l.2 .1z"/>
<path fill="#E38900" d="M793 589.2l16.7-1.6l16.3 1.6zM902.4 589.2l4.8-.6l7-1.3l7 1.3l4.8 .6zM928 589.2l8.7-.5l6.5 .3l2.5-.2l2.5 .2l.2 .2zM968.4 589.2l.3-.2l5-.2l6.5 0l12.5-1.1l16.3 1.5zM1018 589.2l5.2-.3l5.2 .3z"/>
<path fill="#C49A00" d="M786.4 612.2l.3-.2l2-.4l7 .1l1.5-1l3-4.9l3.5-8.3l1.5-2.8l.5-.5l1.5-.1l.5-.3l1-1.5l.5 .1l1 1.2l1-.9l1 0l1.5 2.7l1.5 1.5l4.5 6.4l3.5 2.8l5.5 3.8l3 1.3l7 .2l2.7 .8zM868 612.2l2.7-1l4.5-.9l4 .4l3 .8l11.5 .3l10-.2l2-1.8l3.5-5.2l3.5-4.7l.5-.3l1.5 .6l.5 0l1.5-1l1 1.3l2.5 4.7l3 3.7l2 2.1l2 .8l.5-.1l1.5-1.1l4.5-7.7l1-1.1l.5 .1l1 .7l3.5 1.4l3 2.8l2 0l3 2.9l2 1.4l7.5 .1l4 .5l7.5-1l5.5 .3l4-1.1l5-2.8l2.5-2.9l4.5-4.2l.5 .1l1 .5l1.5 .3l2-.9l3 3.8l4 3.3l5 3.2l2 .9l8.5-.3l14.5 .9l14 .2l1.2 .2z"/>
<path fill="#99A800" d="M799.4 635.2l9.3-.4l9.3 .4zM906 635.2l7.7-.8l8.3 .8zM931 635.2l4.7-.4l4.3 .4zM980 635.2l12.7-1l12.7 1zM1018 635.2l5.2-.3l5.2 .3z"/>
<path fill="#53B400" d="M791 658.3l6.7-.8l3.5-.8l3-.9l3-.4l2.5 .4l3.5 .9l4.5 .9l5-.1l10.7 .8zM905.4 658.3l8.8-.6l8.8 .6zM930 658.3l6.7-.3l6 .1l.3 .2zM981 658.3l.2-.2l11.5-.3l11.7 .5zM1009 658.3l11.7-.7l11.3 .7z"/>
<path fill="#00BC56" d="M783.4 681.3l8.8-.5l3-.5l4-1.2l3.5-1.8l3.5-.8l2.5 .6l1.5 .6l2-.7l2.5 .2l2.5 1.5l2.5 1l3.5 .9l5-.3l7.8 1zM865.4 681.3l9.3-1l9.3 1zM903 681.3l10.7-1.5l1.5 .1l6 .9l4 .4l3.5-.2l5.5-.7l3-.2l8.5 .9l6-.1l7.5 .2l11.5-.8l5 .2l4-.3l5.5 .4l2.5-.6l3-1.2l2.5-.6l2.5 .6l2 .9l3 .8l3.5 0l6.5 .4l9.5-.2l14 .4l7-.2l8.8 .4z"/>
<path fill="#00C094" d="M787.4 704.3l4.8-.5l3-.5l5.5-1.9l3.5-.9l3.5 .7l5.5 1.8l3.5 0l10 1l6.5 .1l4.8 .2zM865 704.3l9.2-1.2l10.2 1.2zM903.4 704.3l10.3-1.2l11.5 1.1l11.5-.9l10.7 1zM948.4 704.3l5.3-.6l6 .5l11-.7l6 .3l6.5-.4l6.5 .4l6-.9l9.7 1.4zM1009.4 704.3l11.3-.6l10.7 .6zM1038.4 704.3l.3-.1l5-.2l5.3 .3z"/>
<path fill="#00BFC4" d="M787.4 727.4l6.3-.9l3.5-.9l3.5-1.3l1.5-.1l1-.3l3 .6l1.5 .4l2.5-.6l2.5 .1l1.5 .3l4 1.5l3.5 .7l4.5-.2l7.2 .7zM863.4 727.4l4.3-.6l4.5-1.1l2-.3l2 .1l5 1.2l4.8 .7zM911.4 727.4l5.3-.3l5.3 .3zM929 727.4l5.2-.5l4.8 .5zM967.4 727.4l6.8-.5l6 .2l12.5-.7l15.3 1zM1008.4 727.4l12.3-.7l11.3 .7z"/>
<path fill="#00B6EB" d="M794.4 750.4l6.8-1.5l7 1.3l6.5-.8l6.3 1zM831 750.4l5.2-.5l4.5 .3l.3 .2zM845.4 750.4l5.3-.5l4.7 .5zM872 750.4l5.7-.8l6.3 .8zM909 750.4l4.7-1l5 .8l4-.3l3.7 .5zM935 750.4l.2-.2l4.5-.3l5.3 .5zM955 750.4l5.2-.5l4.8 .5zM970.4 750.4l2.3-1l.5 0l2 .7l2-.7l2 .5l3.5-.5l4.5 .6l2-.4l3-.9l2-.3l5.5 1.4l3.3 .6z"/>
<path fill="#06A4FF" d="M795 773.4l7.7-.8l6 .5l4.5-.5l5.8 .8zM822.4 773.4l7.8-.3l7.5 .2l.3 .1zM865.4 773.4l9.3-1l9.5 .9l10-.3l8.8 .4zM906.4 773.4l3.3-.5l5.5-1.3l1 .1l4.5 1.2l3.7 .5zM926.4 773.4l10.3-.8l8.5 .6l7-.1l6.8 .3zM976.4 773.4l8.8-1.5l1.5 0l3.5 .6l5.5-.9l2.5 .2l5.5 1.1l4.5 .4l18.5-.4l16.3 .5z"/>
<path fill="#A58AFF" d="M795 796.5l12.2-.4l12.2 .4zM868.4 796.5l5.3-.3l5.3 .3zM906 796.5l8.2-.5l8.2 .5zM934.4 796.5l5.3-.3l5.3 .3zM980 796.5l12.7-.6l12 .4l.3 .2z"/>
<path fill="#DF70F8" d="M796 819.5l12.7-1l16.3 1zM865.4 819.5l9.3-1l9.3 1zM907 819.5l7.2-.4l7.2 .4zM982.4 819.5l9.3-.6l9.3 .6z"/>
<path fill="#FB61D7" d="M803 842.5l4.7-1l5.3 1zM929.4 842.5l.3-.1l2.5-.4l2.5 .1l2-.6l2.5 .6l2.5-.1l2.3 .5z"/>
<path fill="#FF66A8" d="M804.4 865.5l5.8-.1l5.2 .1zM905.4 865.5l5.8-.1l5.2 .1zM992 865.5l.2-.1l11-.1l11.2 .2z"/>
<path d="M785.4 926.1H1047.7" stroke="#3434ac" stroke-width="1" fill="none"/>
<path fill="#12128f" d="M788.8 923.4l-3.3 2.7l3.3 2.7l-1-2.7zM794.0 923.4l-3.3 2.7l3.3 2.7l-1-2.7zM799.2 923.4l-3.3 2.7l3.3 2.7l-1-2.7zM804.4 923.4l-3.3 2.7l3.3 2.7l-1-2.7zM809.6 923.4l-3.3 2.7l3.3 2.7l-1-2.7zM814.8 923.4l-3.3 2.7l3.3 2.7l-1-2.7zM820.0 923.4l-3.3 2.7l3.3 2.7l-1-2.7zM825.2 923.4l-3.3 2.7l3.3 2.7l-1-2.7zM830.4 923.4l-3.3 2.7l3.3 2.7l-1-2.7zM835.6 923.4l-3.3 2.7l3.3 2.7l-1-2.7zM840.8 923.4l-3.3 2.7l3.3 2.7l-1-2.7zM846.0 923.4l-3.3 2.7l3.3 2.7l-1-2.7zM851.2 923.4l-3.3 2.7l3.3 2.7l-1-2.7zM856.4 923.4l-3.3 2.7l3.3 2.7l-1-2.7zM861.6 923.4l-3.3 2.7l3.3 2.7l-1-2.7zM866.8 923.4l-3.3 2.7l3.3 2.7l-1-2.7zM872.0 923.4l-3.3 2.7l3.3 2.7l-1-2.7zM877.2 923.4l-3.3 2.7l3.3 2.7l-1-2.7zM882.4 923.4l-3.3 2.7l3.3 2.7l-1-2.7zM887.6 923.4l-3.3 2.7l3.3 2.7l-1-2.7zM892.8 923.4l-3.3 2.7l3.3 2.7l-1-2.7zM898.0 923.4l-3.3 2.7l3.3 2.7l-1-2.7zM903.2 923.4l-3.3 2.7l3.3 2.7l-1-2.7zM908.4 923.4l-3.3 2.7l3.3 2.7l-1-2.7zM913.6 923.4l-3.3 2.7l3.3 2.7l-1-2.7zM918.8 923.4l-3.3 2.7l3.3 2.7l-1-2.7zM924.0 923.4l-3.3 2.7l3.3 2.7l-1-2.7zM929.2 923.4l-3.3 2.7l3.3 2.7l-1-2.7zM934.4 923.4l-3.3 2.7l3.3 2.7l-1-2.7zM939.6 923.4l-3.3 2.7l3.3 2.7l-1-2.7zM944.8 923.4l-3.3 2.7l3.3 2.7l-1-2.7zM950.0 923.4l-3.3 2.7l3.3 2.7l-1-2.7zM955.2 923.4l-3.3 2.7l3.3 2.7l-1-2.7zM960.4 923.4l-3.3 2.7l3.3 2.7l-1-2.7zM965.6 923.4l-3.3 2.7l3.3 2.7l-1-2.7zM970.8 923.4l-3.3 2.7l3.3 2.7l-1-2.7zM976.0 923.4l-3.3 2.7l3.3 2.7l-1-2.7zM981.2 923.4l-3.3 2.7l3.3 2.7l-1-2.7zM986.4 923.4l-3.3 2.7l3.3 2.7l-1-2.7zM991.6 923.4l-3.3 2.7l3.3 2.7l-1-2.7zM996.8 923.4l-3.3 2.7l3.3 2.7l-1-2.7zM1002.0 923.4l-3.3 2.7l3.3 2.7l-1-2.7zM1007.2 923.4l-3.3 2.7l3.3 2.7l-1-2.7zM1012.4 923.4l-3.3 2.7l3.3 2.7l-1-2.7zM1017.6 923.4l-3.3 2.7l3.3 2.7l-1-2.7zM1022.8 923.4l-3.3 2.7l3.3 2.7l-1-2.7zM1028.0 923.4l-3.3 2.7l3.3 2.7l-1-2.7zM1033.2 923.4l-3.3 2.7l3.3 2.7l-1-2.7zM1038.4 923.4l-3.3 2.7l3.3 2.7l-1-2.7zM1043.6 923.4l-3.3 2.7l3.3 2.7l-1-2.7zM1048.8 923.4l-3.3 2.7l3.3 2.7l-1-2.7z"/>
<path d="M1074.6 566.1h296.6M1074.6 589.1h296.6M1074.6 612.2h296.6M1074.6 635.2h296.6M1074.6 658.3h296.6M1074.6 681.3h296.6M1074.6 704.3h296.6M1074.6 727.4h296.6M1074.6 750.4h296.6M1074.6 773.4h296.6M1074.6 796.5h296.6M1074.6 819.5h296.6M1074.6 842.6h296.6M1074.6 865.6h296.6" stroke="#a4a4a4" stroke-width="1.1" fill="none"/>
<path fill="#F8766D" d="M1162.8 566.6l13.8-.3l10 0l17-.6l21.2 .9zM1237.4 566.6l15.2-.5l14.8 .5zM1324.8 566.6l10.8-.2l10.8 .2z"/>
<path fill="#E38900" d="M1099.8 589.7l11.3-.7l20.5-.2l26-1l6.5-1.4l8.5-1.2l7 .1l3.5 .3l.5 0l3.5-1.3l4 .2l4.5-1.8l1 0l2.5-.8l3-.6l1 .1l1.5 1l2 0l1-.3l2.5 .4l2.5 .8l1 .6l1 .1l2.5 .9l1 .5l2 .7l7 2.1l8.5 .5l8-1.3l7.5-.7l7.5 .5l8 1.7l6.2 .8zM1316.4 589.7l.2-.2l8.5-.7l10-.6l9 .2l13.7 1.3z"/>
<path fill="#C49A00" d="M1103.4 612.7l7.7-.2l46.5-.5l15.5-.9l10.5-.1l4-.7l4 0l4-1l7-1.1l.5 .1l1.5 .7l2.5-.3l3.5 .2l16.5 3l8.5 .3l7.5-.8l8-.5l8.5 .5l12.2 1.3zM1317.4 612.7l17.2-.8l9.5 .1l12.3 .7z"/>
<path fill="#99A800" d="M1098.8 635.8l12.8-1.1l20-.3l15-1.3l10-1.2l1.5-.4l4-2.6l5-2.4l2-1.1l1-.9l1.5-.5l1-.7l1-.2l1 .1l1 .4l1-.1l1.5 .2l2.5 .9l3 .6l1.5-1l2.5-1.1l1 .4l1-.1l1.5 .4l.5-.1l1.5-.9l2.5-2.1l2-.7l1-.6l1 .3l3-1.4l.5 .2l1 2l.5 .6l1.5-.2l1 .1l1-.6l.5 0l.5 .4l1 1.2l1.5 .8l1 .2l7.5 6.2l1 .4l4.5 2.8l1.5 .7l3 .4l5.5 .6l7.5-2l8.5-1.1l7.5 .8l7.5 2.6l6.5 1.2l43 0l9.5-1.6l8.5-1.1l1.5 0l9 .5l14.2 2.4z"/>
<path fill="#53B400" d="M1151.4 658.8l21.7-1l21 .8l18-1l17.7 1.2zM1233.4 658.8l19.2-1.3l18.8 1.3zM1312.8 658.8l13.8-.5l14.2 .5z"/>
<path fill="#00BC56" d="M1151.4 681.8l21.7-1l18 .8l5.5-.4l9-1.1l3.5-.1l10.5 1.2l8.8 .6zM1231.8 681.8l8.8-.6l10-1.1l2 0l3.5 .2l9 1l7.7 .5zM1323.8 681.8l.3-.1l12-.3l12.7 .4z"/>
<path fill="#00C094" d="M1151.4 704.9l20.7-1l14.5 .5l15.5-.8l23.7 1.3zM1234.8 704.9l17.8-1l17.2 1zM1322.4 704.9l13.7-.5l13.5 .4l.2 .1z"/>
<path fill="#00BFC4" d="M1152.8 727.9l20.3-.8l15 .5l13.5-.9l2 0l16.8 1.2zM1234.4 727.9l18.2-1.2l18.2 1.2zM1319.8 727.9l16.3-.8l16.7 .8z"/>
<path fill="#00B6EB" d="M1112.4 751l15.7-.4l15.7 .4zM1151.4 751l21.7-1l15 .6l9-1.2l3-.1l5 .5l3-.8l2-.1l5.5 1.4l4.2 .7zM1231.8 751l8.8-.7l11-1.4l2.5 .1l10.5 1.3l8.8 .7zM1318.8 751l17.3-1l13 .6l5-.1l6.3 .5z"/>
<path fill="#06A4FF" d="M1099.4 774l12.2-.8l20-.2l14-1l11-1.2l1.5-.3l1.5-.6l4.5-2.5l1.5-.5l1.5-.9l1-.1l3-1.8l2.5-1l2-.1l1 .3l4.5 .4l2.5 .6l2.5-2.2l1-.5l2.5 0l1 .5l.5 0l1.5-1.3l1-1.2l1-.3l1.5-1.7l2.5-1l1-.6l2-.7l1-.8l.5 0l1.5 2.8l1-.2l2-1.4l1-.1l.5 .3l1 1.5l1 .3l1.5 1l.5 .1l4 3.7l1 .6l6.5 5.5l2 1.3l.5 .3l5 .9l3.5 .3l6.5-3.1l3.5-1.2l1.5-.5l1 0l3-1.3l2.5 .9l1.5 .1l2.5 .8l2.5 1l6.5 3.8l6 1.8l43.5 .1l9.5-1.1l9-.7l9.5 .2l14.3 1.8z"/>
<path fill="#A58AFF" d="M1098.8 797l12.8-1.2l21-.3l10-.9l15-1.8l7-4.1l4-1.9l2-1.2l.5-.4l1-.4l1.5-.8l2 .7l1 .1l1-.3l.5 .3l1-.1l1.5 .9l2 .1l1 .4l3.5-2.7l1 .1l1 .2l1-.1l1 .5l.5-.1l2-1.6l2.5-2.6l3-1.3l1 0l2.5-1.6l.5 .3l1.5 2.4l.5-.3l2.5-.8l.5 0l1 .6l1 0l1 1.2l2 1.1l1.5 1.2l2 2.1l1.5 1.1l2 2l3 2.4l1 .5l2 1.8l1 .6l2 .4l6.5 .7l7.5-3.6l1.5-.3l2-.9l1 0l1-.6l1.5-.3l1-.5l1.5 .2l6 1.8l2 .9l1 .9l2 1l3 1.9l6.5 2l43 .1l9.5-1.8l9-1.2l9.5 .5l14.7 2.7z"/>
<path fill="#DF70F8" d="M1099.4 820.1l12.2-.8l20.5-.3l12.5-.7l13-1.2l8.5-3.1l2-.8l1-.7l1 0l1-.5l2.5-.8l2 .2l1 .3l1-.1l6 1l4-1.9l1 .5l2 0l1 .2l1.5-1l1-.3l2-1.4l3.5-.5l1-.7l1 .1l1-.5l.5 0l1.5 2l1-.4l3-.2l1.5 .3l1.5 1.2l1.5 .5l3 2l1 .3l3 2l7 3.1l5.5 .5l3 .2l8.5-2l7-1l7.5 .8l8 2.4l6.5 1.1l43 0l18.5-1.9l8.5 .3l15.3 1.8z"/>
<path fill="#FB61D7" d="M1111.8 843.1l.3-.1l10-.4l10.3 .5zM1145.8 843.1l17.8-1l17.8 1zM1188.4 843.1l17.2-1.3l15.8 1.3zM1237.4 843.1l12.2-.8l12.2 .8zM1327.8 843.1l1.8-.5l1.8 .5zM1337.8 843.1l5.3-.5l5.3 .5z"/>
<path fill="#FF66A8" d="M1146.4 866.1l21.7-1.1l6.5 .1l10 .6l8-.6l6.5-.8l4.5-.1l3 .1l12 1.2l10.8 .6zM1233.8 866.1l18.8-1.2l18.2 1.2zM1324.8 866.1l10.8-.2l10.8 .2z"/>
<path d="M1381.2 565.5h285.7M1381.2 588.3h285.7M1381.2 611.1h285.7M1381.2 633.9h285.7M1381.2 656.6h285.7M1381.2 679.4h285.7M1381.2 702.2h285.7M1381.2 725.0h285.7M1381.2 747.8h285.7M1381.2 770.6h285.7M1381.2 793.3h285.7M1381.2 816.1h285.7M1381.2 838.9h285.7M1381.2 861.7h285.7" stroke="#c4c4c4" stroke-width="1.1" fill="none"/>
<path fill="#F8766D" d="M1506 566l18.2-.1l18.2 .1z"/>
<path fill="#E38900" d="M1488.4 588.8l24.3-.4l24.3 .4z"/>
<path fill="#C49A00" d="M1511.4 611.6l18.3-.4l18.3 .4z"/>
<path fill="#99A800" d="M1513 634.4l11.2-.1l11.2 .1z"/>
<path fill="#53B400" d="M1394 657.2l.7-.9l.5-.3l1-.1l7-.3l7 .3l27.5-.5l12-1.2l8.5-2.1l2-1l2.5-.8l2.5 0l4-.8l1.5-.7l6-1.9l1-.6l1.5-.3l1-.6l.5-.1l1-.6l1 .1l2.5-.6l2-.9l1-1.3l.5-.2l2-.3l2 .2l1 .4l.5-.2l1.5-1.6l1.5-.2l1 .5l2.5 .5l1-.7l1-.3l1-.1l2-1.1l1 .1l4-1.2l1 .2l1.5 .7l1-.6l1 .7l.5-.1l1.5 .7l1.5-.5l1.5 1l.5 0l1-.6l1 .4l.5 0l2-.7l.5 0l1.5 1.2l.5-.2l2-2l1 .5l1.5-1.6l1.5-.4l1 .3l1.5-.1l1 .9l.5 0l.5 .3l.5 0l1-.9l.5 0l.5 .3l1 .2l.5 .3l1 .1l1.5 .9l1-.2l1.5 1.2l.5 .7l.5 .3l.5 0l1.5 1.3l3.5 2.2l3 2.1l2.5 2.2l4.5 2.2l2 .7l3 1.5l3.5 1.4l11.5 .3l14.5 .9l9.5-.7l10.5-.4l11.5 .9l8.5 .9l14 .5l1 .2l.2 .2z"/>
<path fill="#00BC56" d="M1503 680l26.7-.5l26.7 .5z"/>
<path fill="#00C094" d="M1486 702.8l38.2-.7l37.8 .7z"/>
<path fill="#00BFC4" d="M1488 725.5l36.2-.6l35.8 .6z"/>
<path fill="#00B6EB" d="M1444 748.3l22.7-.5l6-1l11.5 .2l8.5-.7l8 .2l6-.9l8.5 .2l5.5-.6l9-.3l8.5 .9l8.5-.2l7 1.1l16 1.3l6.7 .3zM1589.4 748.3l9.3-.5l16.5 .2l3.8 .3z"/>
<path fill="#06A4FF" d="M1441 771.1l25.7-.3l26.7 .3zM1505 771.1l24.7-.4l24.3 .4z"/>
<path fill="#FB61D7" d="M1403.4 839.5l20.8-.3l20 .1l.2 .2z"/>
<path fill="#FF66A8" d="M1479 862.2l30.7-.2l31.3 .2z"/>
<path d="M1681.3 565.5h285.6M1681.3 588.3h285.6M1681.3 611.1h285.6M1681.3 633.9h285.6M1681.3 656.6h285.6M1681.3 679.4h285.6M1681.3 702.2h285.6M1681.3 725.0h285.6M1681.3 747.8h285.6M1681.3 770.6h285.6M1681.3 793.3h285.6M1681.3 816.1h285.6M1681.3 838.9h285.6M1681.3 861.7h285.6" stroke="#c4c4c4" stroke-width="1.1" fill="none"/>
<path fill="#F8766D" d="M1696.6 566l13.2-1.2l4 .1l8.5-2l1.5 0l5 .9l1-.4l1 .3l2-.5l2.5-1.1l2-.2l2 .8l1 0l1.5 .9l1 .2l2-.1l2.5 .7l5-.5l6.5 1l2.5-.3l3.5 .4l4-.9l2-.1l6.5 1.2l3.5-.7l2-.2l5.5 1.2l3.7 .5zM1817 566l3.8-.7l1.5-.4l2.5-1.2l2-.4l2 .5l2.5 1.1l2.5 .6l5-.2l6 .3l8-.5l9 .6l6.5-.7l6 .7l7.5-.3l10.8 .6zM1895.6 566l7.2-.4l6.8 .4zM1922 566l7.8-.2l7.8 .2z"/>
<path fill="#E38900" d="M1693.6 588.8l11.7-1.2l5 0l4.5-1.5l1.5-.2l4.5-2l1.5-.2l2.5 .4l2 1l2 .4l1-.2l2 .6l2-.4l1.5-.7l2 0l2 .3l3 1.4l1.5-.3l3 .7l5.5-.6l1.5 .1l5 1l2.5-.3l2.5 .4l2.5-.5l3-1.1l1-.1l1.5 .1l2.5 .8l4 1.1l3-.6l2.5 0l4 1l4.2 .6zM1817.6 588.8l3.7-.7l4.5-1.5l1-.1l2 .4l2 .8l2 .5l3-.4l3.5 .8l10.5-.7l11 .7l7.5-.8l6.5 .7l4.5-.5l4.5 .6l3.5-.4l3.3 .6zM1894.6 588.8l8.2-.8l7.8 .8zM1918 588.8l.3-.1l3-.4l3.3 .5zM1928.6 588.8l4.7-1l5.3 1z"/>
<path fill="#C49A00" d="M1693 611.6l4.3-.3l5.5 0l3-.3l6.5-1.3l2.5 .1l3.5-1.2l4.5-1.1l3 .7l4.5 1.5l2.5-.8l2.5-1.2l1.5-.3l6 2l1-.4l2-.2l3 .9l1-.2l2.5 0l7 1.1l4.5-.4l11.5 1.1l7-.9l8.7 1.2zM1820.6 611.6l6.2-.5l5.8 .5zM1844.6 611.6l2.2-.3l2.8 .3zM1853 611.6l7.3-.8l4 .1l4-.4l6.5 .8l4.5-.4l5.7 .7zM1896 611.6l3.8-.6l3.8 .6zM1906.6 611.6l3.2-.4l3.2 .4zM1928.6 611.6l4.7-.9l5.3 .9zM1941 611.6l3.3-.4l2.7 .4z"/>
<path fill="#99A800" d="M1695 634.4l4.8-.4l4-.1l7.5-.9l3.5 .1l3.5-1l4-.8l2.5 .2l3.5 .7l2.5-.1l1.5 .5l1.5-.5l3.5-.3l6.5 1.6l3-.4l4 .5l5-.7l7 1.2l7-1l4.5 .6l3.5-.8l2.5-.3l5 1.2l4.3 .7zM1836 634.4l.3-.2l2-.1l2.7 .3zM1853 634.4l5.3-.6l6 .4l2-.4l3.5-1.2l1 .2l2 .8l2 .6l6.5-.5l7 .6l.3 .1zM1894.6 634.4l.2-.2l3.5-.3l4 .4l4.5-.6l4.8 .7zM1930 634.4l2.8-.3l2.2 .3z"/>
<path fill="#53B400" d="M1698 657.2l3.3-.4l3.3 .4zM1705 657.2l8.3-1.2l1.5 0l3-.6l2.5-.8l3-.3l7.5 1.4l4.5-.8l2-.1l5 1.2l2.5 .4l7-.5l7.5 .6l5-.6l5.5 .8l2-.6l2.5-1.1l2-.2l3 1.2l1.5-.2l1 .1l4 1l4-.7l4.2 1zM1824.6 657.2l2.2-.3l2.8 .3zM1846.6 657.2l3.2-.8l3.2 .8zM1861.6 657.2l2.2-.5l3 .4l1-.1l5-1.1l4 1l3.5-.9l1-.1l5.3 1.3zM1896 657.2l4.3-1.1l1-.1l5 1l3.5-.2l3.2 .4zM1923 657.2l2.3-.4l2.7 .4zM1928.6 657.2l4.2-.8l3.8 .8zM1940 657.2l2.8-.4l2.2 .4z"/>
<path fill="#00BC56" d="M1696 680l2.3-.8l7.5-1.6l4-1.9l4-.5l4.5-.2l4.5-1.8l1.5-.8l1.5-1l3-1.3l.5-.1l1 .2l1 0l2-1.4l1-.9l1-1.8l1-1.1l2-2.9l1-.7l.5-.7l.5-.1l1 1.2l1 .1l1 1.4l.5 .2l1-.8l1.5-.3l1 1l1 .4l1.5 1.3l1 .3l3 3.3l1.5 2.1l1.5 1.1l3.5 1.2l2 1.1l3 2.7l.5 .3l2.5 .2l3-.9l3 .6l3 1.6l2.5 .3l4.5-1l8.5 1.6l31-.2l3-.6l4.5 .5l4.5-.5l5.5 .7l8.5-.5l3-1.1l5.5 .5l9-.9l6-.9l5 1.4l10 1.6l7 .1l4.5-.7l5.5-.5l4.5 .9l4.8 .6zM1917 680l2.8-.3l1.5-.7l7 0l4.5-3.9l1-.7l3.5 2.4l2.5 1.9l3 0l2.5-.7l.5 .1l5 1.2l1.8 .7z"/>
<path fill="#00C094" d="M1695 702.8l4.8-.4l4-.1l8.5-.8l4 .2l6-.8l3 .2l5.5 .9l5-.8l2 0l6 1l8.5-.8l6.5 .6l5-.3l7.5 .5l8-.4l7.5 .6l4 .1l1.8 .3zM1854 702.8l10.3-.5l9.7 .5zM1892.6 702.8l.2-.2l5.5-.2l6.3 .4zM1922 702.8l7.8-.3l7.8 .3z"/>
<path fill="#00BFC4" d="M1692.6 725.5l.2-.1l5.5-.3l6.5 .3l7.5-.8l3.5 .2l7.5-.6l6 .6l5-.9l5 .9l3.5-.2l2.5 .1l5-.6l2.5-.1l8 .9l6.5-.4l8 .6l6-.6l8.3 1zM1847.6 725.5l5.2-.3l5.2 .3zM1858.6 725.5l11.2-.6l10.8 .6zM1893.6 725.5l7.7-.3l7.7 .3zM1930 725.5l2.8-.3l2.2 .3z"/>
<path fill="#00B6EB" d="M1695 748.3l5.3-1l5.3 1zM1706.6 748.3l5.7-.7l4-.7l3.5-1l3-.4l2.5 .3l7 1.7l3 .4l2-.9l2-1.6l1-.6l.5 .2l3.5 2.5l2 .6l2-.7l2.5-2l1-.6l.5-.1l4 2.8l1-.2l2.5-1.4l1-.3l3 1.6l1 .3l2-.5l2 .2l2.5-.7l1 .2l2.5 1l2 .4l2-.4l3-1l1-.1l1 .1l3 1.1l2.8 .5zM1850.6 748.3l4.7-1l4 .7l4.5-.8l3.5 .4l2.5-.5l5.2 1.2zM1882.6 748.3l2.7-.6l3.3 .6zM1892 748.3l2.3-.4l1.7 .4zM1917 748.3l5.8-.6l5.2 .6z"/>
<path fill="#06A4FF" d="M1696 771.1l7.3-.8l3.5 .1l3-1l4-2l1.5 .2l1 .4l.5 0l2-1l1-.1l1-.6l1.5-.5l1.5 .6l1.5 .2l1 .5l2.5 .7l1-.3l1 .3l1.5-.4l2-1.3l1.5-.5l1 .2l1.5-.1l3.5 2.2l1.5 .4l1-.1l2 .8l2-.2l1.5-.5l2.5-.3l3 .4l2.5 .7l2-1l1-.2l3.5 1.6l4-1.4l2.5-.4l1 .2l5 1.8l2 .5l.5 0l2-.7l1.5-.2l4 1.2l3.2 .6zM1821 771.1l3.3-.4l2.7 .4zM1850 771.1l8.3-1l4.5 .3l1.5-.6l3-1.7l1-.2l1.5 .4l2.5 1.4l2-.2l2.5 .9l3-.7l4.8 1.4zM1897 771.1l5.8-.7l4.5 .5l3-.1l2.3 .3zM1922.6 771.1l7.2-.6l7.2 .6z"/>
<path fill="#A58AFF" d="M1695 793.9l5.3-.4l4.5 0l2.5-.4l4.5-1.4l1.5-.1l2 .4l3-1.4l2 .4l2-2l1-1.2l.5-.3l.5 0l1 .6l2.5 2.6l.5 .1l1.5-.6l2 .7l3.5-1.3l2.5-.3l4 2l1 .4l2-.2l3.5 1.5l4-.6l4.5 .5l3.5-1.4l1 .2l3 .8l3.5-1l3-.5l2 .3l4 1.2l1.5-.4l1 .1l1 .4l2-.8l1.5-.2l1.5 .4l2 1l1.5 .5l1.5 .2l3-.1l1.7 .3zM1833 793.9l5.3-.3l5.3 .3zM1854.6 793.9l3.7-.8l3 .5l1-.1l2.5-.7l3.5-1.4l1 .2l3.5 1.5l2 .5l1.5-.2l3.5-1l5.8 1.5zM1897 793.9l4.3-.5l3.7 .5zM1931 793.9l1.8-.2l1.8 .2z"/>
<path fill="#DF70F8" d="M1698 816.7l5.3-.4l4.5 .1l5.5-.8l2 0l5-1l2.5-.3l4 .6l3.5 .7l.5 0l2-.8l1.5-.2l5.5 1.7l4.5-.3l5.5 .4l9-.4l9.5 .5l10-.6l9.5 .5l2.5-.1l2.7 .4zM1819.6 816.7l4.7-.4l4.3 .4zM1865 816.7l4.8-.8l4.8 .8zM1904.6 816.7l4.2-.8l3.8 .8zM1930 816.7l2.8-.3l2.2 .3z"/>
<path fill="#FB61D7" d="M1706 839.5l2.3-.4l2.7 .4zM1712 839.5l4.8-.8l3.5 .4l1.5-.4l2-1l2 .3l1-1.1l1-.7l.5 .1l1 1l.5 .1l1-1.2l.5-.2l2.5 2.3l1.5-.8l1 .3l1.5 .9l2-.8l3.8 1.6zM1746 839.5l2.3-.7l3-1.3l1 .2l2 1.2l1.5 .4l1.5-.1l2.5-.7l3.5 .8l2.5-.4l1.8 .6zM1771.6 839.5l3.7-.8l2.5 .3l2.5-.7l1.5-.1l3 .9l1.5 .2l1.5-.1l3.5-.9l3.5 .9l2.5-.1l1.3 .4zM1825 839.5l3.3-.5l3 .3l4.5-1.1l4.2 1.3zM1852.6 839.5l2.7-.6l3.3 .6zM1860.6 839.5l3.2-1l2 .4l2.5-.7l4.7 1.3zM1874 839.5l2.3-.6l3-1.2l1.5 .2l2.5 1l2.3 .6zM1886.6 839.5l3.2-.8l3.2 .8zM1896.6 839.5l4.7-1.2l4.3 1.2zM1909.6 839.5l3.7-1.2l1-.1l4.3 1.3zM1919 839.5l3.8-1l3.2 1zM1929.6 839.5l.2-.2l1.5-.2l1.7 .4z"/>
<path fill="#FF66A8" d="M1696 862.2l4.3-.2l6.5-.1l6.5-1.2l2.5 0l5.5-1.3l2 0l4 .8l4 .4l4-.8l1.5-.1l3 .5l4.5 1.2l4.5-.5l6.5 .4l2-.3l2 0l4.5 .7l7-.8l6 .7l5.5-1.1l6 1.2l3.7 .5zM1792.6 862.2l2.7-.2l2.7 .2zM1816 862.2l8.3-.7l7.7 .7zM1835.6 862.2l2.7-.2l2.7 .2zM1851 862.2l6.8-.5l5 .2l5.5-.5l7 .7l4-.3l4 .3l.3 .1zM1893.6 862.2l7.7-.2l7.7 .2zM1931 862.2l1.8-.1l1.8 .1z"/>
<path d="M1692.4 922.7H1949.7" stroke="#3434ac" stroke-width="1" fill="none"/>
<path fill="#12128f" d="M1692.2 920.0l3.3 2.7l-3.3 2.7l1-2.7zM1697.4 920.0l3.3 2.7l-3.3 2.7l1-2.7zM1702.6 920.0l3.3 2.7l-3.3 2.7l1-2.7zM1707.8 920.0l3.3 2.7l-3.3 2.7l1-2.7zM1713.0 920.0l3.3 2.7l-3.3 2.7l1-2.7zM1718.2 920.0l3.3 2.7l-3.3 2.7l1-2.7zM1723.4 920.0l3.3 2.7l-3.3 2.7l1-2.7zM1728.6 920.0l3.3 2.7l-3.3 2.7l1-2.7zM1733.8 920.0l3.3 2.7l-3.3 2.7l1-2.7zM1739.0 920.0l3.3 2.7l-3.3 2.7l1-2.7zM1744.2 920.0l3.3 2.7l-3.3 2.7l1-2.7zM1749.4 920.0l3.3 2.7l-3.3 2.7l1-2.7zM1754.6 920.0l3.3 2.7l-3.3 2.7l1-2.7zM1759.8 920.0l3.3 2.7l-3.3 2.7l1-2.7zM1765.0 920.0l3.3 2.7l-3.3 2.7l1-2.7zM1770.2 920.0l3.3 2.7l-3.3 2.7l1-2.7zM1775.4 920.0l3.3 2.7l-3.3 2.7l1-2.7zM1780.6 920.0l3.3 2.7l-3.3 2.7l1-2.7zM1785.8 920.0l3.3 2.7l-3.3 2.7l1-2.7zM1791.0 920.0l3.3 2.7l-3.3 2.7l1-2.7zM1796.2 920.0l3.3 2.7l-3.3 2.7l1-2.7zM1801.4 920.0l3.3 2.7l-3.3 2.7l1-2.7zM1806.6 920.0l3.3 2.7l-3.3 2.7l1-2.7zM1811.8 920.0l3.3 2.7l-3.3 2.7l1-2.7zM1817.0 920.0l3.3 2.7l-3.3 2.7l1-2.7zM1822.2 920.0l3.3 2.7l-3.3 2.7l1-2.7zM1827.4 920.0l3.3 2.7l-3.3 2.7l1-2.7zM1832.6 920.0l3.3 2.7l-3.3 2.7l1-2.7zM1837.8 920.0l3.3 2.7l-3.3 2.7l1-2.7zM1843.0 920.0l3.3 2.7l-3.3 2.7l1-2.7zM1848.2 920.0l3.3 2.7l-3.3 2.7l1-2.7zM1853.4 920.0l3.3 2.7l-3.3 2.7l1-2.7zM1858.6 920.0l3.3 2.7l-3.3 2.7l1-2.7zM1863.8 920.0l3.3 2.7l-3.3 2.7l1-2.7zM1869.0 920.0l3.3 2.7l-3.3 2.7l1-2.7zM1874.2 920.0l3.3 2.7l-3.3 2.7l1-2.7zM1879.4 920.0l3.3 2.7l-3.3 2.7l1-2.7zM1884.6 920.0l3.3 2.7l-3.3 2.7l1-2.7zM1889.8 920.0l3.3 2.7l-3.3 2.7l1-2.7zM1895.0 920.0l3.3 2.7l-3.3 2.7l1-2.7zM1900.2 920.0l3.3 2.7l-3.3 2.7l1-2.7zM1905.4 920.0l3.3 2.7l-3.3 2.7l1-2.7zM1910.6 920.0l3.3 2.7l-3.3 2.7l1-2.7zM1915.8 920.0l3.3 2.7l-3.3 2.7l1-2.7zM1921.0 920.0l3.3 2.7l-3.3 2.7l1-2.7zM1926.2 920.0l3.3 2.7l-3.3 2.7l1-2.7zM1931.4 920.0l3.3 2.7l-3.3 2.7l1-2.7zM1936.6 920.0l3.3 2.7l-3.3 2.7l1-2.7zM1941.8 920.0l3.3 2.7l-3.3 2.7l1-2.7zM1947.0 920.0l3.3 2.7l-3.3 2.7l1-2.7z"/>
<path d="M172.4 1006.2h285.3M172.4 1029.0h285.3M172.4 1051.8h285.3M172.4 1074.6h285.3M172.4 1097.3h285.3M172.4 1120.1h285.3M172.4 1142.9h285.3M172.4 1165.7h285.3M172.4 1188.5h285.3M172.4 1211.3h285.3M172.4 1234.0h285.3M172.4 1256.8h285.3M172.4 1279.6h285.3M172.4 1302.4h285.3" stroke="#c8c8c8" stroke-width="1.1" fill="none"/>
<path fill="#F8766D" d="M239.6 1006.8l17.3-.4l15.5 .1l14.5-.8l17.3 1.1zM344.6 1006.8l.3-.2l7-.1l7.5 .1l.2 .2z"/>
<path fill="#E38900" d="M214.6 1029.5l9.3-.4l8.5 .3l.2 .1zM254.6 1029.5l6.3-.6l7.5-1.2l2.5 0l5.5 .8l7-1.2l4.5-.3l12 1.8l5-.1l10.7 .8zM343.6 1029.5l11.3-.7l11.3 .7zM415.2 1029.5l5.2-.2l5.8 .2z"/>
<path fill="#C49A00" d="M209.2 1052.3l8.7-.5l26-.5l11.5-.6l9-2l4-1.6l7.5-1.9l2.5-1.2l1.5-.1l3-.7l1.5-1.4l1.5 .9l2-.4l1.5 .3l1 .6l1 .1l1.5 .7l4 1.6l3.5 2.5l3 1.6l3 .7l15-1.7l2 .4l5.5 .5l9 1.4l8.5 .5l17.5-.2l18-.8l16 1.4l11.5 .2l17-.6l9.2 .8z"/>
<path fill="#99A800" d="M201.6 1075.1l7.8-.3l7.8 .3zM266.2 1075.1l6.2-.4l5.8 .4zM298.6 1075.1l7.8-.3l7.8 .3zM338.6 1075.1l.3-.1l4.5-.2l5.2 .3zM363.6 1075.1l13.3-1.2l14.3 1.2z"/>
<path fill="#53B400" d="M197.2 1097.9l.2-.2l3.5-.2l14.5 .2l12.5-1.5l7-.5l6 .6l5.5-.2l6 .5l8.5-.1l7-1.4l9.5-2.2l3.5-1.1l1.5 0l1.5-.4l3-.3l2-.4l.5 .1l1 .5l3 .5l10 4.5l4.5 1.1l5-1.1l9.5-1.6l10.5 1.7l7.5 .9l11.5 .3l3.7 .3zM392.6 1097.9l8.3-.4l11 .1l5.3 .3z"/>
<path fill="#00BC56" d="M190.6 1120.7l10.3-.3l28.5-.2l12-1.1l8-.4l8.5-1.5l4.5-1.6l3-.7l1.5 .2l1-.2l5-.4l3.5 .1l1-.3l2.5 .4l1 .4l2.5 .4l3 .2l3-.3l4 .9l1.5 .2l1 .4l5 1.3l5.5 .8l8 .1l9.5 .8l19.5 0l14.5 .4l14-.3l31.3 .7z"/>
<path fill="#00C094" d="M186.6 1143.5l2.8-.4l11.5-.4l14.5 .3l11-.5l11.5-1.2l9.5-1.6l6-1.7l3.5-1.6l1-.2l1.5-1.1l2.5-.8l.5-.4l2.5-4.5l.5-.5l1.5-.6l2.5-.7l1.5-1l1-.1l1-.9l1-.2l1-.4l1-1.2l1.5-.8l1 .5l1 1.1l1-.6l1 0l1-.5l1.5 0l1-.7l2 .7l1.5-.4l.5 .2l.5 .7l2 1.5l1 1.4l1 .5l1 1.2l2 1.5l5 6l1 .6l2.5 2.2l4.5 1.2l5.5-.7l5.5-1.4l1 0l2-.5l2.5-.3l2-.4l1 .1l4.5-.3l1 .2l3.5 0l3-.2l1 .2l4.5 .1l3 .4l1.5-.3l1.5 .3l1 0l4.5 .6l2.5 .1l2.5-.4l1.5 0l4.5 .9l1-.1l5.5 .7l2 0l12 2.9l8.5 1.1l8.5-.1l11.5-.5l18.3 1z"/>
<path fill="#00BFC4" d="M185.6 1166.2l.3-.3l1-.5l28 .2l10.5-.5l21-2l6-1.8l5-2l5.5-2.6l1.5-1.3l2-1.1l1-.3l2-1.1l1 0l2-.8l1-.7l2-.8l1-.3l1 .2l.5-.5l.5 .1l.5 .5l1.5 .2l2-.3l2-.8l1.5 .3l2-.1l1 .2l1 .9l1 .3l.5 .4l1 .1l2.5 1.1l2.5 2.9l5.5 5l1.5 .7l3.5 .8l11.5-1.4l2.5-.5l1.5-.8l1-.1l1-.5l2.5-.7l4.5-.2l2.5 .3l3-.3l5.5 1.1l.5 0l1.5-.8l1-.1l1.5-.6l1 .1l1-.3l1 .2l1.5-.3l1.5 .2l4-.1l1.5 .4l3.5 0l1 .3l3.5 .5l4 .3l3 .6l1.5 .5l1 .1l1.5 .6l1.5 .1l6.5 2.1l7 1.6l5 .6l2.5 .2l28 .5l7.3 .3z"/>
<path fill="#00B6EB" d="M181.6 1189l7.8-.8l6 .5l3-.2l3.2 .5zM206.6 1189l7.8-1l3.5 .2l7-1.3l2-.2l2 .2l6 1.2l2-.2l3 .5l8-1.3l2-.1l4 .4l2.5-.6l1.5-.2l1.5 .1l2.5 .7l4.5-.6l4 .4l3-1.5l1.5-.2l1 .1l2 .7l1.5-.8l1.5-.4l2.5-1.4l2-.4l.5 .1l2 .8l5 2.4l2-.3l1 .1l5.5 1.9l4 .6l6-.5l6-1.3l3.5-.4l7 1.2l2-.3l2 .1l5.5 .9l6-.8l7 .9l7.5-.3l9 .4l5-.3l3.5 .1l9-.9l14.2 1.3z"/>
<path fill="#06A4FF" d="M224.6 1211.8l10.8-.3l10.2 .3zM251.2 1211.8l14.7-.7l9.5 .3l11.5-.6l10.5 .6l6-.3l9.5 .5l8-.3l9.7 .5zM341.6 1211.8l7.8-.3l7.8 .3zM361.6 1211.8l16.3-.8l15.7 .8zM427.2 1211.8l7.7-.3l7.7 .3z"/>
<path fill="#A58AFF" d="M241.2 1234.6l45.2-.3l46.2 .3zM358.2 1234.6l19.7-.2l18.3 .2z"/>
<path fill="#DF70F8" d="M214.2 1257.4l13.7-.3l14.5 .1l15.5-.8l8.5 .4l8.5-1l5 .4l4.5-1.4l1.5-.2l1.5 0l6.5 1.7l3.5-.3l1.5 0l9 1l9.5-.7l4-.1l16.5 1l11-.6l9 .5l14.5-.5l20.2 .8zM394.6 1257.4l5.8-.2l5.8 .2z"/>
<path fill="#FB61D7" d="M266.2 1280.2l3.2-.5l3.2 .5zM277.6 1280.2l5.8-.9l3 .2l5.5-.8l6 1l3-.2l3.7 .7zM313.6 1280.2l4.3-.6l4 .4l4.5-.6l4.8 .8zM331.6 1280.2l3.3-.5l3 .3l.3 .2zM374.6 1280.2l.3-.2l3-.3l3 .3l5.5-.8l5.5 .8l3-.2l3.3 .4z"/>
<path fill="#FF66A8" d="M224.2 1303l5.2-.3l5.8 .3zM241.6 1303l15.3-1l6.5 .1l5.5-.5l8 .7l8.5-.8l3-.1l12.5 1.1l6-.2l9.5 .5l12.5-.2l15.5 .2l8-.2l7.8 .4zM373.2 1303l.2-.2l7.5-.1l7 .1l.3 .2z"/>
<path d="M183.2 1363.6H445.2" stroke="#3434ac" stroke-width="1" fill="none"/>
<path fill="#12128f" d="M183.0 1360.9l3.3 2.7l-3.3 2.7l1-2.7zM188.2 1360.9l3.3 2.7l-3.3 2.7l1-2.7zM193.4 1360.9l3.3 2.7l-3.3 2.7l1-2.7zM198.6 1360.9l3.3 2.7l-3.3 2.7l1-2.7zM203.8 1360.9l3.3 2.7l-3.3 2.7l1-2.7zM209.0 1360.9l3.3 2.7l-3.3 2.7l1-2.7zM214.2 1360.9l3.3 2.7l-3.3 2.7l1-2.7zM219.4 1360.9l3.3 2.7l-3.3 2.7l1-2.7zM224.6 1360.9l3.3 2.7l-3.3 2.7l1-2.7zM229.8 1360.9l3.3 2.7l-3.3 2.7l1-2.7zM235.0 1360.9l3.3 2.7l-3.3 2.7l1-2.7zM240.2 1360.9l3.3 2.7l-3.3 2.7l1-2.7zM245.4 1360.9l3.3 2.7l-3.3 2.7l1-2.7zM250.6 1360.9l3.3 2.7l-3.3 2.7l1-2.7zM255.8 1360.9l3.3 2.7l-3.3 2.7l1-2.7zM261.0 1360.9l3.3 2.7l-3.3 2.7l1-2.7zM266.2 1360.9l3.3 2.7l-3.3 2.7l1-2.7zM271.4 1360.9l3.3 2.7l-3.3 2.7l1-2.7zM276.6 1360.9l3.3 2.7l-3.3 2.7l1-2.7zM281.8 1360.9l3.3 2.7l-3.3 2.7l1-2.7zM287.0 1360.9l3.3 2.7l-3.3 2.7l1-2.7zM292.2 1360.9l3.3 2.7l-3.3 2.7l1-2.7zM297.4 1360.9l3.3 2.7l-3.3 2.7l1-2.7zM302.6 1360.9l3.3 2.7l-3.3 2.7l1-2.7zM307.8 1360.9l3.3 2.7l-3.3 2.7l1-2.7zM313.0 1360.9l3.3 2.7l-3.3 2.7l1-2.7zM318.2 1360.9l3.3 2.7l-3.3 2.7l1-2.7zM323.4 1360.9l3.3 2.7l-3.3 2.7l1-2.7zM328.6 1360.9l3.3 2.7l-3.3 2.7l1-2.7zM333.8 1360.9l3.3 2.7l-3.3 2.7l1-2.7zM339.0 1360.9l3.3 2.7l-3.3 2.7l1-2.7zM344.2 1360.9l3.3 2.7l-3.3 2.7l1-2.7zM349.4 1360.9l3.3 2.7l-3.3 2.7l1-2.7zM354.6 1360.9l3.3 2.7l-3.3 2.7l1-2.7zM359.8 1360.9l3.3 2.7l-3.3 2.7l1-2.7zM365.0 1360.9l3.3 2.7l-3.3 2.7l1-2.7zM370.2 1360.9l3.3 2.7l-3.3 2.7l1-2.7zM375.4 1360.9l3.3 2.7l-3.3 2.7l1-2.7zM380.6 1360.9l3.3 2.7l-3.3 2.7l1-2.7zM385.8 1360.9l3.3 2.7l-3.3 2.7l1-2.7zM391.0 1360.9l3.3 2.7l-3.3 2.7l1-2.7zM396.2 1360.9l3.3 2.7l-3.3 2.7l1-2.7zM401.4 1360.9l3.3 2.7l-3.3 2.7l1-2.7zM406.6 1360.9l3.3 2.7l-3.3 2.7l1-2.7zM411.8 1360.9l3.3 2.7l-3.3 2.7l1-2.7zM417.0 1360.9l3.3 2.7l-3.3 2.7l1-2.7zM422.2 1360.9l3.3 2.7l-3.3 2.7l1-2.7zM427.4 1360.9l3.3 2.7l-3.3 2.7l1-2.7zM432.6 1360.9l3.3 2.7l-3.3 2.7l1-2.7zM437.8 1360.9l3.3 2.7l-3.3 2.7l1-2.7z"/>
<path d="M472.4 1007.1h285.6M472.4 1029.9h285.6M472.4 1052.7h285.6M472.4 1075.5h285.6M472.4 1098.3h285.6M472.4 1121.1h285.6M472.4 1143.9h285.6M472.4 1166.8h285.6M472.4 1189.6h285.6M472.4 1212.4h285.6M472.4 1235.2h285.6M472.4 1258.0h285.6M472.4 1280.8h285.6M472.4 1303.6h285.6" stroke="#d2d2d2" stroke-width="1.4" fill="none"/>
<path fill="#E38900" d="M518.6 1030.6l10.8-.2l11.2 .2zM550.2 1030.6l7.7-.2l7.7 .2zM586.2 1030.6l13.2-.5l13 .4l.2 .1z"/>
<path fill="#C49A00" d="M540.2 1053.4l15.7-.8l16.3 .8zM581.2 1053.4l16.7-1.3l3 0l14.5 1.1l11.5-.6l11.7 .8z"/>
<path fill="#99A800" d="M539.2 1076.2l10.2-.3l10 .2l.2 .1zM593.2 1076.2l13.2-.5l14.2 .5zM622.6 1076.2l9.8-.4l9.2 .4zM716.2 1076.2l.2-.1l10-.2l5-.3l7.2 .6z"/>
<path fill="#53B400" d="M532.6 1099l16.8-1l16.8 1z"/>
<path fill="#00BC56" d="M540.2 1121.8l12.2-.4l12.2 .4zM582.6 1121.8l21.3-1l20.7 1zM646.2 1121.8l9.2-.4l8.8 .4zM690.6 1121.8l10.3-.3l10.3 .3zM720.2 1121.8l9.2-.4l9.2 .4z"/>
<path fill="#00C094" d="M485.6 1144.6l1.3-.4l19.5-.3l11.5 .1l11-.5l9.5-1.4l5.5-1.3l7.5-.7l5 .2l2 .2l14 2.8l5.5 .5l6-1l3.5-1.4l5.5-1.9l2.5-.7l4-.8l1.5-.6l4 .2l1-.2l4 .5l1.5-.2l6.5 1.1l3.5 0l3 .4l6.5-.8l5.5 .9l1.5 .1l2.5-.2l2 .4l5 1.7l9 1.3l10.5 1.1l11.5 .4l22.5 .2l39.5 0l1 .2l.2 .1z"/>
<path fill="#00BFC4" d="M501.6 1167.5l19.3-1.2l8.5-1.8l3-1l1.5-.3l4-1.2l4-2l1-.1l1-.4l1.5 .1l3.5-.5l1 .4l1-.2l2.5 .1l2 .3l1.5 .8l2.5 .7l7.5 2.9l9.5 2.5l3-.1l6.5-3.6l7-4.5l1.5-.7l1-.8l3-.9l1 0l1-.2l3.5-.4l5.5-2.7l1 0l1-.4l1.5 0l2 .7l1.5 0l1.5 1.3l.5-.1l2-2.7l.5-.3l2-.4l.5 0l.5 .3l.5-.2l.5-.5l3.5-1.8l.5 0l1 .8l1.5 .6l1 1.3l1-.1l2.5 1.3l1 .8l3 1l1 .9l5 2.3l2.5 1.8l4 2.1l2.5 .5l1.5 0l6 .6l7.5 2.1l8 1.6l9 .6l14-.1l14.5 .5l28 0l1.2 .3z"/>
<path fill="#00B6EB" d="M497.6 1190.3l3.3-.5l20-.2l7.5-1.3l8.5-2.1l1-.6l1.5-.4l2-1.1l1.5-1.4l1.5-.9l3.5-1l2-.4l2 .1l1.5-.4l2 .4l1.5 .8l2 .2l1.5 .7l2.5 .7l10 4.3l5-.4l1-2.3l3.5-.7l4-2l3-3l1.5-.7l4.5-3.4l1 .1l1.5-.9l1.5-.1l2-.5l1.5-.2l1 .2l.5-.2l1 .1l1-.9l1-.4l1.5-.1l1-1l3.5-1.2l1 .4l.5 0l1.5 .8l2-.5l1 .5l1-.2l2 .7l1-.4l.5 .2l.5-.1l.5-.4l.5-.1l1 .8l2 .7l2.5 2.1l1.5 2l1.5 1.2l1.5 3.3l1 .4l2 1.4l1 .9l1 .6l3 2.1l2 2.8l4 .6l8.5 .6l9-.5l19.3 .8zM690.6 1190.3l10.3-1.2l7-.4l7.5 .8l12.5 .2l1.3 .6z"/>
<path fill="#06A4FF" d="M520.2 1213.1l9.2-.2l9.2 .2zM568.6 1213.1l17.8-.8l11.8 .8zM602.2 1213.1l.2-.2l13-.1l13.8 .3zM629.6 1213.1l14.3-.3l12.7 .3z"/>
<path fill="#A58AFF" d="M546.2 1235.9l3.2-.2l3.2 .2zM656.6 1235.9l4.3-.2l4.3 .2z"/>
<path fill="#DF70F8" d="M509.6 1258.7l5.8-.2l5.2 .2zM554.6 1258.7l3.3-.2l3.7 .2zM595.6 1258.7l5.3-.2l5.7 .2z"/>
<path fill="#FF66A8" d="M540.2 1304.3l9.2-.2l9.2 .2zM699.2 1304.3l7.2-.2l7.8 .2z"/>
<path d="M483 1364.6H745.3" stroke="#3434ac" stroke-width="1" fill="none"/>
<path fill="#12128f" d="M482.8 1361.9l3.3 2.7l-3.3 2.7l1-2.7zM488.0 1361.9l3.3 2.7l-3.3 2.7l1-2.7zM493.2 1361.9l3.3 2.7l-3.3 2.7l1-2.7zM498.4 1361.9l3.3 2.7l-3.3 2.7l1-2.7zM503.6 1361.9l3.3 2.7l-3.3 2.7l1-2.7zM508.8 1361.9l3.3 2.7l-3.3 2.7l1-2.7zM514.0 1361.9l3.3 2.7l-3.3 2.7l1-2.7zM519.2 1361.9l3.3 2.7l-3.3 2.7l1-2.7zM524.4 1361.9l3.3 2.7l-3.3 2.7l1-2.7zM529.6 1361.9l3.3 2.7l-3.3 2.7l1-2.7zM534.8 1361.9l3.3 2.7l-3.3 2.7l1-2.7zM540.0 1361.9l3.3 2.7l-3.3 2.7l1-2.7zM545.2 1361.9l3.3 2.7l-3.3 2.7l1-2.7zM550.4 1361.9l3.3 2.7l-3.3 2.7l1-2.7zM555.6 1361.9l3.3 2.7l-3.3 2.7l1-2.7zM560.8 1361.9l3.3 2.7l-3.3 2.7l1-2.7zM566.0 1361.9l3.3 2.7l-3.3 2.7l1-2.7zM571.2 1361.9l3.3 2.7l-3.3 2.7l1-2.7zM576.4 1361.9l3.3 2.7l-3.3 2.7l1-2.7zM581.6 1361.9l3.3 2.7l-3.3 2.7l1-2.7zM586.8 1361.9l3.3 2.7l-3.3 2.7l1-2.7zM592.0 1361.9l3.3 2.7l-3.3 2.7l1-2.7zM597.2 1361.9l3.3 2.7l-3.3 2.7l1-2.7zM602.4 1361.9l3.3 2.7l-3.3 2.7l1-2.7zM607.6 1361.9l3.3 2.7l-3.3 2.7l1-2.7zM612.8 1361.9l3.3 2.7l-3.3 2.7l1-2.7zM618.0 1361.9l3.3 2.7l-3.3 2.7l1-2.7zM623.2 1361.9l3.3 2.7l-3.3 2.7l1-2.7zM628.4 1361.9l3.3 2.7l-3.3 2.7l1-2.7zM633.6 1361.9l3.3 2.7l-3.3 2.7l1-2.7zM638.8 1361.9l3.3 2.7l-3.3 2.7l1-2.7zM644.0 1361.9l3.3 2.7l-3.3 2.7l1-2.7zM649.2 1361.9l3.3 2.7l-3.3 2.7l1-2.7zM654.4 1361.9l3.3 2.7l-3.3 2.7l1-2.7zM659.6 1361.9l3.3 2.7l-3.3 2.7l1-2.7zM664.8 1361.9l3.3 2.7l-3.3 2.7l1-2.7zM670.0 1361.9l3.3 2.7l-3.3 2.7l1-2.7zM675.2 1361.9l3.3 2.7l-3.3 2.7l1-2.7zM680.4 1361.9l3.3 2.7l-3.3 2.7l1-2.7zM685.6 1361.9l3.3 2.7l-3.3 2.7l1-2.7zM690.8 1361.9l3.3 2.7l-3.3 2.7l1-2.7zM696.0 1361.9l3.3 2.7l-3.3 2.7l1-2.7zM701.2 1361.9l3.3 2.7l-3.3 2.7l1-2.7zM706.4 1361.9l3.3 2.7l-3.3 2.7l1-2.7zM711.6 1361.9l3.3 2.7l-3.3 2.7l1-2.7zM716.8 1361.9l3.3 2.7l-3.3 2.7l1-2.7zM722.0 1361.9l3.3 2.7l-3.3 2.7l1-2.7zM727.2 1361.9l3.3 2.7l-3.3 2.7l1-2.7zM732.4 1361.9l3.3 2.7l-3.3 2.7l1-2.7zM737.6 1361.9l3.3 2.7l-3.3 2.7l1-2.7zM742.8 1361.9l3.3 2.7l-3.3 2.7l1-2.7z"/>
<path d="M774.3 1007.9h285.7M774.3 1030.7h285.7M774.3 1053.5h285.7M774.3 1076.3h285.7M774.3 1099.0h285.7M774.3 1121.8h285.7M774.3 1144.6h285.7M774.3 1167.4h285.7M774.3 1190.2h285.7M774.3 1213.0h285.7M774.3 1235.7h285.7M774.3 1258.5h285.7M774.3 1281.3h285.7M774.3 1304.1h285.7" stroke="#cccccc" stroke-width="1.3" fill="none"/>
<path fill="#F8766D" d="M791.6 1008.5l1.2-.9l.5 0l40 0l25.5-.4l87 .4l33.5-1l15 .7l8 0l13-.5l11.5 .4l13 .7l2 .4l.2 .2z"/>
<path fill="#E38900" d="M787.6 1031.3l1.2-1.4l1-.1l21.5 .9l46 0l11.3 .6zM875 1031.3l2.3-.5l31.5-1l5.5-.5l8.5 .4l8.5 1.1l8.7 .5zM943.6 1031.3l.2-.2l2-.4l28.5-.2l8.5-.5l34 .4l29.5 0l.5 .4l.2 .5z"/>
<path fill="#C49A00" d="M788.6 1054.1l.7-.8l.5-.2l18.5 .2l18.5-.6l19 .1l13-.6l15.5-.3l14 .6l16.5 .2l12.5 .6l7.3 .8zM927 1054.1l.3-.1l4-.5l14.5-1l14.5 .6l13.5-.9l8.5-1l18.5 .6l10-.3l6-.4l6 .6l10 .7l12.5 .4l.5 .1l.8 1.2z"/>
<path fill="#99A800" d="M788 1076.9l.3-.7l.5-.3l28.5 .3l14-.6l12.5-1.1l9-.4l8.5-.3l2.5 .2l2.5-.1l12 0l10-.5l15 0l8.5-.7l9 .7l1 .3l9.5 1.2l13.5 .8l23.5 .8l6-.8l4-1l3.5-.5l11.5-.7l8.5-.2l6.5 .1l2-.3l5-.5l3 .2l2 .4l14 1l5.5 .7l5 .2l.5 .5l.3 1.3z"/>
<path fill="#53B400" d="M788 1099.7l.3-.3l.5-.2l14 .1l1.2 .4zM840.6 1099.7l.2-.3l1-.2l18 .1l1.2 .4zM874.6 1099.7l1.2-.5l18.5 0l1.3 .5zM917.6 1099.7l1.2-.5l9.5-.5l17.5 .2l12-.9l18-1.7l7.5 1.3l13.5 1.3l9.5-1.3l9-.5l10.5 .6l11 1.4l.5 0l1.5-.6l6 .4l.5 .2l.3 .6z"/>
<path fill="#00BC56" d="M787.6 1122.5l.2-.4l.5-2.4l.5-1.4l4-.4l4.5 0l2.5-.4l4.5 .3l4 1l4 .5l3 .1l10 1.1l6 .2l17 1.4l12-.6l13-.3l9.5 .8l11.5 .2l11.5-.5l8.5-.6l17 .2l4.5 .8l10-.9l14.5-.2l6-.8l9.5-.7l4 .1l11.5 .8l8.5-1.4l9-.6l3 .4l1.5 0l11.5 1.1l12 .9l6 .2l.8 1.5z"/>
<path fill="#00C094" d="M788 1145.3l.3-.6l.5-.2l14-.2l6-.3l8.5 .7l14 .3l9-.5l48.5 .1l28.5-.2l28.5 .3l17-.2l21-.9l13.5 .8l14 .1l11.5-.4l22.5 .6l.5 0l.2 .6z"/>
<path fill="#00BFC4" d="M788 1168l.3-.4l.5-.2l28.5-1.2l8.5 .2l11.5 .7l11 .4l12-.4l28 .6l14.5-.6l37.5 .6l19.5-.5l14.5-1l11 .2l12 1l14-.4l12-.7l5.5 .2l16 1.2l.8 .3z"/>
<path fill="#00B6EB" d="M792 1190.8l.8-1.4l4-.1l3 0l5 1.3l.2 .2zM836 1190.8l.3-.3l1-.5l21 0l1 .4l.3 .4zM876.6 1190.8l3.7-.6l14-.2l1.3 .8zM907.6 1190.8l.2-.3l1-.5l14-.1l3-.7l5.5 .4l7.5-1.4l3.5-.2l.5 0l3 1l10.5 .2l.5 .7l.2 .9zM964.6 1190.8l1.2-.6l8.5-.2l6-.8l6.5 .1l2 .7l2.5 0l1.5-1.5l.5-.1l6.5-.1l3 .5l4-1.1l4.5-.9l3 .4l6.5-1.1l5.5 .3l1-.1l5.5 .7l7 1.3l6.5 .1l.5 2.2l.2 .2z"/>
<path fill="#06A4FF" d="M787 1213.6l.8-2.7l.5-1l3.5-.9l1 .1l3.5-.4l5.5-.1l2 .3l2-.1l4 1.2l5 .6l9.5-.2l7 .4l3-.8l5.5-2.3l3-1.4l1.5-.4l2-1.2l1-.2l2.5-1.3l2.5-1.9l2-1.8l.5-.3l1 0l1-1l.5-.2l1 0l1-.3l2.5 .1l1-.7l.5 0l.5 .3l1-.6l2.5-.7l1.5-.8l3.5-.6l1-.8l2.5 .1l1.5-.3l1 1.1l1.5 .5l.5-.3l.5 0l.5 .3l2 .4l1.5 .8l.5-.2l2 .9l1.5 1.1l1 0l1 .4l1-.3l1 .3l3 .4l.5 .3l1 .2l1 .5l.5 0l1.5 1l2 .3l1.5 .5l1.5 .8l1-.2l1 .5l2.5 .6l1-.1l1 .4l2.5 .3l1.5 1.1l1 .9l.5 .3l1.5 .1l2.5 .7l3 .3l4 .9l1.5 .1l3 1.5l10 2.5l8-.2l17.5-.7l8.5-.6l1.5 0l2-.1l8-2l7 .2l1.5 .2l6.5-.8l2 0l2-.3l3.5-.1l3.5-.5l1 .1l3-.4l2.5 .1l1 .2l2.5-.2l4-1.7l1 0l1.5 .3l2 .2l2 .8l5 .7l3.5 1l2.5 1l.5 .3l.5 1.5l.2 2z"/>
<path fill="#A58AFF" d="M787.6 1236.4l.2-.5l1-.5l8.5-.7l3-.1l8.5 .6l8.5 .3l28.5-.7l11.5-1l7.5-1.8l2.5-.2l4.5-.8l6.5-.9l7.5 1.1l5 1.2l6.5 .8l9-.2l9.5 .2l6.5 .6l8 1.2l12.5 1l11-1l6-.2l14.5 .4l11.5-.2l7.5-.9l11-.5l3.5 .2l3-.1l9 .8l11.5 .7l13 .2l.3 1z"/>
<path fill="#DF70F8" d="M789 1259.2l.3-.3l1-.2l12.5 0l14.5-.4l14-.1l6 .5l12.5-1.3l10 .1l8.5 .3l15-.4l23-1.5l2.5 0l4 .4l11.5 1.4l10 .5l11.5 .3l8.5-.3l8-1l7-.5l5-1.3l2-.1l1 .2l5.5-.2l2 .3l6-.2l1-.2l2.5 .1l3 1.1l9-.1l13-.7l5.5 .2l10 1.3l5 .9l6.5 .2l.3 1z"/>
<path fill="#FB61D7" d="M811.6 1282l2.7-2.4l15.5-.1l.5 0l4 2.2l.3 .3zM856 1282l6.8-2.6l7-.2l2.5-.4l1.5-.4l5-.5l.5 0l2 1.3l2.5 .9l3.5 .9l6 0l.5 .1l.2 .9zM896 1282l4.3-1.8l2.5-.9l1-.1l17.5 0l3 1.2l3 .6l13 0l.5 .4l.2 .6zM963 1282l.3-.8l.5-.2l21.5 0l.5 .1l.2 .9zM988.6 1282l2.7-.8l11-2.3l5.5-.8l4-1.2l3 .2l2.5-.2l1.5 .2l5.5 2l7 .3l1.5 1.3l12 .3l.8 1z"/>
<path fill="#FF66A8" d="M790.6 1304.8l1.2-.4l53-.8l15.5-.4l22.5 .4l11.5-.1l6 .7l8 .1l14.5-.5l17.5 .7l11-.5l17.5-.5l16.5-.7l9 .6l8-.1l12 .5l12-.4l19 .9l1 .2l.3 .3z"/>
<path d="M785.4 1364.9H1047" stroke="#3434ac" stroke-width="1" fill="none"/>
<path fill="#12128f" d="M785.2 1362.2l3.3 2.7l-3.3 2.7l1-2.7zM790.4 1362.2l3.3 2.7l-3.3 2.7l1-2.7zM795.6 1362.2l3.3 2.7l-3.3 2.7l1-2.7zM800.8 1362.2l3.3 2.7l-3.3 2.7l1-2.7zM806.0 1362.2l3.3 2.7l-3.3 2.7l1-2.7zM811.2 1362.2l3.3 2.7l-3.3 2.7l1-2.7zM816.4 1362.2l3.3 2.7l-3.3 2.7l1-2.7zM821.6 1362.2l3.3 2.7l-3.3 2.7l1-2.7zM826.8 1362.2l3.3 2.7l-3.3 2.7l1-2.7zM832.0 1362.2l3.3 2.7l-3.3 2.7l1-2.7zM837.2 1362.2l3.3 2.7l-3.3 2.7l1-2.7zM842.4 1362.2l3.3 2.7l-3.3 2.7l1-2.7zM847.6 1362.2l3.3 2.7l-3.3 2.7l1-2.7zM852.8 1362.2l3.3 2.7l-3.3 2.7l1-2.7zM858.0 1362.2l3.3 2.7l-3.3 2.7l1-2.7zM863.2 1362.2l3.3 2.7l-3.3 2.7l1-2.7zM868.4 1362.2l3.3 2.7l-3.3 2.7l1-2.7zM873.6 1362.2l3.3 2.7l-3.3 2.7l1-2.7zM878.8 1362.2l3.3 2.7l-3.3 2.7l1-2.7zM884.0 1362.2l3.3 2.7l-3.3 2.7l1-2.7zM889.2 1362.2l3.3 2.7l-3.3 2.7l1-2.7zM894.4 1362.2l3.3 2.7l-3.3 2.7l1-2.7zM899.6 1362.2l3.3 2.7l-3.3 2.7l1-2.7zM904.8 1362.2l3.3 2.7l-3.3 2.7l1-2.7zM910.0 1362.2l3.3 2.7l-3.3 2.7l1-2.7zM915.2 1362.2l3.3 2.7l-3.3 2.7l1-2.7zM920.4 1362.2l3.3 2.7l-3.3 2.7l1-2.7zM925.6 1362.2l3.3 2.7l-3.3 2.7l1-2.7zM930.8 1362.2l3.3 2.7l-3.3 2.7l1-2.7zM936.0 1362.2l3.3 2.7l-3.3 2.7l1-2.7zM941.2 1362.2l3.3 2.7l-3.3 2.7l1-2.7zM946.4 1362.2l3.3 2.7l-3.3 2.7l1-2.7zM951.6 1362.2l3.3 2.7l-3.3 2.7l1-2.7zM956.8 1362.2l3.3 2.7l-3.3 2.7l1-2.7zM962.0 1362.2l3.3 2.7l-3.3 2.7l1-2.7zM967.2 1362.2l3.3 2.7l-3.3 2.7l1-2.7zM972.4 1362.2l3.3 2.7l-3.3 2.7l1-2.7zM977.6 1362.2l3.3 2.7l-3.3 2.7l1-2.7zM982.8 1362.2l3.3 2.7l-3.3 2.7l1-2.7zM988.0 1362.2l3.3 2.7l-3.3 2.7l1-2.7zM993.2 1362.2l3.3 2.7l-3.3 2.7l1-2.7zM998.4 1362.2l3.3 2.7l-3.3 2.7l1-2.7zM1003.6 1362.2l3.3 2.7l-3.3 2.7l1-2.7zM1008.8 1362.2l3.3 2.7l-3.3 2.7l1-2.7zM1014.0 1362.2l3.3 2.7l-3.3 2.7l1-2.7zM1019.2 1362.2l3.3 2.7l-3.3 2.7l1-2.7zM1024.4 1362.2l3.3 2.7l-3.3 2.7l1-2.7zM1029.6 1362.2l3.3 2.7l-3.3 2.7l1-2.7zM1034.8 1362.2l3.3 2.7l-3.3 2.7l1-2.7zM1040.0 1362.2l3.3 2.7l-3.3 2.7l1-2.7z"/>
<path fill="#0a0a8c" d="M995.0 1360.3h13.0v9.2h-13.0z"/>
<path d="M1075.1 1007.1h285.2M1075.1 1029.9h285.2M1075.1 1052.7h285.2M1075.1 1075.5h285.2M1075.1 1098.3h285.2M1075.1 1121.1h285.2M1075.1 1143.9h285.2M1075.1 1166.8h285.2M1075.1 1189.6h285.2M1075.1 1212.4h285.2M1075.1 1235.2h285.2M1075.1 1258.0h285.2M1075.1 1280.8h285.2M1075.1 1303.6h285.2" stroke="#cccccc" stroke-width="1.3" fill="none"/>
<path fill="#F8766D" d="M1144.4 1007.8l4.2-.9l4-.2l5 .9l3-.4l2 .2l4.5-1.1l5.3 1.5zM1175.8 1007.8l.3-.2l2.5-.3l3.2 .5zM1193.4 1007.8l4.2-.4l4.8 .4zM1231.4 1007.8l4.7-.5l5.3 .5z"/>
<path fill="#E38900" d="M1102.8 1030.6l2.3-.7l1 .1l1.7 .6zM1110.8 1030.6l3.3-.7l3.7 .7zM1143.4 1030.6l2.2-.7l2-.8l1.5-1.6l1.5-2.1l1.5-1.5l.5 0l1.5 1.6l1.5 2.1l1.5 1.5l1.5 .8l2.5-.9l1.5 .3l1.5-1.4l2-2.4l.5-.3l.5-.1l.5 .3l1.5 2l1.5 1.4l2 1.3l1.8 .5zM1174.8 1030.6l3.8-1l3.8 1zM1192.8 1030.6l5.8-1l5.8 1zM1212.4 1030.6l2.2-.3l2.8 .3zM1229.8 1030.6l6.3-1l6.3 1zM1247.4 1030.6l1.7-.4l1 .1l.3 .3zM1268.4 1030.6l2.7-.5l3.3 .5z"/>
<path fill="#C49A00" d="M1102.8 1053.4l2.3-.5l2.7 .5zM1111.4 1053.4l2.7-.5l3.3 .5zM1142.4 1053.4l1.2-.3l1 .1l1.5-.4l2.5-1.5l1.5-.4l2-1.2l.5 0l.5 .3l2.5 1.9l2 1l.5 .1l3-1.2l1.5 .5l1-.6l3-2.5l.5 0l1 .6l1.5 1.4l2 1.4l2.2 .8zM1174.8 1053.4l3.8-1l3.8 1zM1188.8 1053.4l1.8-.4l1.5 .2l1.5-.1l5-.9l6.2 1.2zM1212.4 1053.4l2.2-.3l2.8 .3zM1229.4 1053.4l6.7-1.5l1 .1l6.3 1.4zM1245.4 1053.4l2.7-.6l2.3 .6zM1252.8 1053.4l2.8-.6l2.8 .6zM1261.8 1053.4l1.3-.3l1.7 .3zM1268.4 1053.4l2.7-.5l3.3 .5zM1284.8 1053.4l1.3-.3l1.3 .3z"/>
<path fill="#99A800" d="M1102.4 1076.2l2.7-1l.5 0l2.8 1zM1110.4 1076.2l3.7-1.2l.5 0l3.8 1.2zM1135.4 1076.2l2.2-.3l2.8 .3zM1142.4 1076.2l1.7-.7l2.5-2l2.5-7.7l.5 0l.5 .3l1-6.4l.5-1.6l.5 1.5l.5-.2l.5-2.3l.5 1l1.5 11.5l.5 .1l2 4.4l.5 .6l1-1.3l1.5-2.5l.5-.4l.5 .3l1 1.2l.5-.3l.5-1l1-.8l1-2.1l1-1l.5-.2l.5 .5l2 3.8l.5-.2l.5 .5l2 3.3l1 0l1.5 1l.5 .2l3-1.3l1 .3l1.5 .8l1.7 .7zM1184.4 1076.2l1.7-.5l2 .3l1-.1l1.5-.5l2.5-1.4l1.5-.2l2-5.4l.5-.9l.5 .6l.5 1.2l1-1.7l.5-.1l.5 .7l1.5 4.3l.5-.1l.5 .2l2 2.7l1.8 .9zM1210.8 1076.2l3.8-.8l4.2 .8zM1219.8 1076.2l2.3-.5l1.7 .5zM1225.4 1076.2l2.2-.7l2.5-1.3l.5-.1l1 .3l.5-.5l2-3.4l.5 0l.5 .6l1.5-2.3l1.5 3.6l1 .1l.5 .4l1.5 1.6l1 .8l2.3 .9zM1244.8 1076.2l3.3-1l2.7 1zM1251.4 1076.2l3.2-.5l3.8 .5zM1266.8 1076.2l1.8-.7l2.5-1.3l3 1.5l1.7 .5zM1300.8 1076.2l2.3-.3l2.7 .3zM1311.8 1076.2l2.8-.3l2.8 .3zM1331.8 1076.2l2.8-.3l2.8 .3z"/>
<path fill="#53B400" d="M1101.4 1099l2.2-.4l2 .2l.2 .2zM1113.4 1099l1.7-.4l1.7 .4zM1117.8 1099l1.3-.3l1 .1l.3 .2zM1130.8 1099l1.3-.3l1.3 .3zM1140.8 1099l1.3-.4l1.3 .4zM1145.8 1099l3.3-1l3.7 1zM1156.4 1099l1.2-.4l1.8 .4zM1160.8 1099l2.3-.5l3.5-1.3l1 .1l3 1.2l1.5 0l1.7 .5zM1184.8 1099l1.3-.6l.5 0l1.2 .6zM1189.8 1099l2.3-.8l1.5 .4l1.5-.2l1.7 .6zM1198.8 1099l.3-.3l1.5-.5l1.8 .8zM1212.8 1099l1.8-.4l2.2 .4zM1230.4 1099l4.2-1.2l3 .7l1.5-.6l2.7 1.1zM1247.4 1099l1.7-.4l1 .2l.3 .2zM1268.8 1099l2.3-.8l.5 0l2.2 .8zM1281.4 1099l1.7-.3l2.3 .3zM1306.4 1099l2.7-.3l2.3 .3z"/>
<path fill="#00BC56" d="M1103.8 1121.8l1.3-.4l1.7 .4zM1112.8 1121.8l.3-.2l1.5-.2l1.8 .4zM1123.8 1121.8l2.8-.3l2.2 .3zM1145.4 1121.8l1.7-.5l1.5-.7l1.5-.3l2-.5l1 .1l3 1.2l2.7 .7zM1160.4 1121.8l2.7-.8l1.5-.1l2-.4l5.8 1.3zM1174.8 1121.8l2.8-.5l2.8 .5zM1185.4 1121.8l.7-.4l1 .2l.3 .2zM1192.8 1121.8l4.8-1l5.2 1zM1213.8 1121.8l.8-.4l1 .2l.2 .2zM1229.8 1121.8l6.3-1.2l6.3 1.2zM1246.8 1121.8l.3-.2l2-.2l2.3 .4zM1269.4 1121.8l1.7-.5l2.3 .5zM1280.8 1121.8l2.3-.3l2.7 .3zM1303.8 1121.8l2.3-.3l2.3 .3zM1324.4 1121.8l1.7-.4l1 .2l.3 .2zM1331.4 1121.8l1.7-.4l1.5 .2l.2 .2z"/>
<path fill="#00C094" d="M1103.4 1144.6l1.7-.4l2.3 .4zM1111.4 1144.6l3.2-.6l2.8 .6zM1118.8 1144.6l1.8-.4l1.5 .2l.3 .2zM1144.8 1144.6l3.8-1.4l1.5 .2l2-.5l5.5 1.4l3-.3l2.5 .2l3-.7l1-.1l5.3 1.2zM1175.8 1144.6l.3-.2l3-.4l3.7 .6zM1191.8 1144.6l2.8-.8l2 .3l2.5-.5l4.3 1zM1212.8 1144.6l1.8-.4l2.2 .4zM1229.8 1144.6l3.3-1l.5 0l1.5 .4l2.5-.7l4.8 1.3zM1247.4 1144.6l1.7-.4l1.7 .4zM1268.8 1144.6l3.3-.4l2.7 .4z"/>
<path fill="#00BFC4" d="M1103.8 1167.4l1.3-.3l1.7 .3zM1110.4 1167.4l3.7-1.2l1 .1l3.3 1.1zM1144.4 1167.4l3.2-1.4l.5 0l1 .4l3-.8l1 .2l3.5 1.2l1.5 .2l2.5-.5l2.5 .3l3-.8l1-.1l2.5 .6l1-.1l.5 .1l1.7 .7zM1176.8 1167.4l2.3-.4l2.7 .4zM1192.4 1167.4l2.2-.5l3 .3l3-.4l3.8 .6zM1229.8 1167.4l6.3-1.2l6.7 1.2zM1247.4 1167.4l1.7-.3l1.7 .3zM1254.8 1167.4l1.3-.3l1.3 .3zM1269.8 1167.4l2.3-.4l1.7 .4z"/>
<path fill="#00B6EB" d="M1098.4 1190.2l2.2-.3l2.8 .3zM1112.4 1190.2l2.7-.3l2.7 .3zM1145.4 1190.2l2.2-1.3l.5 0l1 .6l.5 0l2-.8l2.5 1.1l1.5-.6l2 .8l2-.8l2 .8l2.5-1l1.5 .5l2-1l.5 .1l2 1.1l1.7 .5zM1176.4 1190.2l2.2-.7l2.2 .7zM1188.4 1190.2l1.7-.5l1.7 .5zM1192.8 1190.2l1.3-.7l.5 0l1.2 .7zM1197.4 1190.2l.2-.2l1.5-.3l2.3 .5zM1219.4 1190.2l1.2-.5l1-.2l2.2 .7zM1230.8 1190.2l3.3-1.3l.5 .1l1.5 .7l2-.8l3.3 1.3zM1243.4 1190.2l1.2-.6l.5 .1l1.3 .5zM1247.8 1190.2l1.8-.7l.5-.1l1.7 .8zM1252.8 1190.2l2.8-1.7l2.8 1.7zM1263.4 1190.2l1.2-.5l1 .3l.2 .2zM1269.8 1190.2l1.3-.3l1.7 .3zM1274.8 1190.2l1.3-.3l1.3 .3zM1303.8 1190.2l2.3-.3l2.3 .3z"/>
<path fill="#06A4FF" d="M1100.8 1213l2.8-.3l2.8 .3zM1111.4 1213l.2-.1l3.5-.2l3.7 .3zM1140.4 1213l2.2-.4l2.5-.2l1.5-1.2l1.5-1.5l.5 .1l.5 .5l1-.8l1.5-1.4l1-.5l4.5 4.2l2.5-2.9l1 .4l1-1.8l.5 .2l1.5 3l.5 .3l1-.5l1.5 1l1-.6l.5 .1l1.5 .9l1-.3l2.8 1.4zM1176.4 1213l.2-.1l2.5-.3l3.3 .4zM1192.8 1213l2.8-.9l1-.1l1 .2l1-.5l1-.1l3.8 1.4zM1212.4 1213l2.2-.3l2.8 .3zM1229.4 1213l3.7-1.2l.5-.1l1.5 .5l2.5-.7l3.5 1.2l2.5-.2l2.2 .5zM1267.4 1213l1.2-.4l1 0l1.5-.8l.5 .1l2.2 1.1zM1298.4 1213l.2-.1l4.5-.2l5.3 .3z"/>
<path fill="#A58AFF" d="M1087.8 1235.8l.8-.3l1-.1l1.2 .4zM1091.8 1235.8l1.8-.5l1.8 .5zM1100.4 1235.8l1.7-.5l1 .1l2-1l.5 0l2 1l1.2 .4zM1109.8 1235.8l2.3-.8l1.5 .2l1.5-.6l2.7 1.2zM1138.8 1235.8l2.8-.4l2 0l1-1.1l1-1.9l1-2.6l.5-.6l.5-1.3l1-6l.5-1.4l.5 .2l.5 1.7l1-5.4l.5-1.2l.5 1.8l1-3.1l1 10.6l.5 2.6l.5 .2l2 6l1.5 .4l1.5-1.7l1-.8l.5 .1l1.5 1.2l2.5-3.8l1-1l.5-.1l.5 .5l1.5 2.3l1 .6l2 2.9l.5 0l2.5 1.1l3.5-.8l3.8 1zM1183.4 1235.8l2.7-.6l3 .5l1-.3l2-1l1-.1l2-4.3l1-.7l1.5-7.4l.5 .2l.5 1.8l1-2.5l.5 1.1l1 4.8l.5-.9l.5 1l1.5 5.6l2 2.3l.8 .5zM1210.4 1235.8l4.2-.8l5 .7l4-.4l3 .4l1-.4l1.5-1l1.5-.8l1.5-5.3l.5-1l.5 .8l1-5.3l.5 .6l.5 2.6l.5-2.6l.5 1.9l1-3l.5 2.2l.5 3.7l.5 1.4l.5-.8l.5 .2l2 4.8l1 .2l1.5 1.4l1 .4l3-.9l2.7 1zM1252.4 1235.8l3.2-.8l3.2 .8zM1260.8 1235.8l2.3-.7l2.5 .5l2-.6l1.5 .3l2.5-1.4l.5 0l2 1.2l1 .4l2.5-.2l2.8 .5zM1290.8 1235.8l3.8-.5l4.2 .5zM1303.4 1235.8l4.2-.5l3.5 .4l.3 .1zM1324.4 1235.8l1.7-.5l1.7 .5zM1332.4 1235.8l2.2-1l2.8 1zM1340.4 1235.8l1.2-.3l1 .1l.2 .2z"/>
<path fill="#DF70F8" d="M1103.8 1258.6l1.3-.3l1.7 .3zM1112.4 1258.6l1.7-.4l1.7 .4zM1143.8 1258.6l3.3-1.3l1.5-2l1 .7l1-2.2l.5-.4l.5 .8l.5-.2l.5-1.7l.5-.4l1.5 4.7l.5 0l1.5 1.5l.5 .3l3.5-.8l2.5 .4l3.5-1.3l6.8 1.9zM1176.4 1258.6l2.7-.5l2.7 .5zM1192.4 1258.6l6.2-1.2l6.2 1.2zM1228.8 1258.6l2.8-.7l2 .2l2.5-.8l4.7 1.3zM1247.8 1258.6l1.3-.3l1.3 .3zM1269.4 1258.6l1.7-.4l2.3 .4z"/>
<path fill="#FB61D7" d="M1114.8 1281.4l1.3-.6l.5-.1l1 .5l.5 0l1-.5l1.5 .4l1-.5l1.8 .8zM1144.8 1281.4l1.3-.9l.5 0l1.5 .8l1.5-.8l1.5 .4l1-.6l1.5 .9l1.5-.7l1.7 .9zM1158.4 1281.4l1.7-1l1 .6l1-.5l.5 0l1.2 .9zM1165.4 1281.4l1.7-.9l1 .4l.5 0l1-.9l.5 .1l1 1l.7 .3zM1176.4 1281.4l1.2-.7l.5 0l1.3 .7zM1183.8 1281.4l.8-.4l.5 0l.7 .4zM1190.4 1281.4l1.7-.8l1 .5l1.5-.2l.8 .5zM1200.4 1281.4l.7-.6l.5-.1l1.2 .7zM1211.4 1281.4l1.2-.7l.5 0l1.3 .7zM1216.8 1281.4l.8-.5l1.2 .5zM1221.8 1281.4l.8-.5l.5 0l.7 .5zM1227.4 1281.4l1.2-.6l1.2 .6zM1231.8 1281.4l1.3-.7l.5 0l1.2 .7zM1235.8 1281.4l1.3-.8l1.3 .8zM1255.4 1281.4l.7-.5l1.3 .5zM1258.8 1281.4l1.3-.8l.5-.1l1.8 .9zM1264.4 1281.4l.7-.5l.5 0l.8 .5zM1268.8 1281.4l.8-.4l.5 0l.7 .4zM1276.8 1281.4l.8-.4l.8 .4zM1289.8 1281.4l1.8-.7l.5 0l1.7 .7zM1295.4 1281.4l3.2-.7l2.5 .5l.5 0l1.5-.5l.5 0l1.8 .7zM1311.4 1281.4l1.7-.4l2.3 .4zM1318.8 1281.4l.8-.5l.5 0l.7 .5z"/>
<path fill="#FF66A8" d="M1103.4 1304.2l1.7-.2l2.3 .2zM1111.4 1304.2l2.7-.4l3.3 .4zM1144.8 1304.2l1.3-.5l1.5-1l1 0l1-.9l.5-.1l1 1l1-1l.5 .3l1-1.4l1 2.2l.5 .1l.5-.2l1.5 1.3l3.5-.8l2.5 .5l3-1l1-.1l2.5 .7l1-.3l2.8 1.2zM1174.4 1304.2l3.2-.9l3.8 .9zM1184.8 1304.2l1.3-.2l1.7 .2zM1191.4 1304.2l3.2-.9l2 .2l2-.9l2.5 1.1l1.5-.5l2.8 1zM1228.4 1304.2l3.2-.9l.5 0l1.5 .4l.5-.2l1.5-1l1 .4l1-.7l.5 .3l1 1l.5 .1l1-.3l2.2 .9zM1269.4 1304.2l1.7-.3l2.3 .3zM1333.4 1304.2l1.2-.2l1.2 .2z"/>
<path d="M1085.5 1364.6H1347.4" stroke="#3434ac" stroke-width="1" fill="none"/>
<path fill="#12128f" d="M1085.3 1361.9l3.3 2.7l-3.3 2.7l1-2.7zM1090.5 1361.9l3.3 2.7l-3.3 2.7l1-2.7zM1095.7 1361.9l3.3 2.7l-3.3 2.7l1-2.7zM1100.9 1361.9l3.3 2.7l-3.3 2.7l1-2.7zM1106.1 1361.9l3.3 2.7l-3.3 2.7l1-2.7zM1111.3 1361.9l3.3 2.7l-3.3 2.7l1-2.7zM1116.5 1361.9l3.3 2.7l-3.3 2.7l1-2.7zM1121.7 1361.9l3.3 2.7l-3.3 2.7l1-2.7zM1126.9 1361.9l3.3 2.7l-3.3 2.7l1-2.7zM1132.1 1361.9l3.3 2.7l-3.3 2.7l1-2.7zM1137.3 1361.9l3.3 2.7l-3.3 2.7l1-2.7zM1142.5 1361.9l3.3 2.7l-3.3 2.7l1-2.7zM1147.7 1361.9l3.3 2.7l-3.3 2.7l1-2.7zM1152.9 1361.9l3.3 2.7l-3.3 2.7l1-2.7zM1158.1 1361.9l3.3 2.7l-3.3 2.7l1-2.7zM1163.3 1361.9l3.3 2.7l-3.3 2.7l1-2.7zM1168.5 1361.9l3.3 2.7l-3.3 2.7l1-2.7zM1173.7 1361.9l3.3 2.7l-3.3 2.7l1-2.7zM1178.9 1361.9l3.3 2.7l-3.3 2.7l1-2.7zM1184.1 1361.9l3.3 2.7l-3.3 2.7l1-2.7zM1189.3 1361.9l3.3 2.7l-3.3 2.7l1-2.7zM1194.5 1361.9l3.3 2.7l-3.3 2.7l1-2.7zM1199.7 1361.9l3.3 2.7l-3.3 2.7l1-2.7zM1204.9 1361.9l3.3 2.7l-3.3 2.7l1-2.7zM1210.1 1361.9l3.3 2.7l-3.3 2.7l1-2.7zM1215.3 1361.9l3.3 2.7l-3.3 2.7l1-2.7zM1220.5 1361.9l3.3 2.7l-3.3 2.7l1-2.7zM1225.7 1361.9l3.3 2.7l-3.3 2.7l1-2.7zM1230.9 1361.9l3.3 2.7l-3.3 2.7l1-2.7zM1236.1 1361.9l3.3 2.7l-3.3 2.7l1-2.7zM1241.3 1361.9l3.3 2.7l-3.3 2.7l1-2.7zM1246.5 1361.9l3.3 2.7l-3.3 2.7l1-2.7zM1251.7 1361.9l3.3 2.7l-3.3 2.7l1-2.7zM1256.9 1361.9l3.3 2.7l-3.3 2.7l1-2.7zM1262.1 1361.9l3.3 2.7l-3.3 2.7l1-2.7zM1267.3 1361.9l3.3 2.7l-3.3 2.7l1-2.7zM1272.5 1361.9l3.3 2.7l-3.3 2.7l1-2.7zM1277.7 1361.9l3.3 2.7l-3.3 2.7l1-2.7zM1282.9 1361.9l3.3 2.7l-3.3 2.7l1-2.7zM1288.1 1361.9l3.3 2.7l-3.3 2.7l1-2.7zM1293.3 1361.9l3.3 2.7l-3.3 2.7l1-2.7zM1298.5 1361.9l3.3 2.7l-3.3 2.7l1-2.7zM1303.7 1361.9l3.3 2.7l-3.3 2.7l1-2.7zM1308.9 1361.9l3.3 2.7l-3.3 2.7l1-2.7zM1314.1 1361.9l3.3 2.7l-3.3 2.7l1-2.7zM1319.3 1361.9l3.3 2.7l-3.3 2.7l1-2.7zM1324.5 1361.9l3.3 2.7l-3.3 2.7l1-2.7zM1329.7 1361.9l3.3 2.7l-3.3 2.7l1-2.7zM1334.9 1361.9l3.3 2.7l-3.3 2.7l1-2.7zM1340.1 1361.9l3.3 2.7l-3.3 2.7l1-2.7z"/>
<path fill="#0a0a8c" d="M1160.8 1360.0h3.4v9.2h-3.4zM1208.9 1360.0h0.8v9.2h-0.8zM1236.2 1360.0h6.2v9.2h-6.2zM1256.0 1360.0h2.4v9.2h-2.4zM1261.9 1360.0h2.0v9.2h-2.0zM1265.5 1360.0h4.8v9.2h-4.8zM1273.3 1360.0h4.5v9.2h-4.5zM1296.8 1360.0h5.0v9.2h-5.0zM1309.6 1360.0h19.8v9.2h-19.8z"/>
<path d="M1375.2 1007.9h285.5M1375.2 1030.7h285.5M1375.2 1053.5h285.5M1375.2 1076.3h285.5M1375.2 1099.0h285.5M1375.2 1121.8h285.5M1375.2 1144.6h285.5M1375.2 1167.4h285.5M1375.2 1190.2h285.5M1375.2 1213.0h285.5M1375.2 1235.7h285.5M1375.2 1258.5h285.5M1375.2 1281.3h285.5M1375.2 1304.1h285.5" stroke="#cccccc" stroke-width="1.3" fill="none"/>
<path fill="#F8766D" d="M1390 1008.5l.2-.1l2-.1l2.8 .2zM1397 1008.5l1.7-.8l1-1.1l1.5-3l1.5-4.2l.5-.5l1.5 2.5l.5 .1l.5-.6l.5 .1l2 4.1l.5-.3l.5 .2l1.5 1.6l.5 .2l3-4.9l1.5-4l.5-.9l1-1l.5 .1l1 1.3l2.5 6l1 1.8l1 1.1l1.5-1l1-.2l1-.6l2-.6l2 .8l1.5 .9l1-.5l.5 0l2 .8l2 0l2.5 1.2l1.5 .6l3.5-.5l3 .4l2-.3l2.5-.1l6 .9l6 0l9.3 .4zM1476.4 1008.5l2.3-.5l3-1.2l1-.2l1 .1l3 1.2l2.7 .6zM1497.4 1008.5l9.3-1.2l8 1.1l4.5-.8l5 .7l2-.4l4-1.7l1-.1l1.5 .4l2.5 1.1l2 .6l1 .1l3.5-.8l4.3 1zM1546.4 1008.5l5.3-.5l4 .2l1-.1l2-.6l3.5-2.3l1-.4l1.5 .5l3.5 2.3l2 .6l2-.4l4.5-1.8l1 .2l4 1.7l1-.3l2-1.1l1.5-1.2l1.5-.6l.5 .1l3 2.2l1.5 .8l3-.1l7.3 .8z"/>
<path fill="#E38900" d="M1396 1031.3l2.7-1l2-1.2l1-.1l2.5-1.8l.5 .1l3 2.1l1.5-.2l1.5 .9l1-1.1l2.5-4.1l3-5.5l.5 .2l4 7.8l1.5 2l1.5-.7l3-2.2l.5-.2l.5 0l1.5 .6l2.5 1.7l1-.2l1.5 .7l1-.4l1 0l3.5 1.3l3-1.4l1.5 .3l2-2.1l.5-.3l.5 0l1 .6l.5-.1l1.5-2.5l1.5-1.1l.5 0l.5 .4l2.5 3.4l.5 0l1-.6l.5 0l2.5 2.4l1 .8l1 0l3.5 1.3l1.5 0l4.5-.6l5 .5l1.5-.4l3-1.7l1-.3l1 .2l4.5 2.1l1.8 .4zM1499.4 1031.3l1.8-.7l2.5-1.8l.5 .1l1 .8l1.5-1.5l.5-.2l1.5 1.4l.5-.1l1-1.1l.5-.3l.5 .2l1.5 1.5l.5-.1l1.5-1.6l.5-.2l1 .8l.5 0l1.5-1.5l1-.6l.5 0l1 .7l3 3l1 .6l2-.5l3-1.9l1.5-.3l2 .7l3 1.7l1.5 .5l1 0l2-.7l1-.2l3 .9l1.5 .3l5-.7l4 .6l1.5-.4l1.5-.7l5-4.1l.5 0l1 .7l3.5 3.3l1.5 .7l2-.8l1-.1l3.5-2.2l.5 0l1 .3l2.5 1.6l.5-.1l1-1l.5-.2l1.5 .8l1-.9l2-2.4l.5-.3l.5 .1l1 .6l3 3.2l.5-.1l.5 .2l2 1.4l3.5-.2l5.8 .8zM1624 1031.3l2.2-.3l2.8 .3z"/>
<path fill="#C49A00" d="M1387.4 1054.1l1.3-.4l1-.2l1.7 .6zM1397.4 1054.1l2.3-.5l4.5-1.9l1 .1l2.5 1.2l2-.5l1.5 .4l.5-.3l2-2l1.5-2.1l2-2l.5 .2l1 1l3 3.9l1.5 1.3l2.5-1.8l.5 .1l2 .9l2.5-2.5l.5 0l.5 .4l1.5 1.6l1.5-1.3l.5-.2l1 .6l1 1.1l.5 .3l1-.8l1-.3l2.5 1.9l1.5-.4l2 .6l5.5-1.4l3 .3l2.5 .8l2 0l4 1.1l4-.4l3.3 .6zM1474 1054.1l3.7-1l2 .1l3-.9l3 .8l1 0l2.7 1zM1501.4 1054.1l4.8-1l3 .3l1.5-.4l3.5 1l5-.7l5.5 .7l6.5-.9l6 .9l4.5-1.1l3 .9l1.5 .2l5-.7l4 .6l1.5-.4l2.5-1l1 .1l2-1l1-.3l1 .2l3 1.6l2 .5l2.5-.5l2 .2l3-.5l4.5 .8l3-1.4l2.5-1.8l1-.2l3.5 2.4l3 1l.5 .1l3.5-.2l5.2 .6zM1606 1054.1l3.2-.5l3 .4l.2 .1zM1619 1054.1l4.7-.4l4 .3l.3 .1zM1637.4 1054.1l3.3-.4l3.3 .4z"/>
<path fill="#99A800" d="M1395 1076.9l4.2-.8l2 .1l3-.9l3 .7l2-.5l1.5 .2l.5-.3l2-3.2l.5-.5l1 .6l1.5-4.4l.5-.7l.5 .7l.5 0l.5-1.6l.5-.5l1.5 4.9l.5-.5l.5 .4l2 3.8l1-.6l1 .3l2-1.2l1.5-.3l1 .3l3 1.6l1-.2l1.5 .7l2.5 .1l3.5 1l2.5-.8l1.5 .4l.5-.2l2.5-2.1l1-.7l.5-.1l.5 .3l2 1.8l.5 0l2-.8l1 .3l2 1.4l2.5 .1l4 1l5-.3l7 .3l3-1.3l.5 .1l2-1.1l1-.3l2 .7l2.5 1.4l2.8 .7zM1498.4 1076.9l2.3-.8l2.5-1.6l.5-.1l1.5 .6l.5 0l2-1.7l.5 0l1.5 1.1l.5 .2l1-1l1-.6l.5 .2l1.5 1.5l.5 .2l1.5-1.8l.5-.1l.5 .4l1 1.3l.5 .1l1-1.2l.5-.2l.5 .3l1.5 1.5l1 .1l1.5 .9l1.5-.8l3.5-3.2l1.5-.4l1 .5l2 1.6l1 .6l1.5 1.4l2 .6l3-.6l3 .7l1.5 .2l5-.9l4.5 .7l1.5-.7l2-1.6l1 .1l1.5-1.2l1.5-.6l.5 0l1.5 .8l2 1.5l.5-.3l.5 .1l1.5 1l.5-.2l1.5-1.7l.5-.2l.5 .2l.5-.1l.5-.3l2-2.3l1-.3l1 .7l1 .3l.5-.7l.5-1.3l.5-.6l.5 .7l.5 1.2l.5-.5l1-3.4l.5-.2l.5 1l.5-.7l1-4.2l.5 .5l.5 1.8l1-6.4l.5 1.1l.5 3.4l.5 1.2l.5-1.5l.5 1l1 5.5l.5-.5l.5-.1l2 5.2l1-.5l.5 .1l3 1.9l4 .7l2 0l2.2 .4zM1641 1076.9l2.7-.3l2 .1l.3 .2z"/>
<path fill="#53B400" d="M1399 1099.7l4.7-.9l2.5 .3l3-.6l2.5 .1l2-1.3l1 .1l1.5-.9l1-.3l1.5 .4l2 1.3l3 1.4l1-.1l3-.8l1.5 .1l2 .6l2-.5l4-.4l4 .9l1.5-.1l2.7 .7zM1446 1099.7l6.2-.4l6.2 .4zM1477.4 1099.7l4.8-.8l4.8 .8zM1497 1099.7l3.7-.8l2 .2l4-.6l5 .9l3.5-.5l3.5 .4l2-.4l3.3 .8zM1525.4 1099.7l1.8-.8l2-1.3l.5 .1l1.5 1l.5 0l2-.7l3 1.1l2.5-.6l3 .7l3-.8l2.5 .7l3.5-.7l3.5 .8l3-1.2l1 .1l.5-.2l3-2.1l1-.4l.5 0l4.5 3.1l1 .5l1.5 .4l2.5-1.2l.5-.1l1 .4l1.5-.9l.5 0l2.5 1.6l1.5-.3l1.5 .4l5.5-1.6l3.5 1.1l1-.2l2.5 .8l2-.4l2.3 .7zM1623.4 1099.7l2.8-.4l3.2 .4zM1639.4 1099.7l1.3-.3l1.3 .3z"/>
<path fill="#00BC56" d="M1387 1122.5l2.7-.3l2.3 .3zM1395.4 1122.5l5.3-1.4l1.5 .1l2-.6l.5 0l2.5 .8l2-.7l.5-.1l1.5 .5l.5-.1l2-1.8l1 0l2-1.7l.5-.2l1 .3l.5 .3l1 1.2l3 2.1l.5 0l2.5-1.4l1-.3l2.5 1.1l1-.6l1-.1l2 1.1l1.5-1.1l1-.4l1 .4l1.5 1.1l1-.4l.5 .1l2 1.1l.5 .1l4.5-1.2l5 1.3l5-.8l5.5 1l5-.2l6.2 .5zM1477 1122.5l4.7-1.2l1.5-.1l5.8 1.3zM1500.4 1122.5l2.3-.6l2.5-1.1l1.5-.3l3 1.1l2-.2l4.3 1.1zM1517 1122.5l3.7-.6l3.7 .6zM1525.4 1122.5l5.3-1.3l5.3 1.3zM1538.4 1122.5l3.8-.8l4 .6l4.5-.8l3.5 .5l3.5-.9l1 0l1.5 .5l3.5-1.4l3.5 1.6l2 .5l2-.3l3.5-.7l6.5 1l2.5-.4l4-1.8l1 .3l3 1.3l1.5 .5l1.5 .1l3.5-.2l2.8 .4zM1639 1122.5l1.7-.3l1.7 .3z"/>
<path fill="#00C094" d="M1396 1145.3l4.7-1.1l1.5 .1l2-.6l1 .1l2 .6l2-.5l2 .3l2-2.1l.5-.2l.5 .2l2.5-2.1l.5-.2l1 .4l4.5 3.9l1-.4l2.5-1.8l.5-.1l2 1.2l.5-.1l1.5-.9l.5 0l2.5 2l1.5-.7l.5-.1l1.5 .4l1-.6l.5-.1l1.5 1.2l1.5 .8l1-.1l3-1.1l1-.2l2 .6l2.5-.4l4 1.2l3-.2l4.2 .6zM1463 1145.3l6.2-.4l6.2 .4zM1477 1145.3l5.7-1.3l5.7 1.3zM1495.4 1145.3l2.3-.3l4.5 .1l7-.8l8.8 1zM1524 1145.3l6.7-1.2l6.7 1.2zM1542.4 1145.3l3.8-.8l2.5 .3l3.5-.8l4 .8l1-.4l2.5-1.7l2.5-2.2l1-.5l.5 .1l1.5 1l4 3.2l1.5 .5l4.5-.8l4 .8l2 .2l2-.5l2.5-1.2l2-.5l4 1.6l1 .1l2.7 .8zM1624.4 1145.3l1.8-.2l2.2 .2z"/>
<path fill="#00BFC4" d="M1387 1168l2.7-.3l2.3 .3zM1396.4 1168l4.3-.7l4.5 .5l3.5-.7l2.5-.1l1-.9l1-1.2l1-.7l2.5-3.1l.5-.3l.5 0l4 4.8l1.5 1.3l1-.6l2-1.8l.5-.2l1.5 .6l1.5-1.3l.5-.1l2.5 2.5l1.5-.7l1.5 .5l2-.1l6 1.9l6-.6l8 .9l6-.7l5.7 .8zM1477 1168l5.7-1.2l5.7 1.2zM1496 1168l12.7-1.2l9.5 .8l3-.1l3.5 .4l6.5-.9l6.2 1zM1538 1168l8.2-.9l6.5 .7l1.5 0l3.5-1.2l1.5 .2l2-1.8l1-.6l.5 .1l1.5 1.3l.5 .3l1-.6l.5 .1l2 1.6l1.5 .6l2.5-.3l4.5-1.2l4.5 1.1l2-1l1 0l2.5-1.5l1-.2l1 .3l3 1.9l2.5 .8l4-.2l4.8 .5zM1636 1168l1.7-.3l2.3 .3z"/>
<path fill="#00B6EB" d="M1394 1190.8l2.7-.4l2.3 .4zM1401.4 1190.8l2.3-1l1 .3l.5-.1l1-.8l.5-.1l2 1.3l2-1.6l.5 .1l1 .6l1.5-1.6l1 .9l.5-.2l1-1.8l.5-.2l1.5 2.4l1-.7l.5 .1l2 1.9l.5 0l.5-.2l2-1.6l.5-.2l1.5 .9l1.5-2l.5-.4l.5 .2l2 2.3l1-.7l.5 .1l1 .9l.5-.3l1.5-1.8l.5-.2l1.5 1.8l1-.8l.5 .1l1.5 1.7l1.3 .7zM1443.4 1190.8l2.8-.7l1 0l2 .5l3-.6l3.2 .8zM1458.4 1190.8l2.3-.4l2.7 .4zM1469 1190.8l3.2-.5l3 .4l.2 .1zM1478 1190.8l2.7-1.3l1 .3l.5-.2l1.5-1.5l1.5 1.5l1 0l1.8 1.2zM1499.4 1190.8l2.8-1.2l1.5 .6l1.5-.4l1.5 .7l.5 .1l2-.7l.5 0l1.5 .6l.5 .1l1-.4l1.7 .6zM1516 1190.8l3.2-1l3.8 1zM1527 1190.8l1.7-.7l2-1.1l2 .9l1-.3l2.7 1.2zM1540.4 1190.8l3.3-1l2.5 .7l1-.2l2-.8l2 .7l2.5-.9l2.5 1.1l.5-.1l2.5-1.3l.5 .1l1.5 .6l1.5-1.3l.5 0l1.5 1.2l1.5-1l.5 0l1.5 1.2l1-.2l.5 .1l2.3 1.1zM1573.4 1190.8l2.3-.6l1-.2l2.7 .8zM1582 1190.8l1.2-.6l1.5-1.3l.5-.1l1 .7l1.5-.9l.5 .1l1.5 1l.5 .2l1.5-1l.5-.1l2.5 1.4l.5 .1l1-.6l.5 0l1.7 1.1z"/>
<path fill="#06A4FF" d="M1395.4 1213.6l3.8-.8l1.5 .1l3.5-1.3l1 0l2 .7l1.5-.6l.5 0l1.5 .5l2-2.5l.5-.3l.5 .2l.5-.2l2.5-3.5l.5-.3l.5 0l.5 .3l1.5 2.3l2.5 3.2l.5 .5l.5 .2l2.5-2.1l.5-.1l1 .5l2-1.9l.5 0l2 2.4l.5 .3l1.5-.9l.5 .2l1.5 1.2l1.5-.2l3 .9l2-.5l2 .6l3.5-2.5l.5-.1l.5 .3l1 .7l.5-.1l1-.8l1-.5l1 .4l2 1.7l1.5-.1l4 1.6l3.5 0l4.8 .5zM1470 1213.6l4.7-.5l4.5 .3l4-.6l4.8 .8zM1489 1213.6l3.2-.4l3.2 .4zM1497 1213.6l6.7-1.3l3 .5l4-.9l1.5 .2l3 .9l3-.6l3 .8l2 .3l1.5-.3l3-1l3.5-.7l3.5 1.1l1.5 0l2 .6l3.5-.8l3 .8l3.5-.8l4.2 1.2zM1554 1213.6l1.7-.7l2-1.2l1 .2l1-.3l2.5-2l1-.5l.5 .1l1 .5l2 1.4l.5-.1l2.5 1.8l2.5-1.4l1.5 .7l2-2.1l.5 .1l1.5 1.6l1.5-2l.5-.1l1.5 1.5l.5-.3l1-1.7l.5-.1l1 1.2l1.5-3.1l.5-.2l.5 .1l.5-1.7l.5-.5l1.5 4.1l.5-.3l.5 .3l1.5 2.5l.5 .6l1.5-.4l2.5 1.1l2.5 .1l5.3 .8zM1606.4 1213.6l2.8-.3l2.8 .3zM1622.4 1213.6l3.8-.3l4.2 .3z"/>
<path fill="#A58AFF" d="M1396 1236.4l4.7-.8l4 .5l4.5-1l2 .1l2-2.3l.5-.4l.5 .2l2-2l1-.6l.5 0l.5 .4l2 2.1l1 .5l1.5 1.5l.5-.1l2.5-2.7l.5-.2l1 .8l.5-.2l1.5-1.9l1 .7l1.5 2.2l.5 .1l1.5-1.1l.5 .1l2 2.1l1.5-.5l.5 0l2.5 1.3l1.5-.5l1.5 .4l1-.6l1-.9l1-.4l1.5 .5l2-2.1l.5-.2l1.5 .8l1.5 1.7l.5 .1l1-.2l3 1.8l3-.2l5.5 .8l6-.6l5 .6l1.5-.2l3-.8l4.2 1.2zM1498.4 1236.4l5.3-1.2l3.5 .7l3.5-1.4l1 .2l2 .8l1.5-.4l1.5 .5l3-.4l4 .9l1.5-.4l1-.6l1.5-1.4l3.5-1.6l.5 .2l3.5 2.4l2 1l1.5 .4l1-.3l2.5-1.4l2.5 1.3l2-.3l3.5 .8l3.5-.6l2.5 .3l1-.6l1.5-1.4l.5-.3l.5 0l.5-.1l1.5-1.3l1.5-1l.5 .1l5 3.8l1 .5l2.5-1.7l1 .5l1.5-1.7l.5-.1l2 2.1l1-1.4l.5 0l1 1.3l.5 .1l1.5-1.8l.5-.2l1.5 1.5l.5-.3l1.5-2.9l.5 0l.5 .8l1-2.3l.5 .2l1 2.9l.5 .8l1-.8l2.5 2.7l.5 .1l1.5-.3l4.2 1.3zM1600.4 1236.4l3.3-.4l2.5 .2l.2 .2zM1635.4 1236.4l2.3-.3l2.7 .3z"/>
<path fill="#DF70F8" d="M1388 1259.2l1.7-.4l1.3 .4zM1396 1259.2l3.2-1.2l2 .4l2.5-1.9l.5 .1l1 .8l1.5-.8l2 1.3l2-1.8l1 .1l1.5-3.2l.5-.7l.5 .4l.5 .8l.5-.9l1-3.6l.5-.8l1 1.6l.5-2.2l.5-.7l1 4.4l.5 1.1l.5-.7l.5 .3l1.5 4l.5 .1l.5-.2l1.5 1.2l.5 .1l2-.9l.5-.1l1.5 .6l1 .7l.5 0l1.5-1.1l1-.2l1 .3l2 1.2l2.5-1.2l.5 0l2 1.1l1 .2l2.5-3.3l1.5-4.8l.5-.9l.5 .7l.5-1l1-3.6l.5-.6l.5 1.4l.5-.4l1-5l.5 1.1l.5 .2l.5-3.6l.5 .5l1 6.9l1-5.1l.5 1.9l.5 3.2l.5-.2l.5-2.3l.5-.5l1 5.6l.5 .7l.5-1l.5 .6l1 3.9l1 .2l2 4.2l1-.4l.5 0l2 1.3l2.5-1.2l3 1.5l1.5-.8l1 .4l.5 .1l1.5-2.4l.5-.2l.5 .4l1.5-5l.5 .3l.5 1.3l1-4.1l.5 .7l.5 2.1l.5 .7l.5-1.2l.5 1l1 3.7l.5 0l.5-.4l1.5 2.8l1 .5l1.5 1.2l.8 .3zM1493.4 1259.2l1.8-.4l1.5 .3l.5-.1l2-.8l1 .2l.5-.2l2-2l.5-.2l1 .8l.5 0l1.5-2.1l.5-.1l1.5 1.5l1.5-2.6l.5 0l1 1.1l1-2.2l.5 .7l1 2.8l1-1.1l.5-.2l1.5 2.2l1-1.6l.5 .1l1 1.5l1.5-2.5l.5 .3l1 2.1l.5 .2l1-.9l1.5 1.6l1.5-1.5l.5-.2l1 .8l1.5-.9l1.5-.4l1 .3l2 1.3l1.5 .2l1.5 1.1l1 .5l3-1.1l1 .1l2 .5l2-.7l.5 0l2.5 .9l.5 .1l2.5-.7l2.5 .7l.5-.1l2.5-2.1l.5 0l1 .7l.5-.4l1.5-2.7l.5 .1l.5 .8l.5-.6l.5-1.2l.5-.3l1.5 3.2l.5 0l.5-.3l.5 0l2 2.1l2-1.2l.5 .2l1 .6l1.5-2.4l.5-.5l.5 .2l.5 .7l.5-.6l1-2.5l.5-.2l1.5 3.6l.5 0l1-1.4l.5 .4l.5 .8l.5-.2l1-2l.5-.3l1 1.7l1.5-4.2l.5-.2l.5 1.2l.5-.7l.5-1.7l.5 .2l1 3.9l.5-1l.5-.5l.5 .9l1.5 3.9l.5 .4l1-.3l2.5 1.8l2 0l3 .3l2.5-.3l4 .7l3-.5l2.7 .6zM1621 1259.2l4.7-.8l4.7 .8zM1633 1259.2l4.7-.8l4.7 .8z"/>
<path fill="#FB61D7" d="M1390 1282l3.2-.7l3.2 .7zM1397.4 1282l1.3-.6l1.5-1l.5 .1l.5-.3l1.5-2.5l.5-.5l.5 .2l.5-.8l.5-1.5l.5 .2l1 3.1l.5-.8l.5-.2l.5 .6l1 1.9l.5 .5l.5 .1l1 .8l1.3 .7zM1412.4 1282l1.8-1.1l.5-.2l.5 .2l2-2.3l1 1.2l.5 .3l.5-.6l.5 .1l1 1.3l1.3 1.1zM1426 1282l1.7-.5l2 .2l2.5-.5l3.2 .8zM1436.4 1282l2.8-.6l3.2 .6zM1451 1282l1.2-.4l1.8 .4zM1457.4 1282l3.3-.8l3.3 .8zM1472 1282l1.7-.4l1.7 .4zM1479 1282l1.7-.4l1.5 .2l.2 .2zM1494.4 1282l2.3-.5l1.7 .5zM1506.4 1282l2.8-.8l3.2 .8zM1515 1282l1.7-.4l1.3 .4zM1523.4 1282l2.8-.6l2 .2l.5-.1l2-1.6l1 .3l1-1.3l.5 .4l1 1.5l.5 .1l1-.4l2.7 1.5zM1555.4 1282l2.3-.4l3 .2l1.5-.2l1.8 .4zM1572.4 1282l2.3-1l.5 0l1 .3l1.5-.6l.5 0l2.2 1.3zM1584.4 1282l2.3-.5l1.7 .5zM1628 1282l2.7-1l.5 0l2.8 1zM1636 1282l1.7-.5l1.7 .5zM1645 1282l1.2-.5l1.8 .5z"/>
<path fill="#FF66A8" d="M1390 1304.8l.2-.2l2-.1l2.8 .3zM1398 1304.8l1.2-.9l1.5-1.6l1-.2l1-2.2l.5-.8l.5 .5l.5-.1l.5-1.3l.5 .2l1 2.9l.5-.8l.5-.5l1.5 2.7l1-.1l1 .6l2-2.8l.5-.5l.5 .3l.5 .7l.5-.9l1-3l.5-.2l.5 1l.5-.5l.5-1.5l.5-.2l1.5 4.7l.5-.3l.5 .3l1.5 2.5l.5 0l1.5-.7l1.5 .5l2-1.8l.5-.3l.5 0l1 .5l2 1.8l1-.5l1-.2l1 .2l1 .5l2-.1l3.5 1.2l2.5-.4l4 .6l4.5-.6l7.5 1l4-.2l6 .3l2.5-.2l2.8 .4zM1477.4 1304.8l5.3-1l5.7 1zM1498.4 1304.8l8.3-.8l7.7 .8zM1515.4 1304.8l3.8-.6l3.5 .4l1.5-.1l2-.5l3.5-1.5l1.5-.3l1 .2l2.5 1.1l3 .9l1 .1l3-.4l3.7 .7zM1547.4 1304.8l4.3-.4l4.5 0l1-.4l2-1.3l1 .1l2.5-1.3l.5 0l1.5 .3l4 2.2l2 .5l1.5-.1l2.5-1.4l.5-.1l1 .4l1.5-1.1l.5 .1l2.5 1.9l1 .2l1-.5l2-1.6l.5 0l1 .2l1.5-1.6l.5 .2l2 2.2l1.5-.4l2.5 1.4l1 .3l3-.2l2.8 .4zM1612.4 1304.8l2.8-.2l2.8 .2z"/>
<path d="M1387.7 1364.9H1462.4" stroke="#3434ac" stroke-width="1" fill="none"/>
<path fill="#12128f" d="M1391.1 1362.2l-3.3 2.7l3.3 2.7l-1-2.7zM1396.3 1362.2l-3.3 2.7l3.3 2.7l-1-2.7zM1401.5 1362.2l-3.3 2.7l3.3 2.7l-1-2.7zM1406.7 1362.2l-3.3 2.7l3.3 2.7l-1-2.7zM1411.9 1362.2l-3.3 2.7l3.3 2.7l-1-2.7zM1417.1 1362.2l-3.3 2.7l3.3 2.7l-1-2.7zM1422.3 1362.2l-3.3 2.7l3.3 2.7l-1-2.7zM1427.5 1362.2l-3.3 2.7l3.3 2.7l-1-2.7z"/>
<path fill="#0a0a8c" d="M1429.5 1360.3h32.9v9.2h-32.9z"/>
<path d="M1672.0 1007.1h285.6M1672.0 1029.9h285.6M1672.0 1052.7h285.6M1672.0 1075.5h285.6M1672.0 1098.3h285.6M1672.0 1121.1h285.6M1672.0 1143.9h285.6M1672.0 1166.8h285.6M1672.0 1189.6h285.6M1672.0 1212.4h285.6M1672.0 1235.2h285.6M1672.0 1258.0h285.6M1672.0 1280.8h285.6M1672.0 1303.6h285.6" stroke="#d0d0d0" stroke-width="1.4" fill="none"/>
<path fill="#F8766D" d="M1723.2 1007.8l62.8-1l7-.3l9-1.7l5.5-2.1l1-.1l5-1.6l2-1l1 0l4-1.2l2.5 .3l1-.2l1 .3l2 .2l1.5 .6l3 .1l5 1.3l4 .2l2-.5l1.5 .8l5 1.8l5 .6l13.5 2.9l10 .2l6.3 .4z"/>
<path fill="#E38900" d="M1719.8 1030.6l72.2-.7l11.5-.6l17.5-1.5l23.5 .9l21.5 1.3l17.5 .3l3.3 .3z"/>
<path fill="#C49A00" d="M1766.2 1053.4l37.3-.8l18.5-1.2l10 .6l13.5 .1l12 .4l16.7 .9z"/>
<path fill="#99A800" d="M1803.8 1076.2l17.2-1l15 .8l13.5-.4l13.7 .6z"/>
<path fill="#53B400" d="M1794.2 1099l9.3-.4l9.3 .4zM1815.8 1099l10.2-.5l11 .4l7-.3l5.2 .4zM1861.2 1099l.3-.1l4.5-.2l5.2 .3z"/>
<path fill="#00BC56" d="M1773.2 1121.8l11.8-.3l15 .2l21-1.1l13 .7l10-.5l14 .8l9-.1l6.5 .2l.3 .1z"/>
<path fill="#00C094" d="M1773.2 1144.6l11.3-.2l16 0l6.5-.3l12-1l6.5 .2l8.5 .7l10-.3l16 .7l8 0l8.8 .2z"/>
<path fill="#00BFC4" d="M1784.8 1167.5l7.2-.2l7.8 .2zM1801.8 1167.5l18.2-1.3l2.5 0l11.5 .9l10-.2l13.8 .6z"/>
<path fill="#00B6EB" d="M1778.8 1190.3l.2-.2l1.5-.2l17-.2l8.5-.4l13.5-1.2l4-.7l4.5 1.1l11 1.3l4.5-.6l3.5 0l13.5 .8l25.5 .1l5.8 .2z"/>
<path fill="#06A4FF" d="M1737.2 1213.1l.3-.2l18.5-.1l22 .1l14-.4l9 .2l7.5-.5l4.5 .2l10-.9l11.5 1l9.5-.4l11 .6l6.5-.1l9.3 .5z"/>
<path fill="#A58AFF" d="M1777.2 1235.9l9.3-.2l9.3 .2zM1806.2 1235.9l17.3-.5l16.5 .3l13-.2l11.2 .4z"/>
<path fill="#DF70F8" d="M1721.2 1258.7l.3-.1l53.5-.4l24.5-.5l15-.6l7.5-.5l7 .6l14.5 .1l37 1.2l14.5-.1l6.8 .3z"/>
<path fill="#FB61D7" d="M1698.8 1281.5l.2-.2l1.5-.2l11.5 .1l11.5-.5l11-1.7l9-.9l2.5-.5l9 1.4l2.5 .2l4.5-.9l3-1.3l3.5-.4l3.5 .1l6 1.1l1.5-.1l5 .9l7.5 2.3l2.5-1.1l2-1.4l4-.9l4-1.6l4-1.1l2-1l2-.5l2-1l1.5-.3l1-.5l1-.2l3.5-3.9l2.5 1.9l3.5 1.2l1.5 1l2 .2l2 1l1.5 1.7l1.5 .3l1.5 .5l1-.2l2.5-1.5l1 .4l6 .8l2.5 .9l1-.3l1.5 .1l1 .8l2.5 1.4l9.5 2.5l6 .7l11.5 .3l3.7 .4zM1890.2 1281.5l4.8-.5l8.5 .4l.3 .1z"/>
<path fill="#FF66A8" d="M1700.2 1304.3l5.8-.4l11.5-.2l12 .2l14-.4l14-.8l5.5-1.3l4-.6l9-1.1l3 .1l1.5-.5l2-.2l1 .2l2.5 1.2l3 .6l3-.9l3 .4l8-3.4l4.5-2.4l3.5-2.9l1-1.1l1.5-1.1l.5-.2l1.5-2.2l1.5-1l1-1.5l2-.8l.5-.4l.5-.1l1.5 .4l1.5 1l.5 .7l.5 .2l1.5 .2l1 .8l.5 0l1 1.2l2 .9l2 .3l.5-.3l.5 0l2 .8l1-.1l2 .3l1.5-.2l1-1l.5-.1l2 2.9l4 3l1.5 .7l2.5-.3l1.5 .3l3 1.7l2.5 .5l1.5 .5l3 2.6l4.5 1.6l4 .7l14 1.2l9-.3l14.8 .6z"/>
<path d="M1682.5 1364.6H1944.4" stroke="#3434ac" stroke-width="1" fill="none"/>
<path fill="#12128f" d="M1682.3 1361.9l3.3 2.7l-3.3 2.7l1-2.7zM1687.5 1361.9l3.3 2.7l-3.3 2.7l1-2.7zM1692.7 1361.9l3.3 2.7l-3.3 2.7l1-2.7zM1697.9 1361.9l3.3 2.7l-3.3 2.7l1-2.7zM1703.1 1361.9l3.3 2.7l-3.3 2.7l1-2.7zM1708.3 1361.9l3.3 2.7l-3.3 2.7l1-2.7zM1713.5 1361.9l3.3 2.7l-3.3 2.7l1-2.7zM1718.7 1361.9l3.3 2.7l-3.3 2.7l1-2.7zM1723.9 1361.9l3.3 2.7l-3.3 2.7l1-2.7zM1729.1 1361.9l3.3 2.7l-3.3 2.7l1-2.7zM1734.3 1361.9l3.3 2.7l-3.3 2.7l1-2.7zM1739.5 1361.9l3.3 2.7l-3.3 2.7l1-2.7zM1744.7 1361.9l3.3 2.7l-3.3 2.7l1-2.7zM1749.9 1361.9l3.3 2.7l-3.3 2.7l1-2.7zM1755.1 1361.9l3.3 2.7l-3.3 2.7l1-2.7zM1760.3 1361.9l3.3 2.7l-3.3 2.7l1-2.7zM1765.5 1361.9l3.3 2.7l-3.3 2.7l1-2.7zM1770.7 1361.9l3.3 2.7l-3.3 2.7l1-2.7zM1775.9 1361.9l3.3 2.7l-3.3 2.7l1-2.7zM1781.1 1361.9l3.3 2.7l-3.3 2.7l1-2.7zM1786.3 1361.9l3.3 2.7l-3.3 2.7l1-2.7zM1791.5 1361.9l3.3 2.7l-3.3 2.7l1-2.7zM1796.7 1361.9l3.3 2.7l-3.3 2.7l1-2.7zM1801.9 1361.9l3.3 2.7l-3.3 2.7l1-2.7zM1807.1 1361.9l3.3 2.7l-3.3 2.7l1-2.7zM1812.3 1361.9l3.3 2.7l-3.3 2.7l1-2.7zM1817.5 1361.9l3.3 2.7l-3.3 2.7l1-2.7zM1822.7 1361.9l3.3 2.7l-3.3 2.7l1-2.7zM1827.9 1361.9l3.3 2.7l-3.3 2.7l1-2.7zM1833.1 1361.9l3.3 2.7l-3.3 2.7l1-2.7zM1838.3 1361.9l3.3 2.7l-3.3 2.7l1-2.7zM1843.5 1361.9l3.3 2.7l-3.3 2.7l1-2.7zM1848.7 1361.9l3.3 2.7l-3.3 2.7l1-2.7zM1853.9 1361.9l3.3 2.7l-3.3 2.7l1-2.7zM1859.1 1361.9l3.3 2.7l-3.3 2.7l1-2.7zM1864.3 1361.9l3.3 2.7l-3.3 2.7l1-2.7zM1869.5 1361.9l3.3 2.7l-3.3 2.7l1-2.7zM1874.7 1361.9l3.3 2.7l-3.3 2.7l1-2.7zM1879.9 1361.9l3.3 2.7l-3.3 2.7l1-2.7zM1885.1 1361.9l3.3 2.7l-3.3 2.7l1-2.7zM1890.3 1361.9l3.3 2.7l-3.3 2.7l1-2.7zM1895.5 1361.9l3.3 2.7l-3.3 2.7l1-2.7zM1900.7 1361.9l3.3 2.7l-3.3 2.7l1-2.7zM1905.9 1361.9l3.3 2.7l-3.3 2.7l1-2.7zM1911.1 1361.9l3.3 2.7l-3.3 2.7l1-2.7zM1916.3 1361.9l3.3 2.7l-3.3 2.7l1-2.7zM1921.5 1361.9l3.3 2.7l-3.3 2.7l1-2.7zM1926.7 1361.9l3.3 2.7l-3.3 2.7l1-2.7zM1931.9 1361.9l3.3 2.7l-3.3 2.7l1-2.7zM1937.1 1361.9l3.3 2.7l-3.3 2.7l1-2.7z"/>
</svg>
<div class="t" style="left:16.3px;top:251.1px;font-size:28px;transform-origin:50% 50%;transform:translate(-50%,-50%) rotate(-90deg) scaleX(.79)">number peaks</div>
<div class="t" style="left:1.48px;top:-7px;font-size:64px;transform:scaleX(1.0287)">A</div>
<div class="t" style="left:1053.61px;top:-7px;font-size:64px;transform:scaleX(0.9476)">B</div>
<div class="t" style="left:8.32px;top:510px;font-size:64px;transform:scaleX(0.9330)">C</div>
<div class="t" style="left:32.84px;top:88px;font-size:28px;transform:scaleX(0.7928)">7500</div>
<div class="t" style="left:33.20px;top:187px;font-size:28px;transform:scaleX(0.7871)">5000</div>
<div class="t" style="left:31.25px;top:286px;font-size:28px;transform:scaleX(0.7863)">2500</div>
<div class="t" style="left:70.31px;top:387px;font-size:28px;transform:scaleX(0.7792)">0</div>
<div class="t" style="left:99.80px;top:422px;font-size:28px;transform:scaleX(0.7973)">RPCs</div>
<div class="t" style="left:184.28px;top:422px;font-size:28px;transform:scaleX(0.7750)">T1</div>
<div class="t" style="left:250.00px;top:422px;font-size:28px;transform:scaleX(0.7812)">T2</div>
<div class="t" style="left:318.75px;top:422px;font-size:28px;transform:scaleX(0.7812)">T3</div>
<div class="t" style="left:369.21px;top:422px;font-size:28px;transform:scaleX(0.7947)">RGCs</div>
<div class="t" style="left:448.21px;top:421px;font-size:28px;transform:scaleX(0.7927)">HCs</div>
<div class="t" style="left:509.84px;top:421px;font-size:28px;transform:scaleX(0.7938)">GLY</div>
<div class="t" style="left:509.40px;top:454px;font-size:28px;transform:scaleX(0.7928)">ACs</div>
<div class="t" style="left:566.14px;top:421px;font-size:28px;transform:scaleX(0.8020)">GABA</div>
<div class="t" style="left:576.25px;top:454px;font-size:28px;transform:scaleX(0.7938)">ACs</div>
<div class="t" style="left:651.17px;top:421px;font-size:28px;transform:scaleX(0.7750)">ST</div>
<div class="t" style="left:643.10px;top:454px;font-size:28px;transform:scaleX(0.7947)">ACs</div>
<div class="t" style="left:698.30px;top:421px;font-size:28px;transform:scaleX(0.7950)">cones</div>
<div class="t" style="left:774.22px;top:421px;font-size:28px;transform:scaleX(0.7839)">rods</div>
<div class="t" style="left:842.31px;top:421px;font-size:28px;transform:scaleX(0.7909)">BCs</div>
<div class="t" style="left:896.10px;top:421px;font-size:28px;transform:scaleX(0.7958)">micro-</div>
<div class="t" style="left:910.77px;top:454px;font-size:28px;transform:scaleX(0.7803)">glia</div>
<div class="t" style="left:979.22px;top:421px;font-size:28px;transform:scaleX(0.7849)">MG</div>
<div class="t" style="left:916.26px;top:45px;font-size:28px;transform:scaleX(0.8050)">distal</div>
<div class="t" style="left:917.99px;top:73px;font-size:28px;transform:scaleX(0.8017)">exon</div>
<div class="t" style="left:916.16px;top:101px;font-size:28px;transform:scaleX(0.8006)">intergenic</div>
<div class="t" style="left:916.18px;top:127px;font-size:28px;transform:scaleX(0.8050)">intron</div>
<div class="t" style="left:917.01px;top:151px;font-size:28px;transform:scaleX(0.7926)">promoter</div>
<div class="t" style="left:1882.41px;top:6px;font-size:28px;transform:scaleX(0.7932)">RPCs</div>
<div class="t" style="left:1881.43px;top:37px;font-size:28px;transform:scaleX(0.7750)">T1</div>
<div class="t" style="left:1882.10px;top:64px;font-size:28px;transform:scaleX(0.7844)">T2</div>
<div class="t" style="left:1882.10px;top:91px;font-size:28px;transform:scaleX(0.7844)">T3</div>
<div class="t" style="left:1882.12px;top:125px;font-size:28px;transform:scaleX(0.7803)">RGCs</div>
<div class="t" style="left:1882.41px;top:155px;font-size:28px;transform:scaleX(0.7872)">HCs</div>
<div class="t" style="left:1882.14px;top:186px;font-size:28px;transform:scaleX(0.7936)">GLY ACs</div>
<div class="t" style="left:1882.74px;top:216px;font-size:28px;transform:scaleX(0.7977)">GABA ACs</div>
<div class="t" style="left:1883.02px;top:247px;font-size:28px;transform:scaleX(0.7937)">ST ACs</div>
<div class="t" style="left:1882.19px;top:278px;font-size:28px;transform:scaleX(0.8050)">cones</div>
<div class="t" style="left:1882.91px;top:309px;font-size:28px;transform:scaleX(0.7932)">rods</div>
<div class="t" style="left:1883.22px;top:339px;font-size:28px;transform:scaleX(0.7835)">BCs</div>
<div class="t" style="left:1882.91px;top:370px;font-size:28px;transform:scaleX(0.7885)">Microglia</div>
<div class="t" style="left:1883.21px;top:401px;font-size:28px;transform:scaleX(0.7860)">MG</div>
<div class="t n" style="left:1425.00px;top:455px;font-size:16px;transform:scaleX(1.0000)">0</div>
<div class="t n" style="left:1447.05px;top:455px;font-size:16px;transform:scaleX(0.9677)">0.2</div>
<div class="t n" style="left:1474.37px;top:455px;font-size:16px;transform:scaleX(0.9378)">0.4</div>
<div class="t n" style="left:1501.56px;top:455px;font-size:16px;transform:scaleX(0.9418)">0.6</div>
<div class="t n" style="left:1529.15px;top:455px;font-size:16px;transform:scaleX(0.9566)">0.8</div>
<div class="t n" style="left:1562.67px;top:455px;font-size:16px;transform:scaleX(0.8500)">1</div>
<div class="t" style="left:250.97px;top:883px;font-size:28px;transform:scaleX(0.7750)">DAPL1</div>
<div class="t" style="left:544.10px;top:883px;font-size:28px;transform:scaleX(0.7998)">FAM131C</div>
<div class="t" style="left:902.30px;top:883px;font-size:28px;transform:scaleX(0.8029)">PTF1A</div>
<div class="t" style="left:1180.55px;top:883px;font-size:28px;transform:scaleX(0.8050)">OTX2</div>
<div class="t" style="left:1493.90px;top:883px;font-size:28px;transform:scaleX(0.7975)">RBPMS</div>
<div class="t" style="left:1779.93px;top:883px;font-size:28px;transform:scaleX(0.8050)">ONECUT2</div>
<div class="t" style="left:250.92px;top:1322px;font-size:28px;transform:scaleX(0.7905)">SLC6A7</div>
<div class="t" style="left:585.34px;top:1322px;font-size:28px;transform:scaleX(0.8008)">GAD2</div>
<div class="t" style="left:887.22px;top:1322px;font-size:28px;transform:scaleX(0.7848)">PDE6B</div>
<div class="t" style="left:1190.00px;top:1322px;font-size:28px;transform:scaleX(0.7978)">NR2E3</div>
<div class="t" style="left:1474.87px;top:1322px;font-size:28px;transform:scaleX(0.7750)">VSX1</div>
<div class="t" style="left:1787.91px;top:1322px;font-size:28px;transform:scaleX(0.8038)">SLC1A</div>
<div class="t" style="left:104.01px;top:540px;font-size:28px;transform:scaleX(0.7904)">RPCs</div>
<div class="t" style="left:137.63px;top:564px;font-size:28px;transform:scaleX(0.7750)">T1</div>
<div class="t" style="left:138.90px;top:587px;font-size:28px;transform:scaleX(0.7781)">T2</div>
<div class="t" style="left:138.90px;top:612px;font-size:28px;transform:scaleX(0.7781)">T3</div>
<div class="t" style="left:102.71px;top:632px;font-size:28px;transform:scaleX(0.7934)">RGCs</div>
<div class="t" style="left:117.82px;top:653px;font-size:28px;transform:scaleX(0.7835)">HCs</div>
<div class="t" style="left:68.44px;top:677px;font-size:28px;transform:scaleX(0.7928)">GLY ACs</div>
<div class="t" style="left:45.74px;top:703px;font-size:28px;transform:scaleX(0.7998)">GABA ACs</div>
<div class="t" style="left:82.52px;top:728px;font-size:28px;transform:scaleX(0.7927)">ST ACs</div>
<div class="t" style="left:97.59px;top:748px;font-size:28px;transform:scaleX(0.8039)">cones</div>
<div class="t" style="left:114.21px;top:771px;font-size:28px;transform:scaleX(0.7949)">rods</div>
<div class="t" style="left:117.82px;top:796px;font-size:28px;transform:scaleX(0.7835)">BCs</div>
<div class="t" style="left:64.31px;top:818px;font-size:28px;transform:scaleX(0.7885)">Microglia</div>
<div class="t" style="left:125.01px;top:845px;font-size:28px;transform:scaleX(0.7930)">MG</div>
<div class="t" style="left:105.11px;top:982px;font-size:28px;transform:scaleX(0.7863)">RPCs</div>
<div class="t" style="left:138.83px;top:1005px;font-size:28px;transform:scaleX(0.7750)">T1</div>
<div class="t" style="left:139.85px;top:1028px;font-size:28px;transform:scaleX(0.7750)">T2</div>
<div class="t" style="left:139.85px;top:1053px;font-size:28px;transform:scaleX(0.7750)">T3</div>
<div class="t" style="left:103.41px;top:1073px;font-size:28px;transform:scaleX(0.7882)">RGCs</div>
<div class="t" style="left:118.51px;top:1094px;font-size:28px;transform:scaleX(0.7872)">HCs</div>
<div class="t" style="left:69.34px;top:1118px;font-size:28px;transform:scaleX(0.7945)">GLY ACs</div>
<div class="t" style="left:46.44px;top:1144px;font-size:28px;transform:scaleX(0.7998)">GABA ACs</div>
<div class="t" style="left:83.21px;top:1168px;font-size:28px;transform:scaleX(0.7958)">ST ACs</div>
<div class="t" style="left:98.49px;top:1189px;font-size:28px;transform:scaleX(0.8001)">cones</div>
<div class="t" style="left:115.21px;top:1212px;font-size:28px;transform:scaleX(0.7881)">rods</div>
<div class="t" style="left:118.51px;top:1237px;font-size:28px;transform:scaleX(0.7872)">BCs</div>
<div class="t" style="left:64.71px;top:1259px;font-size:28px;transform:scaleX(0.7918)">Microglia</div>
<div class="t" style="left:125.71px;top:1285px;font-size:28px;transform:scaleX(0.7930)">MG</div>
</body></html>
